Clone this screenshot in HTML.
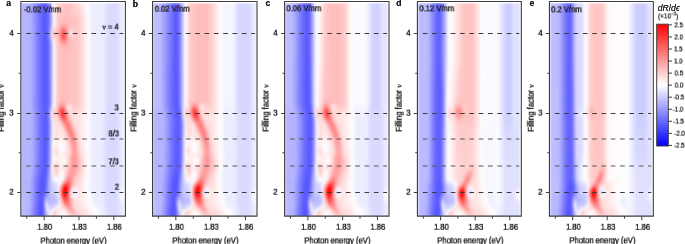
<!DOCTYPE html><html><head><meta charset="utf-8"><style>*{margin:0;padding:0;box-sizing:border-box}html,body{width:685px;height:244px;background:#fff;overflow:hidden;font-family:"Liberation Sans", sans-serif;color:#231f20}.hm{position:absolute;overflow:hidden}.hm>div{position:absolute;left:0;top:0;width:100%;height:100%;filter:blur(1.0px)}.hm i{position:absolute;left:0;width:100%;height:2.6px;display:block}.t{position:absolute;left:0;top:0;white-space:nowrap;line-height:1;font-size:8.5px;transform-origin:0 0;will-change:transform;text-shadow:0 0 0.35px #231f20;-webkit-text-stroke:0.17px #231f20}.b{font-weight:bold;font-size:8.6px;-webkit-text-stroke:0;text-shadow:0 0 0.25px #231f20}.s{font-family:"Liberation Serif",serif}.t sup{font-size:5.5px;vertical-align:3px;line-height:0}.cbt{font-size:8.6px;-webkit-text-stroke:0;text-shadow:0 0 0.3px #231f20}.cbl{font-size:6.9px;-webkit-text-stroke:0.05px #231f20}.cbu{font-size:7.1px;-webkit-text-stroke:0;text-shadow:0 0 0.3px #231f20}.cbu sup{font-size:4.8px;vertical-align:2.6px}</style></head><body><div class="hm" style="left:21.35px;top:2.5px;width:103.05px;height:213.1px"><div><i style="top:0px;background:linear-gradient(90deg,#b5b5ff 0%,#b5b5ff 7.8%,#9f9fff 11.6%,#7272ff 17.5%,#5757ff 23.3%,#6060ff 25.2%,#9393ff 28.1%,#aaf 29.1%,#fffefe 31.1%,#fffbfb 32%,#ffd6d6 34%,#ffc2c2 45.6%,#ffcece 52.4%,#fffdfd 64%,#ededff 67.9%,#ececff 80.5%,#dadaff 84.4%,#dadaff 93.2%,#e9e9ff 96.1%,#e9e9ff 100%)"></i><i style="top:2px;background:linear-gradient(90deg,#b5b5ff 0%,#b5b5ff 7.8%,#9f9fff 11.6%,#7878ff 16.5%,#6161ff 20.4%,#5757ff 23.3%,#6060ff 25.2%,#9292ff 28.1%,#a8a8ff 29.1%,#fff 31.1%,#fffbfb 32%,#ffd6d6 34%,#ffc1c1 45.6%,#ffd7d7 55.3%,#fffdfd 64%,#ededff 67.9%,#ececff 80.5%,#dadaff 84.4%,#dadaff 93.2%,#e9e9ff 96.1%,#e9e9ff 100%)"></i><i style="top:4px;background:linear-gradient(90deg,#b5b5ff 0%,#b5b5ff 7.8%,#99f 12.6%,#6767ff 19.4%,#5757ff 23.3%,#6060ff 25.2%,#6c6cff 26.2%,#a5a5ff 29.1%,#fff 31.1%,#fffbfb 32%,#ffd5d5 34%,#ffc1c1 45.6%,#ffcaca 51.4%,#ffdcdc 57.3%,#fdfdff 65%,#ededff 67.9%,#ececff 80.5%,#dadaff 84.4%,#dadaff 93.2%,#e9e9ff 96.1%,#e9e9ff 100%)"></i><i style="top:6px;background:linear-gradient(90deg,#b5b5ff 0%,#b2b2ff 8.7%,#7979ff 16.5%,#5757ff 23.3%,#6060ff 25.2%,#6b6bff 26.2%,#a1a1ff 29.1%,#fff 31.1%,#fffbfb 32%,#ffd5d5 34%,#ffc9c9 37.8%,#ffc0c0 44.6%,#ffd6d6 56.3%,#fefeff 65%,#ececff 68.9%,#ececff 80.5%,#dadaff 84.4%,#dadaff 93.2%,#e9e9ff 96.1%,#e9e9ff 100%)"></i><i style="top:8px;background:linear-gradient(90deg,#b5b5ff 0%,#b2b2ff 8.7%,#9a9aff 12.6%,#7979ff 16.5%,#5656ff 23.3%,#6969ff 26.2%,#9f9fff 29.1%,#fbfbff 31.1%,#fffbfb 32%,#ffd6d6 34%,#ffd1d1 34.9%,#ffc6c6 38.8%,#ffc0c0 44.6%,#ffd1d1 55.3%,#fff 65%,#ececff 68.9%,#ececff 80.5%,#dadaff 84.4%,#dadaff 93.2%,#e9e9ff 96.1%,#e9e9ff 100%)"></i><i style="top:10px;background:linear-gradient(90deg,#b5b5ff 0%,#b2b2ff 8.7%,#7a7aff 16.5%,#5656ff 23.3%,#6868ff 26.2%,#9d9dff 29.1%,#f8f8ff 31.1%,#fffcfc 32%,#ffd7d7 34%,#ffd0d0 34.9%,#ffc6c6 37.8%,#ffbfbf 43.7%,#ffd1d1 56.3%,#fffefe 65%,#ececff 68.9%,#ececff 80.5%,#dadaff 84.4%,#dadaff 93.2%,#e9e9ff 96.1%,#e9e9ff 100%)"></i><i style="top:12px;background:linear-gradient(90deg,#b5b5ff 0%,#b3b3ff 8.7%,#9b9bff 12.6%,#7a7aff 16.5%,#5656ff 23.3%,#6767ff 26.2%,#9b9bff 29.1%,#f4f4ff 31.1%,#fffcfc 32%,#ffefef 33%,#ffd8d8 34%,#ffcfcf 34.9%,#ffc4c4 37.8%,#ffbebe 43.7%,#ffcece 56.3%,#fffdfd 65%,#ececff 68.9%,#ececff 80.5%,#dadaff 84.4%,#dadaff 93.2%,#e9e9ff 96.1%,#e9e9ff 100%)"></i><i style="top:14px;background:linear-gradient(90deg,#b5b5ff 0%,#b3b3ff 8.7%,#7b7bff 16.5%,#5656ff 23.3%,#66f 26.2%,#9a9aff 29.1%,#c1c1ff 30.1%,#f1f1ff 31.1%,#fffcfc 32%,#fff0f0 33%,#ffd8d8 34%,#ffcfcf 34.9%,#ffc3c3 37.8%,#ffbdbd 43.7%,#ffc9c9 55.3%,#fdfdff 66%,#ececff 68.9%,#ececff 80.5%,#dadaff 84.4%,#dadaff 93.2%,#e9e9ff 96.1%,#e9e9ff 100%)"></i><i style="top:16px;background:linear-gradient(90deg,#b5b5ff 0%,#b4b4ff 8.7%,#9c9cff 12.6%,#7b7bff 16.5%,#5656ff 23.3%,#6565ff 26.2%,#99f 29.1%,#bfbfff 30.1%,#efefff 31.1%,#fffcfc 32%,#fff1f1 33%,#ffd9d9 34%,#ffcece 34.9%,#ffc1c1 37.8%,#fbb 42.7%,#ffc8c8 55.3%,#fdfdff 66%,#ececff 68.9%,#ececff 80.5%,#dadaff 84.4%,#dadaff 93.2%,#e9e9ff 96.1%,#e9e9ff 100%)"></i><i style="top:18px;background:linear-gradient(90deg,#b5b5ff 0%,#b4b4ff 8.7%,#9c9cff 12.6%,#7b7bff 16.5%,#5656ff 23.3%,#6565ff 26.2%,#99f 29.1%,#bfbfff 30.1%,#efefff 31.1%,#fffcfc 32%,#fff1f1 33%,#ffd9d9 34%,#ffcece 34.9%,#ffbfbf 37.8%,#ffb6b6 41.7%,#ffc7c7 55.3%,#fefeff 66%,#ececff 68.9%,#ececff 80.5%,#dadaff 84.4%,#dadaff 93.2%,#e9e9ff 96.1%,#e9e9ff 100%)"></i><i style="top:20px;background:linear-gradient(90deg,#b5b5ff 0%,#b4b4ff 8.7%,#9c9cff 12.6%,#7b7bff 16.5%,#5656ff 23.3%,#6565ff 26.2%,#9a9aff 29.1%,#c1c1ff 30.1%,#f2f2ff 31.1%,#fff9f9 32%,#ffefef 33%,#ffd8d8 34%,#ffcdcd 34.9%,#ffb2b2 39.8%,#ffadad 41.7%,#ffbfbf 47.5%,#ffcaca 56.3%,#fefeff 66%,#ececff 68.9%,#ececff 80.5%,#dadaff 84.4%,#dadaff 93.2%,#e9e9ff 96.1%,#e9e9ff 100%)"></i><i style="top:22px;background:linear-gradient(90deg,#b5b5ff 0%,#b4b4ff 8.7%,#9c9cff 12.6%,#7b7bff 16.5%,#5656ff 23.3%,#6565ff 26.2%,#77f 27.2%,#9f9fff 29.1%,#fafaff 31.1%,#fff2f2 32%,#ffebeb 33%,#ffd7d7 34%,#fcc 34.9%,#ff9f9f 40.8%,#ff9d9d 41.7%,#ffbdbd 46.6%,#ffcaca 56.3%,#fefeff 66%,#ececff 68.9%,#ececff 80.5%,#dadaff 84.4%,#dadaff 93.2%,#e9e9ff 96.1%,#e9e9ff 100%)"></i><i style="top:24px;background:linear-gradient(90deg,#b5b5ff 0%,#b4b4ff 8.7%,#9c9cff 12.6%,#7b7bff 16.5%,#5656ff 23.3%,#6565ff 26.2%,#7979ff 27.2%,#aaf 29.1%,#d8d8ff 30.1%,#fff2f2 31.1%,#ffe4e4 32%,#ffe3e3 33%,#ffd3d3 34%,#ffbcbc 36.9%,#ff8a8a 40.8%,#ff8787 41.7%,#ff8e8e 42.7%,#ffb6b6 45.6%,#ffc4c4 47.5%,#ffcaca 56.3%,#fefeff 66%,#ececff 68.9%,#ececff 80.5%,#dadaff 84.4%,#dadaff 93.2%,#e9e9ff 96.1%,#e9e9ff 100%)"></i><i style="top:26px;background:linear-gradient(90deg,#b5b5ff 0%,#b4b4ff 8.7%,#9c9cff 12.6%,#7b7bff 16.5%,#5656ff 23.3%,#66f 26.2%,#7b7bff 27.2%,#b9b9ff 29.1%,#efefff 30.1%,#ffd8d8 31.1%,#ffcfcf 32%,#ffd6d6 33%,#ffc3c3 35.9%,#ffa6a6 37.8%,#ff7e7e 39.8%,#ff7070 40.8%,#ff6d6d 41.7%,#ff7878 42.7%,#ffb7b7 45.6%,#ffd0d0 47.5%,#ffd2d2 48.5%,#ffc6c6 51.4%,#ffc7c7 55.3%,#fefeff 66%,#ececff 68.9%,#ececff 80.5%,#dadaff 84.4%,#dadaff 93.2%,#e9e9ff 96.1%,#e9e9ff 100%)"></i><i style="top:28px;background:linear-gradient(90deg,#b5b5ff 0%,#b4b4ff 8.7%,#9c9cff 12.6%,#7b7bff 16.5%,#5656ff 23.3%,#6767ff 26.2%,#7e7eff 27.2%,#9e9eff 28.1%,#c8c8ff 29.1%,#fff8f8 30.1%,#ffbfbf 31.1%,#ffbaba 32%,#ffcaca 33%,#ffc0c0 35.9%,#ffb3b3 36.9%,#ff5858 40.8%,#f55 41.7%,#ff6363 42.7%,#ffd1d1 46.6%,#ffdede 47.5%,#ffe0e0 48.5%,#ffc9c9 51.4%,#ffc5c5 53.4%,#ffcaca 56.3%,#fefeff 66%,#ececff 68.9%,#ececff 80.5%,#dadaff 84.4%,#dadaff 93.2%,#e9e9ff 96.1%,#e9e9ff 100%)"></i><i style="top:30px;background:linear-gradient(90deg,#b5b5ff 0%,#b4b4ff 8.7%,#9c9cff 12.6%,#7b7bff 16.5%,#5656ff 23.3%,#6767ff 26.2%,#7f7fff 27.2%,#a1a1ff 28.1%,#ceceff 29.1%,#fee 30.1%,#ffb4b4 31.1%,#ffb2b2 32%,#ffc4c4 33%,#ffbfbf 35.9%,#ffb0b0 36.9%,#ff5f5f 39.8%,#ff4a4a 40.8%,#ff4646 41.7%,#ff5656 42.7%,#ffb8b8 45.6%,#ffd3d3 46.6%,#ffe2e2 47.5%,#ffe4e4 48.5%,#ffcaca 51.4%,#ffc5c5 53.4%,#ffcaca 56.3%,#fefeff 66%,#ececff 68.9%,#ececff 80.5%,#dadaff 84.4%,#dadaff 93.2%,#e9e9ff 96.1%,#e9e9ff 100%)"></i><i style="top:32px;background:linear-gradient(90deg,#b5b5ff 0%,#b4b4ff 8.7%,#9c9cff 12.6%,#7b7bff 16.5%,#5656ff 23.3%,#6767ff 26.2%,#7e7eff 27.2%,#9e9eff 28.1%,#c8c8ff 29.1%,#fff8f8 30.1%,#ffbfbf 31.1%,#ffbaba 32%,#ffcaca 33%,#ffbfbf 35.9%,#ffb0b0 36.9%,#ff5f5f 39.8%,#ff4a4a 40.8%,#ff4646 41.7%,#ff5656 42.7%,#ffb2b2 45.6%,#ffc9c9 46.6%,#ffd7d7 47.5%,#ffd9d9 48.5%,#ffc5c5 52.4%,#ffc7c7 55.3%,#fefeff 66%,#ececff 68.9%,#ececff 80.5%,#dadaff 84.4%,#dadaff 93.2%,#e9e9ff 96.1%,#e9e9ff 100%)"></i><i style="top:34px;background:linear-gradient(90deg,#b5b5ff 0%,#b4b4ff 8.7%,#9c9cff 12.6%,#7b7bff 16.5%,#5656ff 23.3%,#66f 26.2%,#7b7bff 27.2%,#b9b9ff 29.1%,#efefff 30.1%,#ffd8d8 31.1%,#ffcfcf 32%,#ffd6d6 33%,#ffc1c1 35.9%,#ffb3b3 36.9%,#ff5858 40.8%,#f55 41.7%,#ff6262 42.7%,#ffaeae 45.6%,#ffc8c8 47.5%,#ffc7c7 55.3%,#fefeff 66%,#ececff 68.9%,#ececff 80.5%,#dadaff 84.4%,#dadaff 93.2%,#e9e9ff 96.1%,#e9e9ff 100%)"></i><i style="top:36px;background:linear-gradient(90deg,#b5b5ff 0%,#b4b4ff 8.7%,#9c9cff 12.6%,#7b7bff 16.5%,#5656ff 23.3%,#6565ff 26.2%,#7979ff 27.2%,#aaf 29.1%,#d8d8ff 30.1%,#fff2f2 31.1%,#ffe4e4 32%,#ffe3e3 33%,#ffd2d2 34%,#ffb7b7 36.9%,#ff7e7e 39.8%,#ff7070 40.8%,#ff6d6d 41.7%,#f77 42.7%,#ffaeae 45.6%,#ffc0c0 47.5%,#ffcaca 56.3%,#fefeff 66%,#ececff 68.9%,#ececff 80.5%,#dadaff 84.4%,#dadaff 93.2%,#e9e9ff 96.1%,#e9e9ff 100%)"></i><i style="top:38px;background:linear-gradient(90deg,#b5b5ff 0%,#b4b4ff 8.7%,#9c9cff 12.6%,#7b7bff 16.5%,#5656ff 23.3%,#6565ff 26.2%,#8a8aff 28.1%,#9f9fff 29.1%,#fafaff 31.1%,#ffebeb 33%,#ffd6d6 34%,#ffbcbc 36.9%,#ff9494 39.8%,#ff8787 41.7%,#ffbaba 46.6%,#ffcaca 56.3%,#fefeff 66%,#ececff 68.9%,#ececff 80.5%,#dadaff 84.4%,#dadaff 93.2%,#e9e9ff 96.1%,#e9e9ff 100%)"></i><i style="top:40px;background:linear-gradient(90deg,#b5b5ff 0%,#b4b4ff 8.7%,#9c9cff 12.6%,#7b7bff 16.5%,#5656ff 23.3%,#6565ff 26.2%,#9a9aff 29.1%,#c1c1ff 30.1%,#f2f2ff 31.1%,#fff9f9 32%,#ffefef 33%,#ffd8d8 34%,#ffcdcd 34.9%,#ff9f9f 40.8%,#ff9d9d 41.7%,#ffbcbc 46.6%,#ffcaca 56.3%,#fefeff 66%,#ececff 68.9%,#ececff 80.5%,#dadaff 84.4%,#dadaff 93.2%,#e9e9ff 96.1%,#e9e9ff 100%)"></i><i style="top:42px;background:linear-gradient(90deg,#b5b5ff 0%,#b4b4ff 8.7%,#9c9cff 12.6%,#7b7bff 16.5%,#5656ff 23.3%,#6464ff 26.2%,#99f 29.1%,#bfbfff 30.1%,#efefff 31.1%,#fffcfc 32%,#fff1f1 33%,#ffd9d9 34%,#ffcece 34.9%,#ffb2b2 39.8%,#ffadad 41.7%,#ffbfbf 47.5%,#ffcaca 56.3%,#fefeff 66%,#ececff 68.9%,#ececff 80.5%,#dadaff 84.4%,#dadaff 93.2%,#e9e9ff 96.1%,#e9e9ff 100%)"></i><i style="top:44px;background:linear-gradient(90deg,#b5b5ff 0%,#b4b4ff 8.7%,#9c9cff 12.6%,#7b7bff 16.5%,#5656ff 23.3%,#6464ff 26.2%,#9898ff 29.1%,#bebeff 30.1%,#eef 31.1%,#fffcfc 32%,#fff1f1 33%,#ffd9d9 34%,#ffcece 34.9%,#ffbfbf 37.8%,#ffb6b6 41.7%,#ffc7c7 55.3%,#fefeff 66%,#ececff 68.9%,#ececff 80.5%,#dadaff 84.4%,#dadaff 93.2%,#e9e9ff 96.1%,#e9e9ff 100%)"></i><i style="top:46px;background:linear-gradient(90deg,#b5b5ff 0%,#b4b4ff 8.7%,#9c9cff 12.6%,#7b7bff 16.5%,#5656ff 23.3%,#6464ff 26.2%,#9898ff 29.1%,#bebeff 30.1%,#eef 31.1%,#fffcfc 32%,#fff1f1 33%,#ffd9d9 34%,#ffcece 34.9%,#ffc1c1 37.8%,#ffbaba 42.7%,#ffc7c7 55.3%,#fefeff 66%,#ececff 68.9%,#ececff 80.5%,#dadaff 84.4%,#dadaff 93.2%,#e9e9ff 96.1%,#e9e9ff 100%)"></i><i style="top:48px;background:linear-gradient(90deg,#b5b5ff 0%,#b4b4ff 8.7%,#9c9cff 12.6%,#7b7bff 16.5%,#5656ff 23.3%,#6464ff 26.2%,#9898ff 29.1%,#bebeff 30.1%,#eef 31.1%,#fffcfc 32%,#fff1f1 33%,#ffd9d9 34%,#ffcece 34.9%,#ffc1c1 37.8%,#ffbcbc 42.7%,#ffc7c7 55.3%,#fefeff 66%,#ececff 68.9%,#ececff 80.5%,#dadaff 84.4%,#dadaff 93.2%,#e9e9ff 96.1%,#e9e9ff 100%)"></i><i style="top:50px;background:linear-gradient(90deg,#b5b5ff 0%,#b4b4ff 8.7%,#9c9cff 12.6%,#7b7bff 16.5%,#5656ff 23.3%,#6464ff 26.2%,#9898ff 29.1%,#bebeff 30.1%,#eef 31.1%,#fffcfc 32%,#fff1f1 33%,#ffd9d9 34%,#ffcece 34.9%,#ffc0c0 38.8%,#ffbdbd 43.7%,#ffc7c7 55.3%,#fefeff 66%,#ececff 68.9%,#ececff 80.5%,#dadaff 84.4%,#dadaff 93.2%,#e9e9ff 96.1%,#e9e9ff 100%)"></i><i style="top:52px;background:linear-gradient(90deg,#b5b5ff 0%,#b4b4ff 8.7%,#9c9cff 12.6%,#7b7bff 16.5%,#5656ff 23.3%,#6464ff 26.2%,#9898ff 29.1%,#bebeff 30.1%,#eef 31.1%,#fffcfc 32%,#fff1f1 33%,#ffd9d9 34%,#ffcece 34.9%,#ffc0c0 38.8%,#ffbdbd 43.7%,#ffc7c7 55.3%,#fefeff 66%,#ececff 68.9%,#ececff 80.5%,#dadaff 84.4%,#dadaff 93.2%,#e9e9ff 96.1%,#e9e9ff 100%)"></i><i style="top:54px;background:linear-gradient(90deg,#b5b5ff 0%,#b4b4ff 8.7%,#9c9cff 12.6%,#7b7bff 16.5%,#5656ff 23.3%,#6464ff 26.2%,#9898ff 29.1%,#bebeff 30.1%,#eef 31.1%,#fffcfc 32%,#fff1f1 33%,#ffd9d9 34%,#ffcece 34.9%,#ffc0c0 38.8%,#ffbdbd 43.7%,#ffc7c7 55.3%,#fefeff 66%,#ececff 68.9%,#ececff 80.5%,#dadaff 84.4%,#dadaff 93.2%,#e9e9ff 96.1%,#e9e9ff 100%)"></i><i style="top:56px;background:linear-gradient(90deg,#b5b5ff 0%,#b4b4ff 8.7%,#9c9cff 12.6%,#7b7bff 16.5%,#5656ff 23.3%,#6464ff 26.2%,#9898ff 29.1%,#bebeff 30.1%,#eef 31.1%,#fffcfc 32%,#fff1f1 33%,#ffd9d9 34%,#ffcece 34.9%,#ffc0c0 38.8%,#ffbdbd 43.7%,#ffc7c7 55.3%,#fefeff 66%,#ececff 68.9%,#ececff 80.5%,#dadaff 84.4%,#dadaff 93.2%,#e9e9ff 96.1%,#e9e9ff 100%)"></i><i style="top:58px;background:linear-gradient(90deg,#b5b5ff 0%,#b4b4ff 8.7%,#9c9cff 12.6%,#7b7bff 16.5%,#5656ff 23.3%,#6464ff 26.2%,#9898ff 29.1%,#bebeff 30.1%,#eef 31.1%,#fffcfc 32%,#fff1f1 33%,#ffd9d9 34%,#ffcece 34.9%,#ffc0c0 38.8%,#ffbdbd 43.7%,#ffc7c7 55.3%,#fefeff 66%,#ececff 68.9%,#ececff 80.5%,#dadaff 84.4%,#dadaff 93.2%,#e9e9ff 96.1%,#e9e9ff 100%)"></i><i style="top:60px;background:linear-gradient(90deg,#b5b5ff 0%,#b4b4ff 8.7%,#9c9cff 12.6%,#7b7bff 16.5%,#5656ff 23.3%,#6363ff 26.2%,#9898ff 29.1%,#bebeff 30.1%,#eef 31.1%,#fffcfc 32%,#fff1f1 33%,#ffd9d9 34%,#ffcece 34.9%,#ffc0c0 38.8%,#ffbdbd 43.7%,#ffc7c7 55.3%,#fefeff 66%,#ececff 68.9%,#ececff 80.5%,#dadaff 84.4%,#dadaff 93.2%,#e9e9ff 96.1%,#e9e9ff 100%)"></i><i style="top:62px;background:linear-gradient(90deg,#b5b5ff 0%,#b4b4ff 8.7%,#9c9cff 12.6%,#7b7bff 16.5%,#5656ff 23.3%,#6363ff 26.2%,#9898ff 29.1%,#bebeff 30.1%,#eef 31.1%,#fffcfc 32%,#fff1f1 33%,#ffd9d9 34%,#ffcece 34.9%,#ffc0c0 38.8%,#ffbdbd 43.7%,#ffc7c7 55.3%,#fefeff 66%,#ececff 68.9%,#ececff 80.5%,#dadaff 84.4%,#dadaff 93.2%,#e9e9ff 96.1%,#e9e9ff 100%)"></i><i style="top:64px;background:linear-gradient(90deg,#b5b5ff 0%,#b4b4ff 8.7%,#9c9cff 12.6%,#7b7bff 16.5%,#5656ff 23.3%,#6262ff 26.2%,#9898ff 29.1%,#bebeff 30.1%,#eef 31.1%,#fffcfc 32%,#fff1f1 33%,#ffd9d9 34%,#ffcece 34.9%,#ffc0c0 38.8%,#ffbdbd 43.7%,#ffc7c7 55.3%,#fefeff 66%,#ececff 68.9%,#ececff 80.5%,#dadaff 84.4%,#dadaff 93.2%,#e9e9ff 96.1%,#e9e9ff 100%)"></i><i style="top:66px;background:linear-gradient(90deg,#b5b5ff 0%,#b4b4ff 8.7%,#9c9cff 12.6%,#7b7bff 16.5%,#5656ff 23.3%,#6262ff 26.2%,#9898ff 29.1%,#bebeff 30.1%,#eef 31.1%,#fffcfc 32%,#fff1f1 33%,#ffd9d9 34%,#ffcece 34.9%,#ffc0c0 38.8%,#ffbdbd 43.7%,#ffc7c7 55.3%,#fefeff 66%,#ececff 68.9%,#ececff 80.5%,#dadaff 84.4%,#dadaff 93.2%,#e9e9ff 96.1%,#e9e9ff 100%)"></i><i style="top:68px;background:linear-gradient(90deg,#b5b5ff 0%,#b4b4ff 8.7%,#9c9cff 12.6%,#7b7bff 16.5%,#5656ff 23.3%,#6262ff 26.2%,#9898ff 29.1%,#bebeff 30.1%,#eef 31.1%,#fffcfc 32%,#fff1f1 33%,#ffd9d9 34%,#ffcece 34.9%,#ffc0c0 38.8%,#ffbdbd 43.7%,#ffc7c7 55.3%,#fefeff 66%,#ececff 68.9%,#ececff 80.5%,#dadaff 84.4%,#dadaff 93.2%,#e9e9ff 96.1%,#e9e9ff 100%)"></i><i style="top:70px;background:linear-gradient(90deg,#b5b5ff 0%,#b4b4ff 8.7%,#9c9cff 12.6%,#7b7bff 16.5%,#5757ff 23.3%,#6262ff 26.2%,#8585ff 28.1%,#9898ff 29.1%,#bebeff 30.1%,#eef 31.1%,#fffcfc 32%,#fff1f1 33%,#ffd9d9 34%,#ffcece 34.9%,#ffc0c0 38.8%,#ffbdbd 43.7%,#ffc7c7 55.3%,#fefeff 66%,#ececff 68.9%,#ececff 80.5%,#dadaff 84.4%,#dadaff 93.2%,#e9e9ff 96.1%,#e9e9ff 100%)"></i><i style="top:72px;background:linear-gradient(90deg,#b5b5ff 0%,#b4b4ff 8.7%,#9c9cff 12.6%,#7b7bff 16.5%,#5757ff 23.3%,#6262ff 26.2%,#8585ff 28.1%,#9898ff 29.1%,#bebeff 30.1%,#eef 31.1%,#fffcfc 32%,#fff1f1 33%,#ffd9d9 34%,#ffcece 34.9%,#ffc0c0 38.8%,#ffbdbd 43.7%,#ffc7c7 55.3%,#fefeff 66%,#ececff 68.9%,#ececff 80.5%,#dadaff 84.4%,#dadaff 93.2%,#e9e9ff 96.1%,#e9e9ff 100%)"></i><i style="top:74px;background:linear-gradient(90deg,#b5b5ff 0%,#b4b4ff 8.7%,#9c9cff 12.6%,#7b7bff 16.5%,#5757ff 23.3%,#6161ff 26.2%,#7272ff 27.2%,#9898ff 29.1%,#bebeff 30.1%,#eef 31.1%,#fffcfc 32%,#fff1f1 33%,#ffd9d9 34%,#ffcece 34.9%,#ffc0c0 38.8%,#ffbdbd 43.7%,#ffc7c7 55.3%,#fefeff 66%,#ececff 68.9%,#ececff 80.5%,#dadaff 84.4%,#dadaff 93.2%,#e9e9ff 96.1%,#e9e9ff 100%)"></i><i style="top:76px;background:linear-gradient(90deg,#b5b5ff 0%,#b4b4ff 8.7%,#9c9cff 12.6%,#7b7bff 16.5%,#5757ff 23.3%,#6161ff 26.2%,#7272ff 27.2%,#9898ff 29.1%,#bebeff 30.1%,#eef 31.1%,#fffcfc 32%,#fff1f1 33%,#ffd9d9 34%,#ffcece 34.9%,#ffc0c0 38.8%,#ffbdbd 43.7%,#ffc7c7 55.3%,#fefeff 66%,#ececff 68.9%,#ececff 80.5%,#dadaff 84.4%,#dadaff 93.2%,#e9e9ff 96.1%,#e9e9ff 100%)"></i><i style="top:78px;background:linear-gradient(90deg,#b5b5ff 0%,#b4b4ff 8.7%,#9c9cff 12.6%,#7b7bff 16.5%,#5757ff 23.3%,#6161ff 26.2%,#7171ff 27.2%,#9797ff 29.1%,#bebeff 30.1%,#eef 31.1%,#fffcfc 32%,#fff1f1 33%,#ffd9d9 34%,#ffcece 34.9%,#ffc0c0 38.8%,#ffbdbd 43.7%,#ffc7c7 55.3%,#fefeff 66%,#ececff 68.9%,#ececff 80.5%,#dadaff 84.4%,#dadaff 93.2%,#e9e9ff 96.1%,#e9e9ff 100%)"></i><i style="top:80px;background:linear-gradient(90deg,#b5b5ff 0%,#b4b4ff 8.7%,#9c9cff 12.6%,#7b7bff 16.5%,#5757ff 23.3%,#6161ff 26.2%,#7171ff 27.2%,#9797ff 29.1%,#bebeff 30.1%,#eef 31.1%,#fffcfc 32%,#fff1f1 33%,#ffd9d9 34%,#ffcece 34.9%,#ffc0c0 38.8%,#ffbdbd 43.7%,#ffc7c7 55.3%,#fefeff 66%,#ececff 68.9%,#ececff 80.5%,#dadaff 84.4%,#dadaff 93.2%,#e9e9ff 96.1%,#e9e9ff 100%)"></i><i style="top:82px;background:linear-gradient(90deg,#b5b5ff 0%,#b4b4ff 8.7%,#9c9cff 12.6%,#7b7bff 16.5%,#5757ff 23.3%,#6161ff 26.2%,#7171ff 27.2%,#9797ff 29.1%,#bebeff 30.1%,#eef 31.1%,#fffcfc 32%,#fff1f1 33%,#ffd9d9 34%,#ffcece 34.9%,#ffc0c0 38.8%,#ffbdbd 43.7%,#ffc7c7 55.3%,#fefeff 66%,#ececff 68.9%,#ececff 80.5%,#dadaff 84.4%,#dadaff 93.2%,#e9e9ff 96.1%,#e9e9ff 100%)"></i><i style="top:84px;background:linear-gradient(90deg,#b5b5ff 0%,#b4b4ff 8.7%,#9c9cff 12.6%,#7b7bff 16.5%,#5757ff 23.3%,#6161ff 26.2%,#7070ff 27.2%,#9797ff 29.1%,#bebeff 30.1%,#eef 31.1%,#fffcfc 32%,#fff1f1 33%,#ffd9d9 34%,#ffcece 34.9%,#ffc0c0 38.8%,#ffbdbd 43.7%,#ffc7c7 55.3%,#fefeff 66%,#ececff 68.9%,#ececff 80.5%,#dadaff 84.4%,#dadaff 93.2%,#e9e9ff 96.1%,#e9e9ff 100%)"></i><i style="top:86px;background:linear-gradient(90deg,#b5b5ff 0%,#b4b4ff 8.7%,#9c9cff 12.6%,#7b7bff 16.5%,#5757ff 23.3%,#6161ff 26.2%,#7070ff 27.2%,#9797ff 29.1%,#bebeff 30.1%,#eef 31.1%,#fffcfc 32%,#fff1f1 33%,#ffd9d9 34%,#ffcece 34.9%,#ffc0c0 38.8%,#ffbdbd 43.7%,#ffc7c7 55.3%,#fefeff 66%,#ececff 68.9%,#ececff 80.5%,#dadaff 84.4%,#dadaff 93.2%,#e9e9ff 96.1%,#e9e9ff 100%)"></i><i style="top:88px;background:linear-gradient(90deg,#b5b5ff 0%,#b4b4ff 8.7%,#9c9cff 12.6%,#7b7bff 16.5%,#5757ff 23.3%,#6161ff 26.2%,#7070ff 27.2%,#9797ff 29.1%,#bebeff 30.1%,#eef 31.1%,#fffcfc 32%,#fff1f1 33%,#ffd9d9 34%,#ffcece 34.9%,#ffc0c0 38.8%,#ffbdbd 43.7%,#ffc7c7 55.3%,#fefeff 66%,#ececff 68.9%,#ececff 80.5%,#dadaff 84.4%,#dadaff 93.2%,#e9e9ff 96.1%,#e9e9ff 100%)"></i><i style="top:90px;background:linear-gradient(90deg,#b5b5ff 0%,#b4b4ff 8.7%,#9c9cff 12.6%,#7b7bff 16.5%,#5757ff 23.3%,#6161ff 26.2%,#6f6fff 27.2%,#9797ff 29.1%,#bebeff 30.1%,#eef 31.1%,#fffcfc 32%,#fff1f1 33%,#ffd9d9 34%,#ffcece 34.9%,#ffc0c0 38.8%,#ffbdbd 43.7%,#ffc7c7 55.3%,#fefeff 66%,#ececff 68.9%,#ececff 80.5%,#dadaff 84.4%,#dadaff 93.2%,#e9e9ff 96.1%,#e9e9ff 100%)"></i><i style="top:92px;background:linear-gradient(90deg,#b5b5ff 0%,#b4b4ff 8.7%,#9c9cff 12.6%,#7b7bff 16.5%,#5757ff 23.3%,#6161ff 26.2%,#6f6fff 27.2%,#9797ff 29.1%,#bebeff 30.1%,#eef 31.1%,#fffcfc 32%,#fff1f1 33%,#ffd9d9 34%,#ffcece 34.9%,#ffc1c1 37.8%,#ffbdbd 43.7%,#ffc7c7 55.3%,#fefeff 66%,#ececff 68.9%,#ececff 80.5%,#dadaff 84.4%,#dadaff 93.2%,#e9e9ff 96.1%,#e9e9ff 100%)"></i><i style="top:94px;background:linear-gradient(90deg,#b5b5ff 0%,#b4b4ff 8.7%,#9c9cff 12.6%,#7b7bff 16.5%,#5757ff 23.3%,#6161ff 26.2%,#6f6fff 27.2%,#9797ff 29.1%,#bebeff 30.1%,#eef 31.1%,#fffcfc 32%,#fff1f1 33%,#ffd9d9 34%,#ffcece 34.9%,#ffc1c1 37.8%,#ffbcbc 42.7%,#ffc7c7 55.3%,#fefeff 66%,#ececff 68.9%,#ececff 80.5%,#dadaff 84.4%,#dadaff 93.2%,#e9e9ff 96.1%,#e9e9ff 100%)"></i><i style="top:96px;background:linear-gradient(90deg,#b5b5ff 0%,#b4b4ff 8.7%,#9c9cff 12.6%,#7b7bff 16.5%,#5757ff 23.3%,#6060ff 26.2%,#6f6fff 27.2%,#9797ff 29.1%,#bebeff 30.1%,#eef 31.1%,#fffcfc 32%,#fff1f1 33%,#ffd9d9 34%,#ffcdcd 34.9%,#ffbebe 37.8%,#ffbaba 41.7%,#ffc7c7 55.3%,#fefeff 66%,#ececff 68.9%,#ececff 80.5%,#dadaff 84.4%,#dadaff 93.2%,#e9e9ff 96.1%,#e9e9ff 100%)"></i><i style="top:98px;background:linear-gradient(90deg,#b5b5ff 0%,#b4b4ff 8.7%,#7575ff 17.5%,#5757ff 23.3%,#6161ff 26.2%,#6f6fff 27.2%,#9898ff 29.1%,#bfbfff 30.1%,#efefff 31.1%,#fffbfb 32%,#fff1f1 33%,#ffd9d9 34%,#fcc 34.9%,#ffb8b8 37.8%,#ffb3b3 40.8%,#ffc1c1 45.6%,#ffc7c7 55.3%,#fefeff 66%,#ececff 68.9%,#ececff 80.5%,#dadaff 84.4%,#dadaff 93.2%,#e9e9ff 96.1%,#e9e9ff 100%)"></i><i style="top:100px;background:linear-gradient(90deg,#b5b5ff 0%,#b4b4ff 8.7%,#7c7cff 16.5%,#5757ff 23.3%,#6161ff 26.2%,#7070ff 27.2%,#9c9cff 29.1%,#f3f3ff 31.1%,#fff9f9 32%,#fff2f2 33%,#ffcbcb 34.9%,#ffadad 37.8%,#ffa3a3 39.8%,#faa 41.7%,#ffc5c5 44.6%,#ffd0d0 46.6%,#ffc5c5 51.4%,#ffc9c9 55.3%,#fefeff 66%,#ececff 68.9%,#ececff 80.5%,#dadaff 84.4%,#dadaff 93.2%,#e9e9ff 96.1%,#e9e9ff 100%)"></i><i style="top:102px;background:linear-gradient(90deg,#b5b5ff 0%,#b5b5ff 8.7%,#9d9dff 12.6%,#7c7cff 16.5%,#5757ff 23.3%,#6262ff 26.2%,#7373ff 27.2%,#a5a5ff 29.1%,#fcfcff 31.1%,#fff2f2 32%,#fff0f0 33%,#ffc9c9 34.9%,#ff9a9a 37.8%,#f88 39.8%,#ff9797 41.7%,#ffdfdf 45.6%,#ffe5e5 46.6%,#ffcbcb 50.5%,#ffc9c9 52.4%,#ffcdcd 56.3%,#fdfdff 66%,#ececff 68.9%,#ececff 80.5%,#dadaff 83.5%,#dadaff 93.2%,#e9e9ff 96.1%,#e9e9ff 100%)"></i><i style="top:104px;background:linear-gradient(90deg,#b5b5ff 0%,#b5b5ff 8.7%,#9e9eff 12.6%,#7676ff 17.5%,#6060ff 21.3%,#5959ff 24.3%,#6363ff 26.2%,#7676ff 27.2%,#b4b4ff 29.1%,#e1e1ff 30.1%,#fff1f1 31.1%,#ffe4e4 32%,#ffe7e7 33%,#ffdbdb 34%,#ffb3b3 35.9%,#ff6c6c 38.8%,#ff6363 39.8%,#ff6a6a 40.8%,#ff7d7d 41.7%,#ffd0d0 44.6%,#ffe5e5 45.6%,#fee 46.6%,#ffcfcf 50.5%,#ffcdcd 52.4%,#ffd4d4 57.3%,#fdfdff 66%,#ececff 68.9%,#ececff 80.5%,#dadaff 83.5%,#dadaff 93.2%,#e9e9ff 96.1%,#e9e9ff 100%)"></i><i style="top:106px;background:linear-gradient(90deg,#b5b5ff 0%,#b2b2ff 9.7%,#6565ff 20.4%,#5959ff 24.3%,#6464ff 26.2%,#7b7bff 27.2%,#c7c7ff 29.1%,#f8f8ff 30.1%,#ffdbdb 31.1%,#ffd2d2 32%,#ffdbdb 33%,#ffd7d7 34%,#ffabab 35.9%,#ff4e4e 38.8%,#ff4141 39.8%,#ff4848 40.8%,#ff6060 41.7%,#ffc1c1 44.6%,#ffd7d7 45.6%,#ffe1e1 46.6%,#ffe2e2 47.5%,#ffd0d0 51.4%,#ffd7d7 57.3%,#fdfdff 66%,#ececff 68.9%,#ebebff 80.5%,#dadaff 83.5%,#dadaff 93.2%,#e9e9ff 96.1%,#e9e9ff 100%)"></i><i style="top:108px;background:linear-gradient(90deg,#b5b5ff 0%,#b3b3ff 9.7%,#6565ff 20.4%,#5858ff 23.3%,#5a5aff 24.3%,#6565ff 26.2%,#8080ff 27.2%,#d8d8ff 29.1%,#fff2f2 30.1%,#ffc8c8 31.1%,#ffc3c3 32%,#ffd5d5 34%,#ffc6c6 34.9%,#faa 35.9%,#ff4040 38.8%,#ff2e2e 39.8%,#ff3232 40.8%,#ff4a4a 41.7%,#ff9191 43.7%,#ffb0b0 44.6%,#ffc6c6 45.6%,#ffd3d3 46.6%,#ffd7d7 47.5%,#ffd4d4 51.4%,#ffdede 58.2%,#fffdfd 65%,#ececff 68.9%,#ececff 79.6%,#dadaff 83.5%,#dadaff 93.2%,#e9e9ff 96.1%,#e9e9ff 100%)"></i><i style="top:110px;background:linear-gradient(90deg,#b5b5ff 0%,#b4b4ff 9.7%,#7878ff 17.5%,#6161ff 21.3%,#5a5aff 24.3%,#66f 26.2%,#8282ff 27.2%,#e0e0ff 29.1%,#ffeaea 30.1%,#ffc3c3 31.1%,#ffbfbf 32%,#ffd7d7 34%,#fcc 34.9%,#ff9292 36.9%,#ff4747 38.8%,#ff3131 39.8%,#ff2d2d 40.8%,#ff3e3e 41.7%,#ffa3a3 44.6%,#ffbcbc 45.6%,#fcc 46.6%,#ffd8d8 48.5%,#ffe1e1 58.2%,#fffdfd 65%,#ececff 68.9%,#ececff 79.6%,#dadaff 82.5%,#dadaff 93.2%,#e9e9ff 96.1%,#e9e9ff 100%)"></i><i style="top:112px;background:linear-gradient(90deg,#b5b5ff 0%,#b5b5ff 9.7%,#7272ff 18.4%,#6161ff 21.3%,#5a5aff 24.3%,#6565ff 26.2%,#8181ff 27.2%,#ddf 29.1%,#fff2f2 30.1%,#ffcdcd 31.1%,#ffc7c7 32%,#ffdbdb 34%,#ffd5d5 34.9%,#ffa6a6 36.9%,#ff6161 38.8%,#ff4545 39.8%,#ff3838 40.8%,#ff3f3f 41.7%,#ff5656 42.7%,#ff9797 44.6%,#ffc7c7 46.6%,#ffd3d3 47.5%,#ffdcdc 49.5%,#ffe7e7 59.2%,#fffdfd 65%,#ededff 68.9%,#ececff 79.6%,#dadaff 82.5%,#dadaff 93.2%,#e9e9ff 96.1%,#e9e9ff 100%)"></i><i style="top:114px;background:linear-gradient(90deg,#b5b5ff 0%,#b5b5ff 9.7%,#9c9cff 13.6%,#6c6cff 19.4%,#5959ff 23.3%,#5a5aff 24.3%,#6464ff 26.2%,#7f7fff 27.2%,#fcfcff 30.1%,#ffdfdf 31.1%,#ffd3d3 32%,#fdd 34%,#ffdcdc 34.9%,#ffd0d0 35.9%,#ffbdbd 36.9%,#ff6464 39.8%,#ff5050 40.8%,#ff4b4b 41.7%,#ff5757 42.7%,#ffbebe 46.6%,#ffd7d7 48.5%,#ffdfdf 50.5%,#ffe9e9 59.2%,#fffefe 65%,#ededff 68.9%,#ececff 79.6%,#dadaff 82.5%,#dadaff 94.1%,#e9e9ff 96.1%,#e9e9ff 100%)"></i><i style="top:116px;background:linear-gradient(90deg,#b5b5ff 0%,#b5b5ff 9.7%,#66f 20.4%,#5a5aff 24.3%,#6464ff 26.2%,#7d7dff 27.2%,#ececff 30.1%,#fee 31.1%,#ffdcdc 32%,#ffdede 34.9%,#ffd0d0 36.9%,#ff7171 40.8%,#ff6464 41.7%,#ff6464 42.7%,#ff7070 43.7%,#ffafaf 46.6%,#ffcece 48.5%,#ffe0e0 51.4%,#ffeaea 59.2%,#fffefe 65%,#ededff 68.9%,#ececff 79.6%,#dadaff 82.5%,#dadaff 94.1%,#e9e9ff 96.1%,#e9e9ff 100%)"></i><i style="top:118px;background:linear-gradient(90deg,#b5b5ff 0%,#b5b5ff 9.7%,#66f 20.4%,#5a5aff 24.3%,#6363ff 26.2%,#7b7bff 27.2%,#e3e3ff 30.1%,#fff7f7 31.1%,#ffe1e1 32%,#ffd8d8 33%,#ffe0e0 35.9%,#ffdcdc 36.9%,#ffbfbf 38.8%,#ff8181 41.7%,#ff7575 43.7%,#ff8787 45.6%,#ffc0c0 48.5%,#ffd8d8 50.5%,#ffeaea 59.2%,#fffefe 65%,#ededff 68.9%,#ececff 79.6%,#dadaff 82.5%,#dadaff 94.1%,#e9e9ff 96.1%,#e9e9ff 100%)"></i><i style="top:120px;background:linear-gradient(90deg,#b5b5ff 0%,#b5b5ff 9.7%,#9c9cff 13.6%,#6c6cff 19.4%,#5959ff 23.3%,#5a5aff 24.3%,#6363ff 26.2%,#7a7aff 27.2%,#fffcfc 31.1%,#ffe5e5 32%,#ffd9d9 33%,#ffd7d7 34%,#ffe3e3 36.9%,#ffdede 37.8%,#ffc4c4 39.8%,#ff8b8b 42.7%,#ff7575 44.6%,#f77 45.6%,#ff8484 46.6%,#ffc2c2 49.5%,#ffd8d8 51.4%,#fffefe 65%,#ededff 68.9%,#ececff 79.6%,#dadaff 82.5%,#dadaff 94.1%,#e9e9ff 96.1%,#e9e9ff 100%)"></i><i style="top:122px;background:linear-gradient(90deg,#b5b5ff 0%,#b5b5ff 9.7%,#9c9cff 13.6%,#6c6cff 19.4%,#5959ff 23.3%,#5a5aff 24.3%,#6363ff 26.2%,#7a7aff 27.2%,#fff 31.1%,#ffdcdc 33%,#ffd7d7 34%,#ffe5e5 36.9%,#ffdfdf 38.8%,#ffc6c6 40.8%,#ff7878 44.6%,#ff7272 45.6%,#ff7979 46.6%,#ff8989 47.5%,#ffc5c5 50.5%,#ffd9d9 52.4%,#fffefe 65%,#ededff 68.9%,#ececff 79.6%,#dadaff 82.5%,#dadaff 94.1%,#e9e9ff 96.1%,#e9e9ff 100%)"></i><i style="top:124px;background:linear-gradient(90deg,#b5b5ff 0%,#b5b5ff 9.7%,#9c9cff 13.6%,#7979ff 17.5%,#5959ff 23.3%,#6363ff 26.2%,#7b7bff 27.2%,#fefeff 31.1%,#ffd5d5 34%,#ffe8e8 37.8%,#ffdede 39.8%,#ffc4c4 41.7%,#ff8787 44.6%,#ff7a7a 45.6%,#ff7878 46.6%,#ff8080 47.5%,#ffb6b6 50.5%,#ffd2d2 52.4%,#ffe2e2 55.3%,#fffefe 65%,#ededff 68.9%,#ececff 79.6%,#dadaff 82.5%,#dadaff 94.1%,#e9e9ff 96.1%,#e9e9ff 100%)"></i><i style="top:126px;background:linear-gradient(90deg,#b5b5ff 0%,#b5b5ff 9.7%,#9c9cff 13.6%,#7979ff 17.5%,#5959ff 23.3%,#6363ff 26.2%,#7b7bff 27.2%,#fefeff 31.1%,#ffd5d5 34%,#ffd5d5 34.9%,#ffe9e9 37.8%,#ffe4e4 39.8%,#ffd1d1 41.7%,#ff8a8a 45.6%,#ff7e7e 46.6%,#ff7b7b 47.5%,#ff9191 49.5%,#ffc9c9 52.4%,#ffdcdc 54.3%,#fffefe 65%,#ededff 68.9%,#ececff 79.6%,#dadaff 82.5%,#dadaff 94.1%,#e9e9ff 96.1%,#e9e9ff 100%)"></i><i style="top:128px;background:linear-gradient(90deg,#b5b5ff 0%,#b5b5ff 9.7%,#9c9cff 13.6%,#7272ff 18.4%,#5959ff 23.3%,#6363ff 26.2%,#7c7cff 27.2%,#fffefe 31.1%,#ffd7d7 34%,#ffd7d7 34.9%,#ffeaea 37.8%,#ffe2e2 40.8%,#ffc2c2 43.7%,#ff8787 46.6%,#ff7b7b 47.5%,#ff7979 48.5%,#ff8383 49.5%,#ffc0c0 52.4%,#ffd9d9 54.3%,#ffe4e4 56.3%,#fffefe 65%,#ededff 68.9%,#ececff 79.6%,#dadaff 82.5%,#dadaff 94.1%,#e9e9ff 96.1%,#e9e9ff 100%)"></i><i style="top:130px;background:linear-gradient(90deg,#b5b5ff 0%,#b5b5ff 9.7%,#9c9cff 13.6%,#7272ff 18.4%,#5959ff 23.3%,#6363ff 26.2%,#7d7dff 27.2%,#fffcfc 31.1%,#ffd9d9 34%,#ffebeb 37.8%,#ffe5e5 40.8%,#ffd9d9 42.7%,#ffbfbf 44.6%,#ff8282 47.5%,#ff7a7a 48.5%,#ff7d7d 49.5%,#ffc8c8 53.4%,#fdd 55.3%,#fffefe 65%,#ededff 68.9%,#ececff 79.6%,#dadaff 82.5%,#dadaff 94.1%,#e9e9ff 96.1%,#e9e9ff 100%)"></i><i style="top:132px;background:linear-gradient(90deg,#b5b5ff 0%,#b5b5ff 9.7%,#9c9cff 13.6%,#7272ff 18.4%,#5858ff 23.3%,#6363ff 26.2%,#9d9dff 28.1%,#fffafa 31.1%,#ffdbdb 34%,#ffecec 37.8%,#ffdfdf 42.7%,#ffcbcb 44.6%,#ff9090 47.5%,#ff8282 48.5%,#ff7e7e 49.5%,#ff8787 50.5%,#ffc0c0 53.4%,#ffdada 55.3%,#fffefe 65%,#ededff 68.9%,#ececff 79.6%,#dadaff 82.5%,#dadaff 94.1%,#e9e9ff 96.1%,#e9e9ff 100%)"></i><i style="top:134px;background:linear-gradient(90deg,#b5b5ff 0%,#b5b5ff 9.7%,#9c9cff 13.6%,#7878ff 17.5%,#5858ff 23.3%,#6363ff 26.2%,#9d9dff 28.1%,#e0e0ff 30.1%,#fffafa 31.1%,#ffe1e1 34%,#ffeded 37.8%,#fdd 43.7%,#ffc6c6 45.6%,#ff8d8d 48.5%,#ff8282 49.5%,#ff8484 50.5%,#ff9090 51.4%,#ffc9c9 54.3%,#ffdfdf 56.3%,#fffefe 65%,#ededff 68.9%,#ececff 79.6%,#dadaff 82.5%,#dadaff 94.1%,#e9e9ff 96.1%,#e9e9ff 100%)"></i><i style="top:136px;background:linear-gradient(90deg,#b5b5ff 0%,#b5b5ff 9.7%,#9c9cff 13.6%,#7878ff 17.5%,#5858ff 23.3%,#6464ff 26.2%,#bdbdff 29.1%,#e1e1ff 30.1%,#fffbfb 31.1%,#ffe9e9 34%,#fff1f1 37.8%,#ffe2e2 43.7%,#ffd0d0 45.6%,#ff8989 49.5%,#ff8585 50.5%,#ff8c8c 51.4%,#ffc4c4 54.3%,#fdd 56.3%,#fffefe 65%,#ededff 68.9%,#ececff 79.6%,#dadaff 82.5%,#dadaff 94.1%,#e9e9ff 96.1%,#e9e9ff 100%)"></i><i style="top:138px;background:linear-gradient(90deg,#b5b5ff 0%,#b5b5ff 9.7%,#9c9cff 13.6%,#6464ff 20.4%,#5858ff 23.3%,#6464ff 26.2%,#bdbdff 29.1%,#e3e3ff 30.1%,#fffcfc 31.1%,#fee 34.9%,#fff8f8 38.8%,#ffe0e0 44.6%,#ffcaca 46.6%,#ff9393 49.5%,#ff8a8a 50.5%,#ff8c8c 51.4%,#ff9898 52.4%,#ffcfcf 55.3%,#ffdbdb 56.3%,#fffefe 65%,#ededff 68.9%,#ececff 79.6%,#dadaff 82.5%,#dadaff 94.1%,#e9e9ff 96.1%,#e9e9ff 100%)"></i><i style="top:140px;background:linear-gradient(90deg,#b5b5ff 0%,#b5b5ff 9.7%,#9b9bff 13.6%,#7171ff 18.4%,#5858ff 23.3%,#6464ff 26.2%,#bebeff 29.1%,#e5e5ff 30.1%,#fffbfb 31.1%,#ffefef 34%,#fefeff 37.8%,#fffafa 40.8%,#ffdcdc 45.6%,#ffc3c3 47.5%,#ff9e9e 49.5%,#ff9191 50.5%,#ff8e8e 51.4%,#ff9696 52.4%,#ffd8d8 56.3%,#ffe6e6 58.2%,#fffefe 65%,#ededff 68.9%,#ececff 79.6%,#dadaff 82.5%,#dadaff 94.1%,#e9e9ff 96.1%,#e9e9ff 100%)"></i><i style="top:142px;background:linear-gradient(90deg,#b5b5ff 0%,#b5b5ff 9.7%,#9b9bff 13.6%,#7171ff 18.4%,#5858ff 23.3%,#6464ff 26.2%,#bebeff 29.1%,#e7e7ff 30.1%,#fff9f9 31.1%,#ffe8e8 34%,#ffeaea 34.9%,#fff 36.9%,#f3f3ff 38.8%,#fdfdff 40.8%,#ffd7d7 46.6%,#ff9898 50.5%,#ff9191 51.4%,#ff9595 52.4%,#ffc7c7 55.3%,#ffdfdf 57.3%,#fffefe 65%,#ededff 68.9%,#ececff 79.6%,#dadaff 82.5%,#dadaff 94.1%,#e9e9ff 96.1%,#e9e9ff 100%)"></i><i style="top:144px;background:linear-gradient(90deg,#b5b5ff 0%,#b5b5ff 9.7%,#6a6aff 19.4%,#5858ff 23.3%,#6565ff 26.2%,#bfbfff 29.1%,#eaeaff 30.1%,#fff6f6 31.1%,#ffdede 34%,#ffe2e2 34.9%,#fffefe 36.9%,#f2f2ff 38.8%,#fbfbff 40.8%,#fffafa 41.7%,#ffdbdb 46.6%,#ffd0d0 47.5%,#ff9d9d 50.5%,#ff9494 51.4%,#ff9696 52.4%,#ffa1a1 53.4%,#ffc5c5 55.3%,#fdd 57.3%,#fffefe 65%,#ededff 68.9%,#ececff 79.6%,#dadaff 82.5%,#dadaff 94.1%,#e9e9ff 96.1%,#e9e9ff 100%)"></i><i style="top:146px;background:linear-gradient(90deg,#b5b5ff 0%,#b5b5ff 9.7%,#9b9bff 13.6%,#77f 17.5%,#5858ff 23.3%,#66f 26.2%,#bfbfff 29.1%,#ececff 30.1%,#fff4f4 31.1%,#ffdcdc 33%,#ffd7d7 34%,#ffdcdc 34.9%,#fff8f8 36.9%,#fcfcff 37.8%,#f8f8ff 38.8%,#fffefe 40.8%,#ffdcdc 46.6%,#ffd2d2 47.5%,#ffa1a1 50.5%,#ff9898 51.4%,#ff9898 52.4%,#ffdcdc 57.3%,#fffefe 65%,#ededff 68.9%,#ececff 79.6%,#dadaff 82.5%,#dadaff 94.1%,#e9e9ff 96.1%,#e9e9ff 100%)"></i><i style="top:148px;background:linear-gradient(90deg,#b5b5ff 0%,#b5b5ff 9.7%,#9b9bff 13.6%,#77f 17.5%,#5858ff 23.3%,#6767ff 26.2%,#bfbfff 29.1%,#eef 30.1%,#fff5f5 31.1%,#ffd8d8 34%,#ffdbdb 34.9%,#fffafa 37.8%,#fffbfb 39.8%,#ffdbdb 46.6%,#ffd2d2 47.5%,#ffa3a3 50.5%,#f99 51.4%,#f99 52.4%,#ffd9d9 57.3%,#fffdfd 65%,#ededff 68.9%,#ececff 79.6%,#dadaff 82.5%,#dadaff 94.1%,#e9e9ff 96.1%,#e9e9ff 100%)"></i><i style="top:150px;background:linear-gradient(90deg,#b5b5ff 0%,#b5b5ff 9.7%,#9b9bff 13.6%,#7070ff 18.4%,#5858ff 23.3%,#6767ff 26.2%,#bfbfff 29.1%,#eef 30.1%,#fff7f7 31.1%,#ffe0e0 34%,#fff4f4 38.8%,#ffe0e0 45.6%,#ffcfcf 47.5%,#ffa1a1 50.5%,#ff9898 51.4%,#ff9898 52.4%,#ffa0a0 53.4%,#fcc 56.3%,#ffd5d5 57.3%,#fffdfd 65%,#ededff 68.9%,#ececff 79.6%,#dadaff 82.5%,#dadaff 94.1%,#e9e9ff 96.1%,#e9e9ff 100%)"></i><i style="top:152px;background:linear-gradient(90deg,#b5b5ff 0%,#b5b5ff 9.7%,#9b9bff 13.6%,#7070ff 18.4%,#5858ff 23.3%,#6868ff 26.2%,#bfbfff 29.1%,#efefff 30.1%,#fffafa 31.1%,#ffe7e7 34.9%,#fff1f1 39.8%,#ffeaea 43.7%,#ffd4d4 46.6%,#ff9d9d 50.5%,#ff9595 51.4%,#ff9e9e 53.4%,#ffd1d1 57.3%,#fffdfd 65%,#ededff 68.9%,#ececff 79.6%,#dadaff 82.5%,#dadaff 94.1%,#e9e9ff 96.1%,#e9e9ff 100%)"></i><i style="top:154px;background:linear-gradient(90deg,#b5b5ff 0%,#b5b5ff 9.7%,#9b9bff 13.6%,#7070ff 18.4%,#5858ff 23.3%,#6868ff 26.2%,#bfbfff 29.1%,#efefff 30.1%,#fffbfb 31.1%,#ffecec 34.9%,#fff5f5 42.7%,#ffe7e7 44.6%,#ffa5a5 49.5%,#ff9393 51.4%,#ff9b9b 53.4%,#ffd4d4 58.2%,#fffdfd 65%,#ededff 68.9%,#ececff 79.6%,#dadaff 82.5%,#dadaff 94.1%,#e9e9ff 96.1%,#e9e9ff 100%)"></i><i style="top:156px;background:linear-gradient(90deg,#b5b5ff 0%,#b5b5ff 9.7%,#9b9bff 13.6%,#7070ff 18.4%,#5858ff 23.3%,#6868ff 26.2%,#c0c0ff 29.1%,#f1f1ff 30.1%,#fff8f8 31.1%,#ffecec 34.9%,#fffbfb 42.7%,#ffe9e9 44.6%,#ffa2a2 49.5%,#ff9494 51.4%,#ff9c9c 53.4%,#ffc8c8 57.3%,#ffe0e0 60.2%,#fffcfc 65%,#fdfdff 66%,#ededff 68.9%,#ececff 79.6%,#dadaff 82.5%,#dadaff 94.1%,#e9e9ff 96.1%,#e9e9ff 100%)"></i><i style="top:158px;background:linear-gradient(90deg,#b5b5ff 0%,#b5b5ff 9.7%,#9b9bff 13.6%,#6969ff 19.4%,#5858ff 23.3%,#6969ff 26.2%,#c2c2ff 29.1%,#f4f4ff 30.1%,#fff2f2 31.1%,#ffe6e6 34%,#fff9f9 40.8%,#fff7f7 42.7%,#ffe5e5 44.6%,#ffa2a2 49.5%,#ff9797 51.4%,#ff9e9e 53.4%,#ffe6e6 61.1%,#fffcfc 65%,#fdfdff 66%,#ededff 68.9%,#ececff 79.6%,#dadaff 82.5%,#dadaff 94.1%,#e9e9ff 96.1%,#e9e9ff 100%)"></i><i style="top:160px;background:linear-gradient(90deg,#b5b5ff 0%,#b5b5ff 9.7%,#9a9aff 13.6%,#6f6fff 18.4%,#5858ff 23.3%,#6b6bff 26.2%,#a3a3ff 28.1%,#c6c6ff 29.1%,#f9f9ff 30.1%,#ffebeb 31.1%,#ffd7d7 33%,#ffecec 36.9%,#fff1f1 41.7%,#fdd 44.6%,#ff9f9f 49.5%,#ff9898 51.4%,#ffa0a0 53.4%,#ffe5e5 61.1%,#fffcfc 65%,#ededff 68.9%,#ececff 79.6%,#dadaff 82.5%,#dadaff 94.1%,#e9e9ff 96.1%,#e9e9ff 100%)"></i><i style="top:162px;background:linear-gradient(90deg,#b5b5ff 0%,#b5b5ff 9.7%,#6e6eff 18.4%,#5959ff 23.3%,#6161ff 25.2%,#6e6eff 26.2%,#a6a6ff 28.1%,#cbcbff 29.1%,#fdfdff 30.1%,#ffe6e6 31.1%,#ffcbcb 33%,#ffcece 34%,#ffeaea 36.9%,#fee 38.8%,#ffe9e9 41.7%,#ffd6d6 44.6%,#ff9b9b 49.5%,#ff9797 51.4%,#ffa1a1 53.4%,#ffe5e5 61.1%,#fffdfd 65%,#ededff 68.9%,#ececff 79.6%,#dadaff 82.5%,#dadaff 94.1%,#e9e9ff 96.1%,#e9e9ff 100%)"></i><i style="top:164px;background:linear-gradient(90deg,#b5b5ff 0%,#b5b5ff 9.7%,#7a7aff 16.5%,#5858ff 22.3%,#6161ff 25.2%,#7373ff 26.2%,#aaf 28.1%,#cfcfff 29.1%,#fdfdff 30.1%,#ffeaea 31.1%,#ffc8c8 33%,#ffcfcf 34.9%,#ffe8e8 36.9%,#fee 37.8%,#ffe7e7 41.7%,#ffdbdb 43.7%,#ffa1a1 48.5%,#ff9797 50.5%,#ff9e9e 52.4%,#ffeded 62.1%,#fffdfd 65%,#ededff 68.9%,#ececff 79.6%,#dadaff 82.5%,#dadaff 94.1%,#e9e9ff 96.1%,#e9e9ff 100%)"></i><i style="top:166px;background:linear-gradient(90deg,#b5b5ff 0%,#b3b3ff 9.7%,#7979ff 16.5%,#5757ff 22.3%,#6161ff 25.2%,#aeaeff 28.1%,#f9f9ff 30.1%,#fff3f3 31.1%,#ffcdcd 33%,#ffc6c6 34%,#ffcaca 34.9%,#fff0f0 37.8%,#ffefef 40.8%,#ffd9d9 43.7%,#ff9f9f 48.5%,#f99 50.5%,#faa 53.4%,#fee 62.1%,#fffefe 65%,#ededff 68.9%,#ececff 79.6%,#dadaff 82.5%,#dadaff 94.1%,#e9e9ff 96.1%,#e9e9ff 100%)"></i><i style="top:168px;background:linear-gradient(90deg,#b5b5ff 0%,#b2b2ff 9.7%,#77f 16.5%,#55f 22.3%,#6363ff 25.2%,#b3b3ff 28.1%,#f3f3ff 30.1%,#fffdfd 31.1%,#ffd4d4 33%,#ffc9c9 34%,#ffc9c9 34.9%,#fff5f5 37.8%,#fffbfb 38.8%,#fff5f5 40.8%,#ffe3e3 42.7%,#ffa2a2 47.5%,#ff9797 49.5%,#ff9f9f 51.4%,#ffc7c7 56.3%,#fff 65%,#ededff 68.9%,#ececff 79.6%,#dadaff 82.5%,#dadaff 94.1%,#e9e9ff 96.1%,#e9e9ff 100%)"></i><i style="top:170px;background:linear-gradient(90deg,#b5b5ff 0%,#b5b5ff 8.7%,#a2a2ff 11.6%,#6060ff 19.4%,#55f 22.3%,#5e5eff 24.3%,#6969ff 25.2%,#ececff 30.1%,#f8f8ff 31.1%,#fff3f3 32%,#fdd 33%,#ffd1d1 34%,#ffd1d1 34.9%,#fffdfd 37.8%,#fffbfb 40.8%,#ffa6a6 46.6%,#ff9c9c 47.5%,#ff9797 49.5%,#ffc6c6 55.3%,#fefeff 65%,#ededff 68.9%,#ececff 79.6%,#dadaff 82.5%,#dadaff 94.1%,#e9e9ff 96.1%,#e9e9ff 100%)"></i><i style="top:172px;background:linear-gradient(90deg,#b5b5ff 0%,#b5b5ff 8.7%,#5e5eff 19.4%,#5656ff 22.3%,#5e5eff 24.3%,#6f6fff 25.2%,#e7e7ff 30.1%,#fffafa 32%,#ffe7e7 33%,#fdd 34%,#ffdfdf 34.9%,#fff7f7 36.9%,#f9f9ff 37.8%,#f3f3ff 38.8%,#fffefe 40.8%,#ffa8a8 45.6%,#ff9c9c 46.6%,#ff9696 48.5%,#ffc6c6 54.3%,#fffdfd 64%,#ededff 68.9%,#ececff 79.6%,#dadaff 82.5%,#dadaff 94.1%,#e9e9ff 96.1%,#e9e9ff 100%)"></i><i style="top:174px;background:linear-gradient(90deg,#b5b5ff 0%,#b4b4ff 8.7%,#9696ff 12.6%,#7878ff 15.5%,#5454ff 21.3%,#5e5eff 24.3%,#d0d0ff 29.1%,#fbfbff 32%,#ffebeb 34%,#fff 36.9%,#f1f1ff 38.8%,#fffafa 40.8%,#ffa4a4 44.6%,#ff9595 45.6%,#ff8d8d 47.5%,#ffcdcd 54.3%,#ffdcdc 58.2%,#fffefe 64%,#ededff 68.9%,#ececff 79.6%,#dadaff 82.5%,#dadaff 94.1%,#e9e9ff 96.1%,#e9e9ff 100%)"></i><i style="top:176px;background:linear-gradient(90deg,#b5b5ff 0%,#b3b3ff 8.7%,#9d9dff 11.6%,#7676ff 15.5%,#6060ff 18.4%,#5353ff 21.3%,#6161ff 24.3%,#a9a9ff 27.2%,#ceceff 29.1%,#fdfdff 33%,#f6f6ff 37.8%,#fffcfc 39.8%,#ffeaea 40.8%,#ff9e9e 43.7%,#ff8b8b 44.6%,#ff7f7f 45.6%,#ff7d7d 46.6%,#ff8e8e 48.5%,#ffb9b9 51.4%,#fcc 53.4%,#ffdfdf 58.2%,#fff 64%,#ededff 68.9%,#ececff 79.6%,#dadaff 82.5%,#dadaff 94.1%,#e9e9ff 96.1%,#e9e9ff 100%)"></i><i style="top:178px;background:linear-gradient(90deg,#b5b5ff 0%,#b2b2ff 8.7%,#6d6dff 16.5%,#5252ff 21.3%,#6565ff 24.3%,#ababff 27.2%,#ccf 29.1%,#ededff 33%,#ededff 34.9%,#fffefe 37.8%,#fff5f5 38.8%,#ffe3e3 39.8%,#ff7c7c 43.7%,#ff6d6d 44.6%,#ff6969 45.6%,#ff7d7d 47.5%,#ffbfbf 51.4%,#ffd1d1 53.4%,#ffe1e1 58.2%,#fefeff 64%,#ededff 68.9%,#ececff 79.6%,#dadaff 82.5%,#dadaff 94.1%,#e9e9ff 96.1%,#e9e9ff 100%)"></i><i style="top:180px;background:linear-gradient(90deg,#b5b5ff 0%,#b1b1ff 8.7%,#5d5dff 18.4%,#5252ff 21.3%,#5b5bff 23.3%,#6969ff 24.3%,#acacff 27.2%,#cacaff 29.1%,#dfdfff 33%,#e2e2ff 34.9%,#fdfdff 36.9%,#ffdada 38.8%,#ff6161 42.7%,#ff5050 43.7%,#ff4b4b 44.6%,#ff5353 45.6%,#ffa9a9 49.5%,#ffc7c7 51.4%,#ffd5d5 53.4%,#ffdede 57.3%,#fffcfc 63.1%,#fefeff 64%,#ededff 68.9%,#ececff 79.6%,#dadaff 82.5%,#dadaff 94.1%,#e9e9ff 96.1%,#e9e9ff 100%)"></i><i style="top:182px;background:linear-gradient(90deg,#b5b5ff 0%,#b5b5ff 7.8%,#99f 11.6%,#7272ff 15.5%,#5d5dff 18.4%,#5252ff 21.3%,#5b5bff 23.3%,#6b6bff 24.3%,#9a9aff 26.2%,#c8c8ff 29.1%,#ddf 34.9%,#fff9f9 36.9%,#ffbcbc 38.8%,#ff4646 41.7%,#ff2b2b 42.7%,#ff2121 43.7%,#ff2828 44.6%,#ff3e3e 45.6%,#ff9e9e 48.5%,#ffb7b7 49.5%,#ffc9c9 50.5%,#ffd9d9 52.4%,#ffdfdf 57.3%,#fffdfd 63.1%,#ededff 68.9%,#ececff 79.6%,#dadaff 82.5%,#dadaff 94.1%,#e9e9ff 96.1%,#eaeaff 100%)"></i><i style="top:184px;background:linear-gradient(90deg,#b5b5ff 0%,#b5b5ff 7.8%,#99f 11.6%,#6a6aff 16.5%,#5c5cff 18.4%,#5252ff 21.3%,#5b5bff 23.3%,#6c6cff 24.3%,#9b9bff 26.2%,#c7c7ff 29.1%,#ddf 34.9%,#efefff 35.9%,#fff1f1 36.9%,#ffa2a2 38.8%,#ff4242 40.8%,#ff1919 41.7%,#f00 42.7%,#f00 43.7%,#f11 44.6%,#ff3434 45.6%,#ffb2b2 48.5%,#ffd1d1 49.5%,#ffe4e4 50.5%,#ffeded 51.4%,#ffe0e0 57.3%,#fffdfd 63.1%,#fdfdff 64%,#ededff 68.9%,#ececff 79.6%,#dadaff 82.5%,#dadaff 93.2%,#dbdbff 94.1%,#ebebff 96.1%,#ececff 100%)"></i><i style="top:186px;background:linear-gradient(90deg,#b6b6ff 0%,#b5b5ff 7.8%,#99f 11.6%,#6a6aff 16.5%,#5c5cff 18.4%,#5353ff 21.3%,#5c5cff 23.3%,#9d9dff 26.2%,#c7c7ff 29.1%,#d7d7ff 34%,#ddf 34.9%,#f1f1ff 35.9%,#ffebeb 36.9%,#ff9191 38.8%,#ff2828 40.8%,#f00 41.7%,#f00 43.7%,#ff0c0c 44.6%,#ffd0d0 48.5%,#fff6f6 49.5%,#f1f1ff 50.5%,#ececff 51.4%,#fffbfb 53.4%,#ffe5e5 55.3%,#ffe1e1 57.3%,#fdfdff 64%,#ededff 68.9%,#ececff 79.6%,#dadaff 82.5%,#dbdbff 94.1%,#efefff 96.1%,#f4f4ff 98%,#f1f1ff 100%)"></i><i style="top:188px;background:linear-gradient(90deg,#b7b7ff 0%,#b5b5ff 7.8%,#99f 11.6%,#7171ff 15.5%,#5353ff 20.4%,#5f5fff 23.3%,#a2a2ff 26.2%,#c7c7ff 29.1%,#d4d4ff 34%,#dadaff 34.9%,#eef 35.9%,#ffebeb 36.9%,#ff8b8b 38.8%,#ff2121 40.8%,#f00 41.7%,#f00 43.7%,#ff1616 44.6%,#ff4646 45.6%,#ffe8e8 48.5%,#ebebff 49.5%,#d2d2ff 50.5%,#d0d0ff 51.4%,#f6f6ff 53.4%,#fff5f5 54.3%,#ffe9e9 55.3%,#ffe3e3 57.3%,#fffefe 64%,#ebebff 69.9%,#ececff 79.6%,#dadaff 82.5%,#dcdcff 94.1%,#f9f9ff 97%,#fdfdff 98%,#f7f7ff 100%)"></i><i style="top:190px;background:linear-gradient(90deg,#b8b8ff 0%,#b6b6ff 7.8%,#a1a1ff 10.7%,#6161ff 17.5%,#5252ff 20.4%,#6b6bff 23.3%,#a7a7ff 26.2%,#bcbcff 28.1%,#c4c4ff 29.1%,#c8c8ff 32%,#d5d5ff 34.9%,#e5e5ff 35.9%,#fff1f1 36.9%,#ff2b2b 40.8%,#ff0a0a 41.7%,#f00 42.7%,#ff0808 43.7%,#ff2828 44.6%,#ffe8e8 48.5%,#f0f0ff 49.5%,#d9d9ff 50.5%,#d7d7ff 51.4%,#f9f9ff 53.4%,#ffeaea 55.3%,#ffe4e4 57.3%,#fff 65%,#ececff 69.9%,#ececff 79.6%,#dadaff 82.5%,#dadaff 92.2%,#ddf 94.1%,#fff 97%,#fff9f9 98%,#fcfcff 100%)"></i><i style="top:192px;background:linear-gradient(90deg,#babaff 0%,#b7b7ff 7.8%,#a1a1ff 10.7%,#6060ff 17.5%,#5454ff 20.4%,#66f 22.3%,#a1a1ff 25.2%,#bbf 28.1%,#c5c5ff 33%,#d9d9ff 35.9%,#fffdfd 36.9%,#f44 40.8%,#ff2525 41.7%,#ff1919 42.7%,#f22 43.7%,#ff3c3c 44.6%,#ffd3d3 48.5%,#fff0f0 49.5%,#fcfcff 50.5%,#f8f8ff 51.4%,#fff 52.4%,#ffecec 54.3%,#ffe5e5 56.3%,#ffe8e8 59.2%,#fff 66%,#ebebff 70.8%,#ececff 79.6%,#dadaff 82.5%,#dadaff 92.2%,#ddf 94.1%,#f8f8ff 96.1%,#fffdfd 97%,#fff8f8 98%,#fefeff 100%)"></i><i style="top:194px;background:linear-gradient(90deg,#bbf 0%,#b7b7ff 7.8%,#a2a2ff 10.7%,#77f 14.6%,#5f5fff 17.5%,#5656ff 20.4%,#6d6dff 22.3%,#9191ff 23.3%,#a7a7ff 24.3%,#b0b0ff 25.2%,#aeaeff 26.2%,#babaff 28.1%,#c8c8ff 34.9%,#d0d0ff 35.9%,#f3f3ff 36.9%,#ffdbdb 37.8%,#ff6363 40.8%,#ff4343 41.7%,#ff3636 42.7%,#ff3939 43.7%,#ff4a4a 44.6%,#ffbebe 48.5%,#ffe2e2 50.5%,#ffe8e8 51.4%,#ffe6e6 57.3%,#fff 67%,#ebebff 70.8%,#ececff 79.6%,#dadaff 82.5%,#dbdbff 93.2%,#ddf 94.1%,#fdfdff 97%,#fafaff 100%)"></i><i style="top:196px;background:linear-gradient(90deg,#bbf 0%,#b8b8ff 7.8%,#a2a2ff 10.7%,#77f 14.6%,#55f 19.4%,#6060ff 21.3%,#7575ff 22.3%,#a3a3ff 23.3%,#c0c0ff 24.3%,#c0c0ff 25.2%,#b3b3ff 26.2%,#c0c0ff 34%,#c9c9ff 35.9%,#e6e6ff 36.9%,#ffebeb 37.8%,#ff6060 41.7%,#ff4e4e 42.7%,#ff4a4a 43.7%,#ff5454 44.6%,#ff6868 45.6%,#ff9b9b 47.5%,#ffc5c5 49.5%,#ffd2d2 50.5%,#ffdede 52.4%,#fffefe 67%,#ececff 70.8%,#ececff 79.6%,#dadaff 82.5%,#dcdcff 94.1%,#f6f6ff 97%,#f4f4ff 100%)"></i><i style="top:198px;background:linear-gradient(90deg,#bbf 0%,#b8b8ff 7.8%,#9898ff 11.6%,#77f 14.6%,#55f 19.4%,#5f5fff 21.3%,#77f 22.3%,#afafff 23.3%,#d8d8ff 24.3%,#d5d5ff 25.2%,#bcbcff 26.2%,#b6b6ff 27.2%,#c8c8ff 35.9%,#e6e6ff 36.9%,#fff1f1 37.8%,#ffbcbc 39.8%,#ff7d7d 41.7%,#ff6868 42.7%,#ff5e5e 43.7%,#ff5f5f 44.6%,#ff6c6c 45.6%,#ffafaf 48.5%,#ffcfcf 50.5%,#ffdfdf 53.4%,#fffefe 67%,#ebebff 71.8%,#ececff 79.6%,#dadaff 82.5%,#dbdbff 94.1%,#ededff 96.1%,#eef 100%)"></i><i style="top:200px;background:linear-gradient(90deg,#bbf 0%,#b8b8ff 7.8%,#a1a1ff 10.7%,#6565ff 16.5%,#55f 19.4%,#5e5eff 21.3%,#7676ff 22.3%,#e9e9ff 24.3%,#ebebff 25.2%,#cacaff 26.2%,#bcbcff 27.2%,#cbcbff 34.9%,#dbdbff 35.9%,#fafaff 36.9%,#ffe0e0 38.8%,#ff8a8a 42.7%,#ff7272 44.6%,#ff7676 45.6%,#ff8484 46.6%,#ffaeae 48.5%,#ffcece 50.5%,#ffe0e0 53.4%,#ffecec 61.1%,#fff 67.9%,#ededff 71.8%,#ececff 79.6%,#dadaff 82.5%,#dadaff 93.2%,#dbdbff 94.1%,#eaeaff 96.1%,#ebebff 100%)"></i><i style="top:202px;background:linear-gradient(90deg,#bbf 0%,#b8b8ff 7.8%,#9f9fff 10.7%,#7474ff 14.6%,#5353ff 19.4%,#5d5dff 21.3%,#7272ff 22.3%,#ececff 24.3%,#f9f9ff 25.2%,#d9d9ff 26.2%,#c6c6ff 27.2%,#c5c5ff 28.1%,#d5d5ff 34%,#e5e5ff 34.9%,#fefeff 35.9%,#fff1f1 36.9%,#ffdada 39.8%,#ff8f8f 44.6%,#f88 45.6%,#ff9696 47.5%,#ffc9c9 50.5%,#ffdcdc 52.4%,#ffe9e9 61.1%,#fefeff 68.9%,#f1f1ff 71.8%,#ebebff 80.5%,#dadaff 83.5%,#dadaff 93.2%,#e9e9ff 96.1%,#e9e9ff 100%)"></i><i style="top:204px;background:linear-gradient(90deg,#bbf 0%,#b7b7ff 7.8%,#7272ff 14.6%,#5252ff 19.4%,#5c5cff 21.3%,#6f6fff 22.3%,#a1a1ff 23.3%,#e0e0ff 24.3%,#f8f8ff 25.2%,#d1d1ff 27.2%,#cfcfff 28.1%,#e7e7ff 33%,#f9f9ff 34%,#fff0f0 34.9%,#ffe5e5 39.8%,#ffcece 42.7%,#ffa2a2 45.6%,#ff9898 47.5%,#ff9f9f 48.5%,#ffcaca 51.4%,#ffdcdc 53.4%,#ffe3e3 60.2%,#fff 69.9%,#f4f4ff 72.8%,#ebebff 80.5%,#dadaff 84.4%,#dadaff 93.2%,#e9e9ff 96.1%,#e9e9ff 100%)"></i><i style="top:206px;background:linear-gradient(90deg,#bbf 0%,#b5b5ff 7.8%,#7070ff 14.6%,#5252ff 19.4%,#5c5cff 21.3%,#6e6eff 22.3%,#9696ff 23.3%,#ccf 24.3%,#ececff 25.2%,#dadaff 28.1%,#fffdfd 32%,#fdd 34%,#ffeded 37.8%,#ffeded 40.8%,#ffe6e6 42.7%,#ffb1b1 46.6%,#ffa3a3 48.5%,#ffa7a7 49.5%,#ffdbdb 54.3%,#ffdfdf 60.2%,#fffefe 70.8%,#ececff 80.5%,#dadaff 84.4%,#dadaff 93.2%,#e9e9ff 96.1%,#e9e9ff 100%)"></i><i style="top:208px;background:linear-gradient(90deg,#bbf 0%,#b4b4ff 7.8%,#66f 15.5%,#5252ff 19.4%,#5c5cff 21.3%,#6e6eff 22.3%,#9090ff 23.3%,#bcbcff 24.3%,#dbdbff 25.2%,#e4e4ff 26.2%,#e6e6ff 28.1%,#fffcfc 30.1%,#ffd3d3 32%,#ffcaca 33%,#ffefef 36.9%,#fff6f6 41.7%,#ffecec 43.7%,#ffb3b3 48.5%,#ffafaf 49.5%,#ffb1b1 50.5%,#ffd9d9 55.3%,#ffdede 61.1%,#fffdfd 71.8%,#ebebff 81.5%,#dadaff 85.4%,#dadaff 93.2%,#e9e9ff 96.1%,#e9e9ff 100%)"></i><i style="top:210px;background:linear-gradient(90deg,#bbf 0%,#b3b3ff 7.8%,#6d6dff 14.6%,#5d5dff 16.5%,#5252ff 19.4%,#5b5bff 21.3%,#6f6fff 22.3%,#cdcdff 25.2%,#dedeff 26.2%,#fffdfd 29.1%,#ffc1c1 32%,#ffc8c8 33%,#fee 35.9%,#fffcfc 40.8%,#fee 44.6%,#ffc1c1 49.5%,#ffbdbd 51.4%,#ffd7d7 56.3%,#ffd9d9 60.2%,#fefeff 73.8%,#dadaff 86.4%,#dadaff 93.2%,#e9e9ff 96.1%,#e9e9ff 100%)"></i><i style="top:212px;background:linear-gradient(90deg,#bbf 0%,#b8b8ff 6.8%,#a1a1ff 9.7%,#7575ff 13.6%,#5c5cff 16.5%,#5252ff 19.4%,#5b5bff 21.3%,#6f6fff 22.3%,#aaf 24.3%,#d8d8ff 26.2%,#f6f6ff 28.1%,#fff5f5 29.1%,#ffcfcf 31.1%,#ffcaca 32%,#fff2f2 35.9%,#fffefe 39.8%,#fee 45.6%,#ffcece 50.5%,#ffc9c9 52.4%,#ffdada 61.1%,#fffefe 73.8%,#dadaff 86.4%,#dadaff 93.2%,#e9e9ff 96.1%,#e9e9ff 100%)"></i></div></div><div class="hm" style="left:153.05px;top:2.5px;width:102.95px;height:213.1px"><div><i style="top:0px;background:linear-gradient(90deg,#c0c0ff 0%,#bdbdff 6.8%,#5757ff 22.3%,#6161ff 24.3%,#7373ff 25.3%,#afafff 28.2%,#fff 31.1%,#fff3f3 33%,#fcc 35%,#ffbdbd 43.7%,#ffbdbd 51.5%,#ffd0d0 57.3%,#fff 66.1%,#f5f5ff 68%,#f5f5ff 78.7%,#d6d6ff 82.6%,#d6d6ff 94.2%,#e9e9ff 96.2%,#e9e9ff 100%)"></i><i style="top:2px;background:linear-gradient(90deg,#c0c0ff 0%,#bdbdff 6.8%,#5757ff 22.3%,#6161ff 24.3%,#7373ff 25.3%,#afafff 28.2%,#fff 31.1%,#fff3f3 33%,#fcc 35%,#ffbdbd 43.7%,#ffbdbd 51.5%,#ffd0d0 57.3%,#fff 66.1%,#f5f5ff 68%,#f5f5ff 78.7%,#d6d6ff 82.6%,#d6d6ff 94.2%,#e9e9ff 96.2%,#e9e9ff 100%)"></i><i style="top:4px;background:linear-gradient(90deg,#c0c0ff 0%,#bdbdff 6.8%,#5757ff 22.3%,#6161ff 24.3%,#7373ff 25.3%,#afafff 28.2%,#fff 31.1%,#fff3f3 33%,#fcc 35%,#ffbdbd 43.7%,#ffbdbd 51.5%,#ffd0d0 57.3%,#fff 66.1%,#f5f5ff 68%,#f5f5ff 78.7%,#d6d6ff 82.6%,#d6d6ff 94.2%,#e9e9ff 96.2%,#e9e9ff 100%)"></i><i style="top:6px;background:linear-gradient(90deg,#c0c0ff 0%,#bdbdff 6.8%,#5757ff 22.3%,#6161ff 24.3%,#7373ff 25.3%,#afafff 28.2%,#fff 31.1%,#fff3f3 33%,#fcc 35%,#ffbdbd 43.7%,#ffbdbd 51.5%,#ffd0d0 57.3%,#fff 66.1%,#f5f5ff 68%,#f5f5ff 78.7%,#d6d6ff 82.6%,#d6d6ff 94.2%,#e9e9ff 96.2%,#e9e9ff 100%)"></i><i style="top:8px;background:linear-gradient(90deg,#c0c0ff 0%,#bdbdff 6.8%,#5757ff 22.3%,#6161ff 24.3%,#7373ff 25.3%,#afafff 28.2%,#fff 31.1%,#fff3f3 33%,#fcc 35%,#ffbdbd 43.7%,#ffbdbd 51.5%,#ffd0d0 57.3%,#fff 66.1%,#f5f5ff 68%,#f5f5ff 78.7%,#d6d6ff 82.6%,#d6d6ff 94.2%,#e9e9ff 96.2%,#e9e9ff 100%)"></i><i style="top:10px;background:linear-gradient(90deg,#c0c0ff 0%,#bdbdff 6.8%,#5757ff 22.3%,#6161ff 24.3%,#7373ff 25.3%,#afafff 28.2%,#fff 31.1%,#fff3f3 33%,#fcc 35%,#ffbdbd 43.7%,#ffbdbd 51.5%,#ffd0d0 57.3%,#fff 66.1%,#f5f5ff 68%,#f5f5ff 78.7%,#d6d6ff 82.6%,#d6d6ff 94.2%,#e9e9ff 96.2%,#e9e9ff 100%)"></i><i style="top:12px;background:linear-gradient(90deg,#c0c0ff 0%,#bdbdff 6.8%,#5757ff 22.3%,#6161ff 24.3%,#7373ff 25.3%,#afafff 28.2%,#fff 31.1%,#fff3f3 33%,#fcc 35%,#ffbdbd 43.7%,#ffbdbd 51.5%,#ffd0d0 57.3%,#fff 66.1%,#f5f5ff 68%,#f5f5ff 78.7%,#d6d6ff 82.6%,#d6d6ff 94.2%,#e9e9ff 96.2%,#e9e9ff 100%)"></i><i style="top:14px;background:linear-gradient(90deg,#c0c0ff 0%,#bdbdff 6.8%,#5757ff 22.3%,#6161ff 24.3%,#7373ff 25.3%,#afafff 28.2%,#fff 31.1%,#fff3f3 33%,#fcc 35%,#ffbdbd 43.7%,#ffbdbd 51.5%,#ffd0d0 57.3%,#fff 66.1%,#f5f5ff 68%,#f5f5ff 78.7%,#d6d6ff 82.6%,#d6d6ff 94.2%,#e9e9ff 96.2%,#e9e9ff 100%)"></i><i style="top:16px;background:linear-gradient(90deg,#c0c0ff 0%,#bdbdff 6.8%,#5757ff 22.3%,#6161ff 24.3%,#7373ff 25.3%,#afafff 28.2%,#fff 31.1%,#fff3f3 33%,#fcc 35%,#ffbdbd 43.7%,#ffbdbd 51.5%,#ffd0d0 57.3%,#fff 66.1%,#f5f5ff 68%,#f5f5ff 78.7%,#d6d6ff 82.6%,#d6d6ff 94.2%,#e9e9ff 96.2%,#e9e9ff 100%)"></i><i style="top:18px;background:linear-gradient(90deg,#c0c0ff 0%,#bdbdff 6.8%,#5757ff 22.3%,#6161ff 24.3%,#7373ff 25.3%,#afafff 28.2%,#fff 31.1%,#fff3f3 33%,#fcc 35%,#ffbdbd 43.7%,#ffbdbd 51.5%,#ffd0d0 57.3%,#fff 66.1%,#f5f5ff 68%,#f5f5ff 78.7%,#d6d6ff 82.6%,#d6d6ff 94.2%,#e9e9ff 96.2%,#e9e9ff 100%)"></i><i style="top:20px;background:linear-gradient(90deg,#c0c0ff 0%,#bdbdff 6.8%,#5757ff 22.3%,#6161ff 24.3%,#7373ff 25.3%,#afafff 28.2%,#fff 31.1%,#fff3f3 33%,#fcc 35%,#ffbdbd 43.7%,#ffbdbd 51.5%,#ffd0d0 57.3%,#fff 66.1%,#f5f5ff 68%,#f5f5ff 78.7%,#d6d6ff 82.6%,#d6d6ff 94.2%,#e9e9ff 96.2%,#e9e9ff 100%)"></i><i style="top:22px;background:linear-gradient(90deg,#c0c0ff 0%,#bdbdff 6.8%,#5757ff 22.3%,#6161ff 24.3%,#7373ff 25.3%,#afafff 28.2%,#fff 31.1%,#fff3f3 33%,#fcc 35%,#ffbdbd 43.7%,#ffbdbd 51.5%,#ffd0d0 57.3%,#fff 66.1%,#f5f5ff 68%,#f5f5ff 78.7%,#d6d6ff 82.6%,#d6d6ff 94.2%,#e9e9ff 96.2%,#e9e9ff 100%)"></i><i style="top:24px;background:linear-gradient(90deg,#c0c0ff 0%,#bdbdff 6.8%,#5757ff 22.3%,#6161ff 24.3%,#7373ff 25.3%,#afafff 28.2%,#fff 31.1%,#fff3f3 33%,#fcc 35%,#ffbdbd 43.7%,#ffbdbd 51.5%,#ffd0d0 57.3%,#fff 66.1%,#f5f5ff 68%,#f5f5ff 78.7%,#d6d6ff 82.6%,#d6d6ff 94.2%,#e9e9ff 96.2%,#e9e9ff 100%)"></i><i style="top:26px;background:linear-gradient(90deg,#c0c0ff 0%,#bdbdff 6.8%,#5757ff 22.3%,#6161ff 24.3%,#7373ff 25.3%,#afafff 28.2%,#fff 31.1%,#fff3f3 33%,#fcc 35%,#ffbdbd 43.7%,#ffbdbd 51.5%,#ffd0d0 57.3%,#fff 66.1%,#f5f5ff 68%,#f5f5ff 78.7%,#d6d6ff 82.6%,#d6d6ff 94.2%,#e9e9ff 96.2%,#e9e9ff 100%)"></i><i style="top:28px;background:linear-gradient(90deg,#c0c0ff 0%,#bdbdff 6.8%,#5757ff 22.3%,#6161ff 24.3%,#7373ff 25.3%,#afafff 28.2%,#fff 31.1%,#fff3f3 33%,#fcc 35%,#ffbdbd 43.7%,#ffbdbd 51.5%,#ffd0d0 57.3%,#fff 66.1%,#f5f5ff 68%,#f5f5ff 78.7%,#d6d6ff 82.6%,#d6d6ff 94.2%,#e9e9ff 96.2%,#e9e9ff 100%)"></i><i style="top:30px;background:linear-gradient(90deg,#c0c0ff 0%,#bdbdff 6.8%,#5757ff 22.3%,#6161ff 24.3%,#7373ff 25.3%,#afafff 28.2%,#fff 31.1%,#fff3f3 33%,#fcc 35%,#ffbdbd 43.7%,#ffbdbd 51.5%,#ffd0d0 57.3%,#fff 66.1%,#f5f5ff 68%,#f5f5ff 78.7%,#d6d6ff 82.6%,#d6d6ff 94.2%,#e9e9ff 96.2%,#e9e9ff 100%)"></i><i style="top:32px;background:linear-gradient(90deg,#c0c0ff 0%,#bdbdff 6.8%,#5757ff 22.3%,#6161ff 24.3%,#7373ff 25.3%,#afafff 28.2%,#fff 31.1%,#fff3f3 33%,#fcc 35%,#ffbdbd 43.7%,#ffbdbd 51.5%,#ffd0d0 57.3%,#fff 66.1%,#f5f5ff 68%,#f5f5ff 78.7%,#d6d6ff 82.6%,#d6d6ff 94.2%,#e9e9ff 96.2%,#e9e9ff 100%)"></i><i style="top:34px;background:linear-gradient(90deg,#c0c0ff 0%,#bdbdff 6.8%,#5757ff 22.3%,#6161ff 24.3%,#7373ff 25.3%,#afafff 28.2%,#fff 31.1%,#fff3f3 33%,#fcc 35%,#ffbdbd 43.7%,#ffbdbd 51.5%,#ffd0d0 57.3%,#fff 66.1%,#f5f5ff 68%,#f5f5ff 78.7%,#d6d6ff 82.6%,#d6d6ff 94.2%,#e9e9ff 96.2%,#e9e9ff 100%)"></i><i style="top:36px;background:linear-gradient(90deg,#c0c0ff 0%,#bdbdff 6.8%,#5757ff 22.3%,#6161ff 24.3%,#7373ff 25.3%,#afafff 28.2%,#fff 31.1%,#fff3f3 33%,#fcc 35%,#ffbdbd 43.7%,#ffbdbd 51.5%,#ffd0d0 57.3%,#fff 66.1%,#f5f5ff 68%,#f5f5ff 78.7%,#d6d6ff 82.6%,#d6d6ff 94.2%,#e9e9ff 96.2%,#e9e9ff 100%)"></i><i style="top:38px;background:linear-gradient(90deg,#c0c0ff 0%,#bdbdff 6.8%,#5757ff 22.3%,#6161ff 24.3%,#7373ff 25.3%,#afafff 28.2%,#fff 31.1%,#fff3f3 33%,#fcc 35%,#ffbdbd 43.7%,#ffbdbd 51.5%,#ffd0d0 57.3%,#fff 66.1%,#f5f5ff 68%,#f5f5ff 78.7%,#d6d6ff 82.6%,#d6d6ff 94.2%,#e9e9ff 96.2%,#e9e9ff 100%)"></i><i style="top:40px;background:linear-gradient(90deg,#c0c0ff 0%,#bdbdff 6.8%,#5757ff 22.3%,#6161ff 24.3%,#7373ff 25.3%,#afafff 28.2%,#fff 31.1%,#fff3f3 33%,#fcc 35%,#ffbdbd 43.7%,#ffbdbd 51.5%,#ffd0d0 57.3%,#fff 66.1%,#f5f5ff 68%,#f5f5ff 78.7%,#d6d6ff 82.6%,#d6d6ff 94.2%,#e9e9ff 96.2%,#e9e9ff 100%)"></i><i style="top:42px;background:linear-gradient(90deg,#c0c0ff 0%,#bdbdff 6.8%,#5757ff 22.3%,#6161ff 24.3%,#7373ff 25.3%,#afafff 28.2%,#fff 31.1%,#fff3f3 33%,#fcc 35%,#ffbdbd 43.7%,#ffbdbd 51.5%,#ffd0d0 57.3%,#fff 66.1%,#f5f5ff 68%,#f5f5ff 78.7%,#d6d6ff 82.6%,#d6d6ff 94.2%,#e9e9ff 96.2%,#e9e9ff 100%)"></i><i style="top:44px;background:linear-gradient(90deg,#c0c0ff 0%,#bdbdff 6.8%,#5757ff 22.3%,#6161ff 24.3%,#7373ff 25.3%,#afafff 28.2%,#fff 31.1%,#fff3f3 33%,#fcc 35%,#ffbdbd 43.7%,#ffbdbd 51.5%,#ffd0d0 57.3%,#fff 66.1%,#f5f5ff 68%,#f5f5ff 78.7%,#d6d6ff 82.6%,#d6d6ff 94.2%,#e9e9ff 96.2%,#e9e9ff 100%)"></i><i style="top:46px;background:linear-gradient(90deg,#c0c0ff 0%,#bdbdff 6.8%,#5757ff 22.3%,#6161ff 24.3%,#7373ff 25.3%,#afafff 28.2%,#fff 31.1%,#fff3f3 33%,#fcc 35%,#ffbdbd 43.7%,#ffbdbd 51.5%,#ffd0d0 57.3%,#fff 66.1%,#f5f5ff 68%,#f5f5ff 78.7%,#d6d6ff 82.6%,#d6d6ff 94.2%,#e9e9ff 96.2%,#e9e9ff 100%)"></i><i style="top:48px;background:linear-gradient(90deg,#c0c0ff 0%,#bdbdff 6.8%,#5757ff 22.3%,#6161ff 24.3%,#7373ff 25.3%,#afafff 28.2%,#fff 31.1%,#fff3f3 33%,#fcc 35%,#ffbdbd 43.7%,#ffbdbd 51.5%,#ffd0d0 57.3%,#fff 66.1%,#f5f5ff 68%,#f5f5ff 78.7%,#d6d6ff 82.6%,#d6d6ff 94.2%,#e9e9ff 96.2%,#e9e9ff 100%)"></i><i style="top:50px;background:linear-gradient(90deg,#c0c0ff 0%,#bdbdff 6.8%,#5757ff 22.3%,#6161ff 24.3%,#7373ff 25.3%,#afafff 28.2%,#fff 31.1%,#fff3f3 33%,#fcc 35%,#ffbdbd 43.7%,#ffbdbd 51.5%,#ffd0d0 57.3%,#fff 66.1%,#f5f5ff 68%,#f5f5ff 78.7%,#d6d6ff 82.6%,#d6d6ff 94.2%,#e9e9ff 96.2%,#e9e9ff 100%)"></i><i style="top:52px;background:linear-gradient(90deg,#c0c0ff 0%,#bdbdff 6.8%,#5757ff 22.3%,#6161ff 24.3%,#7272ff 25.3%,#afafff 28.2%,#fff 31.1%,#fff3f3 33%,#fcc 35%,#ffbdbd 43.7%,#ffbdbd 51.5%,#ffd0d0 57.3%,#fff 66.1%,#f5f5ff 68%,#f5f5ff 78.7%,#d6d6ff 82.6%,#d6d6ff 94.2%,#e9e9ff 96.2%,#e9e9ff 100%)"></i><i style="top:54px;background:linear-gradient(90deg,#c0c0ff 0%,#bdbdff 6.8%,#a6a6ff 10.7%,#7979ff 16.5%,#5757ff 22.3%,#6161ff 24.3%,#7272ff 25.3%,#afafff 28.2%,#fff 31.1%,#fff3f3 33%,#fcc 35%,#ffbdbd 43.7%,#ffbdbd 51.5%,#ffd0d0 57.3%,#fff 66.1%,#f5f5ff 68%,#f5f5ff 78.7%,#d6d6ff 82.6%,#d6d6ff 94.2%,#e9e9ff 96.2%,#e9e9ff 100%)"></i><i style="top:56px;background:linear-gradient(90deg,#c0c0ff 0%,#bdbdff 6.8%,#5656ff 22.3%,#6161ff 24.3%,#7272ff 25.3%,#afafff 28.2%,#fff 31.1%,#fff3f3 33%,#fcc 35%,#ffbdbd 43.7%,#ffbdbd 51.5%,#ffd0d0 57.3%,#fff 66.1%,#f5f5ff 68%,#f5f5ff 78.7%,#d6d6ff 82.6%,#d6d6ff 94.2%,#e9e9ff 96.2%,#e9e9ff 100%)"></i><i style="top:58px;background:linear-gradient(90deg,#c0c0ff 0%,#bdbdff 6.8%,#5656ff 22.3%,#6161ff 24.3%,#7272ff 25.3%,#afafff 28.2%,#fff 31.1%,#fff3f3 33%,#fcc 35%,#ffbdbd 43.7%,#ffbdbd 51.5%,#ffd0d0 57.3%,#fff 66.1%,#f5f5ff 68%,#f5f5ff 78.7%,#d6d6ff 82.6%,#d6d6ff 94.2%,#e9e9ff 96.2%,#e9e9ff 100%)"></i><i style="top:60px;background:linear-gradient(90deg,#c0c0ff 0%,#bdbdff 6.8%,#5656ff 22.3%,#6161ff 24.3%,#7272ff 25.3%,#afafff 28.2%,#fff 31.1%,#fff3f3 33%,#fcc 35%,#ffbdbd 43.7%,#ffbdbd 51.5%,#ffd0d0 57.3%,#fff 66.1%,#f5f5ff 68%,#f5f5ff 78.7%,#d6d6ff 82.6%,#d6d6ff 94.2%,#e9e9ff 96.2%,#e9e9ff 100%)"></i><i style="top:62px;background:linear-gradient(90deg,#c0c0ff 0%,#bdbdff 6.8%,#a6a6ff 10.7%,#7f7fff 15.5%,#5656ff 22.3%,#6161ff 24.3%,#7272ff 25.3%,#afafff 28.2%,#fff 31.1%,#fff3f3 33%,#fcc 35%,#ffbdbd 43.7%,#ffbdbd 51.5%,#ffd0d0 57.3%,#fff 66.1%,#f5f5ff 68%,#f5f5ff 78.7%,#d6d6ff 82.6%,#d6d6ff 94.2%,#e9e9ff 96.2%,#e9e9ff 100%)"></i><i style="top:64px;background:linear-gradient(90deg,#c0c0ff 0%,#bdbdff 6.8%,#a6a6ff 10.7%,#7f7fff 15.5%,#5656ff 22.3%,#6161ff 24.3%,#7272ff 25.3%,#afafff 28.2%,#fff 31.1%,#fff3f3 33%,#fcc 35%,#ffbdbd 43.7%,#ffbdbd 51.5%,#ffd0d0 57.3%,#fff 66.1%,#f5f5ff 68%,#f5f5ff 78.7%,#d6d6ff 82.6%,#d6d6ff 94.2%,#e9e9ff 96.2%,#e9e9ff 100%)"></i><i style="top:66px;background:linear-gradient(90deg,#c0c0ff 0%,#bdbdff 6.8%,#9f9fff 11.7%,#7f7fff 15.5%,#5656ff 22.3%,#6161ff 24.3%,#7272ff 25.3%,#afafff 28.2%,#fff 31.1%,#fff3f3 33%,#fcc 35%,#ffbdbd 43.7%,#ffbdbd 51.5%,#ffd0d0 57.3%,#fff 66.1%,#f5f5ff 68%,#f5f5ff 78.7%,#d6d6ff 82.6%,#d6d6ff 94.2%,#e9e9ff 96.2%,#e9e9ff 100%)"></i><i style="top:68px;background:linear-gradient(90deg,#c0c0ff 0%,#bdbdff 6.8%,#7878ff 16.5%,#5656ff 22.3%,#6161ff 24.3%,#7171ff 25.3%,#afafff 28.2%,#fff 31.1%,#fff3f3 33%,#fcc 35%,#ffbdbd 43.7%,#ffbdbd 51.5%,#ffd0d0 57.3%,#fff 66.1%,#f5f5ff 68%,#f5f5ff 78.7%,#d6d6ff 82.6%,#d6d6ff 94.2%,#e9e9ff 96.2%,#e9e9ff 100%)"></i><i style="top:70px;background:linear-gradient(90deg,#c0c0ff 0%,#bdbdff 6.8%,#7e7eff 15.5%,#5656ff 22.3%,#6161ff 24.3%,#7171ff 25.3%,#afafff 28.2%,#fff 31.1%,#fff3f3 33%,#fcc 35%,#ffbdbd 43.7%,#ffbdbd 51.5%,#ffd0d0 57.3%,#fff 66.1%,#f5f5ff 68%,#f5f5ff 78.7%,#d6d6ff 82.6%,#d6d6ff 94.2%,#e9e9ff 96.2%,#e9e9ff 100%)"></i><i style="top:72px;background:linear-gradient(90deg,#c0c0ff 0%,#bdbdff 6.8%,#7e7eff 15.5%,#5656ff 22.3%,#6161ff 24.3%,#7171ff 25.3%,#afafff 28.2%,#fff 31.1%,#fff3f3 33%,#fcc 35%,#ffbdbd 43.7%,#ffbdbd 51.5%,#ffd0d0 57.3%,#fff 66.1%,#f5f5ff 68%,#f5f5ff 78.7%,#d6d6ff 82.6%,#d6d6ff 94.2%,#e9e9ff 96.2%,#e9e9ff 100%)"></i><i style="top:74px;background:linear-gradient(90deg,#c0c0ff 0%,#bdbdff 6.8%,#7e7eff 15.5%,#5656ff 22.3%,#6161ff 24.3%,#7171ff 25.3%,#afafff 28.2%,#fff 31.1%,#fff3f3 33%,#fcc 35%,#ffbdbd 43.7%,#ffbdbd 51.5%,#ffd0d0 57.3%,#fff 66.1%,#f5f5ff 68%,#f5f5ff 78.7%,#d6d6ff 82.6%,#d6d6ff 94.2%,#e9e9ff 96.2%,#e9e9ff 100%)"></i><i style="top:76px;background:linear-gradient(90deg,#c0c0ff 0%,#bdbdff 6.8%,#7e7eff 15.5%,#5656ff 22.3%,#6060ff 24.3%,#7171ff 25.3%,#afafff 28.2%,#fff 31.1%,#fff3f3 33%,#fcc 35%,#ffbdbd 43.7%,#ffbdbd 51.5%,#ffd0d0 57.3%,#fff 66.1%,#f5f5ff 68%,#f5f5ff 78.7%,#d6d6ff 82.6%,#d6d6ff 94.2%,#e9e9ff 96.2%,#e9e9ff 100%)"></i><i style="top:78px;background:linear-gradient(90deg,#c0c0ff 0%,#bdbdff 6.8%,#9e9eff 11.7%,#7d7dff 15.5%,#5656ff 22.3%,#6060ff 24.3%,#7070ff 25.3%,#afafff 28.2%,#fff 31.1%,#fff3f3 33%,#fcc 35%,#ffbdbd 43.7%,#ffbdbd 51.5%,#ffd0d0 57.3%,#fff 66.1%,#f5f5ff 68%,#f5f5ff 78.7%,#d6d6ff 82.6%,#d6d6ff 94.2%,#e9e9ff 96.2%,#e9e9ff 100%)"></i><i style="top:80px;background:linear-gradient(90deg,#c0c0ff 0%,#bdbdff 6.8%,#9e9eff 11.7%,#7d7dff 15.5%,#5656ff 22.3%,#6060ff 24.3%,#7070ff 25.3%,#afafff 28.2%,#fff 31.1%,#fff3f3 33%,#fcc 35%,#ffbdbd 43.7%,#ffbdbd 51.5%,#ffd0d0 57.3%,#fff 66.1%,#f5f5ff 68%,#f5f5ff 78.7%,#d6d6ff 82.6%,#d6d6ff 94.2%,#e9e9ff 96.2%,#e9e9ff 100%)"></i><i style="top:82px;background:linear-gradient(90deg,#c0c0ff 0%,#bdbdff 6.8%,#a5a5ff 10.7%,#7d7dff 15.5%,#5656ff 22.3%,#6060ff 24.3%,#7070ff 25.3%,#afafff 28.2%,#fff 31.1%,#fff3f3 33%,#fcc 35%,#ffbdbd 43.7%,#ffbdbd 51.5%,#ffd0d0 57.3%,#fff 66.1%,#f5f5ff 68%,#f5f5ff 78.7%,#d6d6ff 82.6%,#d6d6ff 94.2%,#e9e9ff 96.2%,#e9e9ff 100%)"></i><i style="top:84px;background:linear-gradient(90deg,#c0c0ff 0%,#bdbdff 6.8%,#a5a5ff 10.7%,#7d7dff 15.5%,#5656ff 22.3%,#6060ff 24.3%,#7070ff 25.3%,#afafff 28.2%,#fff 31.1%,#fff3f3 33%,#fcc 35%,#ffbdbd 43.7%,#ffbdbd 51.5%,#ffd0d0 57.3%,#fff 66.1%,#f5f5ff 68%,#f5f5ff 78.7%,#d6d6ff 82.6%,#d6d6ff 94.2%,#e9e9ff 96.2%,#e9e9ff 100%)"></i><i style="top:86px;background:linear-gradient(90deg,#c0c0ff 0%,#bdbdff 6.8%,#a5a5ff 10.7%,#7d7dff 15.5%,#5656ff 22.3%,#6060ff 24.3%,#7070ff 25.3%,#afafff 28.2%,#fff 31.1%,#fff3f3 33%,#fcc 35%,#ffbdbd 43.7%,#ffbdbd 51.5%,#ffd0d0 57.3%,#fff 66.1%,#f5f5ff 68%,#f5f5ff 78.7%,#d6d6ff 82.6%,#d6d6ff 94.2%,#e9e9ff 96.2%,#e9e9ff 100%)"></i><i style="top:88px;background:linear-gradient(90deg,#c0c0ff 0%,#bdbdff 6.8%,#a5a5ff 10.7%,#7c7cff 15.5%,#5656ff 22.3%,#6060ff 24.3%,#7070ff 25.3%,#afafff 28.2%,#fff 31.1%,#fff3f3 33%,#fcc 35%,#ffbdbd 43.7%,#ffbdbd 51.5%,#ffd0d0 57.3%,#fff 66.1%,#f5f5ff 68%,#f5f5ff 78.7%,#d6d6ff 82.6%,#d6d6ff 94.2%,#e9e9ff 96.2%,#e9e9ff 100%)"></i><i style="top:90px;background:linear-gradient(90deg,#c0c0ff 0%,#bdbdff 6.8%,#a5a5ff 10.7%,#7c7cff 15.5%,#5656ff 22.3%,#6060ff 24.3%,#7070ff 25.3%,#afafff 28.2%,#fff 31.1%,#fff3f3 33%,#fcc 35%,#ffbdbd 43.7%,#ffbdbd 51.5%,#ffd0d0 57.3%,#fff 66.1%,#f5f5ff 68%,#f5f5ff 78.7%,#d6d6ff 82.6%,#d6d6ff 94.2%,#e9e9ff 96.2%,#e9e9ff 100%)"></i><i style="top:92px;background:linear-gradient(90deg,#c0c0ff 0%,#bdbdff 6.8%,#9d9dff 11.7%,#7c7cff 15.5%,#5656ff 22.3%,#6060ff 24.3%,#6f6fff 25.3%,#afafff 28.2%,#fff 31.1%,#fff3f3 33%,#fcc 35%,#ffbdbd 43.7%,#ffbdbd 51.5%,#ffd0d0 57.3%,#fff 66.1%,#f5f5ff 68%,#f5f5ff 78.7%,#d6d6ff 82.6%,#d6d6ff 94.2%,#e9e9ff 96.2%,#e9e9ff 100%)"></i><i style="top:94px;background:linear-gradient(90deg,#c0c0ff 0%,#bdbdff 6.8%,#9d9dff 11.7%,#7c7cff 15.5%,#5656ff 22.3%,#6060ff 24.3%,#6f6fff 25.3%,#afafff 28.2%,#fff 31.1%,#fff3f3 33%,#fcc 35%,#ffbcbc 43.7%,#ffbdbd 51.5%,#ffd0d0 57.3%,#fff 66.1%,#f5f5ff 68%,#f5f5ff 78.7%,#d6d6ff 82.6%,#d6d6ff 94.2%,#e9e9ff 96.2%,#e9e9ff 100%)"></i><i style="top:96px;background:linear-gradient(90deg,#c0c0ff 0%,#bdbdff 6.8%,#9d9dff 11.7%,#7c7cff 15.5%,#5656ff 22.3%,#6060ff 24.3%,#6f6fff 25.3%,#afafff 28.2%,#fffefe 31.1%,#fff2f2 33%,#ffcbcb 35%,#fbb 43.7%,#ffbdbd 51.5%,#ffd0d0 57.3%,#fff 66.1%,#f5f5ff 68%,#f5f5ff 78.7%,#d6d6ff 82.6%,#d6d6ff 94.2%,#e9e9ff 96.2%,#e9e9ff 100%)"></i><i style="top:98px;background:linear-gradient(90deg,#bfbfff 0%,#bdbdff 6.8%,#a5a5ff 10.7%,#7c7cff 15.5%,#5656ff 22.3%,#6060ff 24.3%,#6f6fff 25.3%,#afafff 28.2%,#e8e8ff 30.1%,#fffdfd 31.1%,#fff2f2 33%,#ffcaca 35%,#ffb5b5 41.8%,#ffbfbf 45.7%,#ffc0c0 52.5%,#ffd5d5 58.3%,#fff 66.1%,#f5f5ff 68%,#f5f5ff 78.7%,#d6d6ff 82.6%,#d6d6ff 94.2%,#e9e9ff 96.2%,#e9e9ff 100%)"></i><i style="top:100px;background:linear-gradient(90deg,#bfbfff 0%,#bdbdff 6.8%,#9e9eff 11.7%,#7d7dff 15.5%,#5656ff 22.3%,#5f5fff 24.3%,#6c6cff 25.3%,#aeaeff 28.2%,#e8e8ff 30.1%,#fffbfb 31.1%,#fff3f3 33%,#ffcaca 35%,#ffadad 38.9%,#ffa6a6 40.8%,#ffaeae 42.7%,#ffcdcd 46.6%,#ffc1c1 51.5%,#ffd6d6 58.3%,#fff 66.1%,#f4f4ff 68%,#f4f4ff 78.7%,#f0f0ff 79.7%,#dadaff 81.6%,#d7d7ff 82.6%,#d7d7ff 94.2%,#e9e9ff 96.2%,#e9e9ff 100%)"></i><i style="top:102px;background:linear-gradient(90deg,#bebeff 0%,#b9b9ff 7.8%,#7878ff 16.5%,#5757ff 22.3%,#6767ff 25.3%,#adadff 28.2%,#ececff 30.1%,#fff4f4 31.1%,#fff0f0 33%,#fcc 35%,#ff9595 38.9%,#ff8b8b 40.8%,#ff9f9f 42.7%,#ffd7d7 45.7%,#ffe2e2 46.6%,#ffe3e3 47.6%,#ffc7c7 51.5%,#ffd7d7 58.3%,#fff 66.1%,#f3f3ff 68%,#f3f3ff 78.7%,#d7d7ff 82.6%,#d7d7ff 94.2%,#e9e9ff 96.2%,#e9e9ff 100%)"></i><i style="top:104px;background:linear-gradient(90deg,#bcbcff 0%,#bbf 7.8%,#7a7aff 16.5%,#5d5dff 21.4%,#5959ff 23.3%,#6262ff 25.3%,#7878ff 26.2%,#aeaeff 28.2%,#f4f4ff 30.1%,#ffe8e8 31.1%,#ffdede 34%,#ffa6a6 36.9%,#f77 38.9%,#ff6868 39.8%,#ff6767 40.8%,#ff7373 41.8%,#ffdbdb 45.7%,#ffebeb 46.6%,#ffeded 47.6%,#ffd1d1 50.5%,#ffcece 52.5%,#ffd9d9 58.3%,#fefeff 66.1%,#f2f2ff 68%,#f0f0ff 79.7%,#dbdbff 81.6%,#d7d7ff 82.6%,#d7d7ff 94.2%,#e9e9ff 96.2%,#e9e9ff 100%)"></i><i style="top:106px;background:linear-gradient(90deg,#bbf 0%,#b6b6ff 8.7%,#9d9dff 12.6%,#7b7bff 16.5%,#5858ff 23.3%,#6161ff 25.3%,#7171ff 26.2%,#afafff 28.2%,#fffdfd 30.1%,#ffd8d8 31.1%,#ffcece 32.1%,#ffd9d9 34%,#fcc 35%,#ff9b9b 36.9%,#ff5b5b 38.9%,#ff4747 39.8%,#f44 40.8%,#ff5353 41.8%,#ffb3b3 44.7%,#ffcdcd 45.7%,#ffdede 46.6%,#ffe3e3 47.6%,#ffd4d4 50.5%,#ffd5d5 54.4%,#ffdfdf 59.3%,#fefeff 66.1%,#f2f2ff 68%,#f0f0ff 79.7%,#d8d8ff 82.6%,#d8d8ff 94.2%,#e9e9ff 96.2%,#e9e9ff 100%)"></i><i style="top:108px;background:linear-gradient(90deg,#b9b9ff 0%,#b8b8ff 8.7%,#9f9fff 12.6%,#7d7dff 16.5%,#5757ff 23.3%,#6868ff 26.2%,#aeaeff 28.2%,#dbdbff 29.1%,#fff3f3 30.1%,#ffcaca 31.1%,#ffbdbd 32.1%,#ffd5d5 34%,#ffcdcd 35%,#f99 36.9%,#ff4f4f 38.9%,#ff3535 39.8%,#ff2e2e 40.8%,#ff3c3c 41.8%,#ff5959 42.7%,#ffa1a1 44.7%,#ffbcbc 45.7%,#ffcece 46.6%,#ffd6d6 47.6%,#ffd8d8 54.4%,#ffe1e1 59.3%,#fefeff 66.1%,#efefff 69%,#efefff 79.7%,#dcdcff 81.6%,#d9d9ff 82.6%,#d9d9ff 94.2%,#e9e9ff 96.2%,#e9e9ff 100%)"></i><i style="top:110px;background:linear-gradient(90deg,#b8b8ff 0%,#b4b4ff 9.7%,#6c6cff 19.4%,#5959ff 23.3%,#5a5aff 24.3%,#6464ff 26.2%,#8181ff 27.2%,#d9d9ff 29.1%,#fff4f4 30.1%,#ffcaca 31.1%,#ffb9b9 32.1%,#ffd3d3 34%,#ffd2d2 35%,#ffbfbf 35.9%,#ffa3a3 36.9%,#ff5858 38.9%,#ff3a3a 39.8%,#ff2d2d 40.8%,#ff3434 41.8%,#ff4c4c 42.7%,#ff9393 44.7%,#ffb0b0 45.7%,#ffc5c5 46.6%,#ffd7d7 48.6%,#ffe4e4 59.3%,#fefeff 66.1%,#eef 69%,#eef 79.7%,#d9d9ff 82.6%,#d9d9ff 94.2%,#e9e9ff 96.2%,#e9e9ff 100%)"></i><i style="top:112px;background:linear-gradient(90deg,#b7b7ff 0%,#b5b5ff 9.7%,#7a7aff 17.5%,#6262ff 21.4%,#5959ff 24.3%,#6363ff 26.2%,#7878ff 27.2%,#a0a0ff 28.2%,#fdfdff 30.1%,#ffd8d8 31.1%,#ffc3c3 32.1%,#ffd7d7 34%,#ffd9d9 35%,#fcc 35.9%,#ffb4b4 36.9%,#ff5151 39.8%,#ff3d3d 40.8%,#ff3939 41.8%,#ff4848 42.7%,#ffa6a6 45.7%,#ffbebe 46.6%,#ffcece 47.6%,#ffdcdc 49.5%,#ffe6e6 59.3%,#fefeff 66.1%,#ededff 69%,#ededff 79.7%,#dadaff 82.6%,#dadaff 94.2%,#e9e9ff 96.2%,#e9e9ff 100%)"></i><i style="top:114px;background:linear-gradient(90deg,#b6b6ff 0%,#b5b5ff 9.7%,#9d9dff 13.6%,#7b7bff 17.5%,#6363ff 21.4%,#5959ff 24.3%,#6262ff 26.2%,#7070ff 27.2%,#eaeaff 30.1%,#fee 31.1%,#ffd3d3 32.1%,#ffdede 35%,#ffd7d7 35.9%,#ffb0b0 37.9%,#ff5959 40.8%,#ff4c4c 41.8%,#ff4f4f 42.7%,#ff6262 43.7%,#ff9b9b 45.7%,#ffc6c6 47.6%,#ffd3d3 48.6%,#ffdede 50.5%,#ffeaea 60.2%,#fefeff 66.1%,#ededff 69%,#ececff 79.7%,#dadaff 82.6%,#dadaff 94.2%,#e9e9ff 96.2%,#e9e9ff 100%)"></i><i style="top:116px;background:linear-gradient(90deg,#b6b6ff 0%,#b5b5ff 9.7%,#9d9dff 13.6%,#7b7bff 17.5%,#5858ff 24.3%,#6b6bff 27.2%,#fff 31.1%,#ffe0e0 32.1%,#ffd9d9 34%,#fdd 35.9%,#ffd6d6 36.9%,#ffc7c7 37.9%,#ff7b7b 40.8%,#ff6969 41.8%,#ff6262 42.7%,#ff6969 43.7%,#ff7979 44.7%,#ffc8c8 48.6%,#ffd4d4 49.5%,#ffdfdf 51.5%,#ffebeb 60.2%,#fefeff 66.1%,#ececff 69.9%,#ececff 79.7%,#dadaff 82.6%,#dadaff 94.2%,#e9e9ff 96.2%,#e9e9ff 100%)"></i><i style="top:118px;background:linear-gradient(90deg,#b5b5ff 0%,#b5b5ff 9.7%,#9d9dff 13.6%,#7b7bff 17.5%,#5858ff 24.3%,#6a6aff 27.2%,#f5f5ff 31.1%,#ffe7e7 32.1%,#ffd6d6 34%,#ffdfdf 35.9%,#ffd7d7 37.9%,#ffc8c8 38.9%,#ff8a8a 41.8%,#ff7b7b 42.7%,#ff7575 43.7%,#ff8080 45.7%,#ffc8c8 49.5%,#ffdbdb 51.5%,#ffebeb 60.2%,#fffcfc 65.1%,#fefeff 66.1%,#ececff 69.9%,#ececff 79.7%,#dadaff 82.6%,#dadaff 94.2%,#e9e9ff 96.2%,#e9e9ff 100%)"></i><i style="top:120px;background:linear-gradient(90deg,#b5b5ff 0%,#b5b5ff 9.7%,#9d9dff 13.6%,#7b7bff 17.5%,#5858ff 24.3%,#6a6aff 27.2%,#f0f0ff 31.1%,#ffecec 32.1%,#ffd6d6 34%,#ffe3e3 36.9%,#ffd9d9 38.9%,#fbb 40.8%,#ff8383 43.7%,#f77 44.7%,#ff7474 45.7%,#ff7d7d 46.6%,#ffb9b9 49.5%,#ffd5d5 51.5%,#fffcfc 65.1%,#fefeff 66.1%,#ececff 69.9%,#ececff 79.7%,#dadaff 82.6%,#dadaff 94.2%,#e9e9ff 96.2%,#e9e9ff 100%)"></i><i style="top:122px;background:linear-gradient(90deg,#b5b5ff 0%,#b5b5ff 9.7%,#9d9dff 13.6%,#7b7bff 17.5%,#5858ff 24.3%,#6a6aff 27.2%,#ededff 31.1%,#fff1f1 32.1%,#ffd8d8 34%,#ffd7d7 35%,#ffe6e6 37.9%,#ffe3e3 38.9%,#ffcece 40.8%,#ff7f7f 44.7%,#ff7474 45.7%,#ff7474 46.6%,#ff8080 47.6%,#ffbdbd 50.5%,#ffd5d5 52.5%,#fffcfc 65.1%,#fefeff 66.1%,#ececff 69.9%,#ececff 79.7%,#dadaff 82.6%,#dadaff 94.2%,#e9e9ff 96.2%,#e9e9ff 100%)"></i><i style="top:124px;background:linear-gradient(90deg,#b5b5ff 0%,#b5b5ff 9.7%,#9d9dff 13.6%,#7b7bff 17.5%,#6363ff 21.4%,#5959ff 24.3%,#6a6aff 27.2%,#ececff 31.1%,#fff4f4 32.1%,#ffd9d9 34%,#ffd5d5 35%,#ffe7e7 37.9%,#ffe7e7 38.9%,#ffdada 40.8%,#ffbaba 42.7%,#ff7f7f 45.7%,#ff7878 46.6%,#ff7b7b 47.6%,#ff8787 48.6%,#ffbfbf 51.5%,#ffd6d6 53.4%,#fffcfc 65.1%,#fefeff 66.1%,#ececff 69.9%,#ececff 79.7%,#dadaff 82.6%,#dadaff 94.2%,#e9e9ff 96.2%,#e9e9ff 100%)"></i><i style="top:126px;background:linear-gradient(90deg,#b5b5ff 0%,#b5b5ff 9.7%,#9d9dff 13.6%,#7b7bff 17.5%,#6363ff 21.4%,#5959ff 24.3%,#6b6bff 27.2%,#ececff 31.1%,#fff5f5 32.1%,#ffd9d9 34%,#ffd4d4 35%,#ffe8e8 37.9%,#ffe1e1 40.8%,#ffcaca 42.7%,#ff8383 46.6%,#ff7b7b 47.6%,#ff7d7d 48.6%,#f88 49.5%,#ffc2c2 52.5%,#ffd8d8 54.4%,#ffe3e3 56.3%,#fffcfc 65.1%,#fefeff 66.1%,#ececff 69.9%,#ececff 79.7%,#dadaff 82.6%,#dadaff 94.2%,#e9e9ff 96.2%,#e9e9ff 100%)"></i><i style="top:128px;background:linear-gradient(90deg,#b5b5ff 0%,#b5b5ff 9.7%,#9d9dff 13.6%,#7b7bff 17.5%,#6363ff 21.4%,#5959ff 24.3%,#6161ff 26.2%,#6c6cff 27.2%,#eef 31.1%,#fff5f5 32.1%,#ffdbdb 34%,#ffd6d6 35%,#ffe9e9 37.9%,#ffe8e8 39.8%,#ffdede 41.8%,#ffc9c9 43.7%,#ff9090 46.6%,#ff8080 47.6%,#ff7979 48.6%,#ff7d7d 49.5%,#ffc8c8 53.4%,#fdd 55.4%,#fffcfc 65.1%,#fefeff 66.1%,#ececff 69.9%,#ececff 79.7%,#dadaff 82.6%,#dadaff 94.2%,#e9e9ff 96.2%,#e9e9ff 100%)"></i><i style="top:130px;background:linear-gradient(90deg,#b5b5ff 0%,#b5b5ff 9.7%,#6868ff 20.4%,#5959ff 24.3%,#6161ff 26.2%,#6d6dff 27.2%,#efefff 31.1%,#fff5f5 32.1%,#ffdcdc 34%,#ffd8d8 35%,#ffebeb 38.9%,#fdd 42.7%,#ffc7c7 44.7%,#ff8a8a 47.6%,#ff7d7d 48.6%,#ff7a7a 49.5%,#ff8484 50.5%,#ffc0c0 53.4%,#ffd9d9 55.4%,#fffcfc 65.1%,#fefeff 66.1%,#ececff 69.9%,#ececff 79.7%,#dadaff 82.6%,#dadaff 94.2%,#e9e9ff 96.2%,#e9e9ff 100%)"></i><i style="top:132px;background:linear-gradient(90deg,#b5b5ff 0%,#b5b5ff 9.7%,#9d9dff 13.6%,#6e6eff 19.4%,#5959ff 24.3%,#6161ff 26.2%,#6e6eff 27.2%,#f1f1ff 31.1%,#fff4f4 32.1%,#fdd 34%,#ffdbdb 35%,#ffebeb 38.9%,#ffdcdc 43.7%,#ffc3c3 45.7%,#f88 48.6%,#ff7f7f 49.5%,#ff8181 50.5%,#ff8e8e 51.5%,#ffc8c8 54.4%,#ffdede 56.3%,#fffcfc 65.1%,#fefeff 66.1%,#ececff 69.9%,#ececff 79.7%,#dadaff 82.6%,#dadaff 94.2%,#e9e9ff 96.2%,#e9e9ff 100%)"></i><i style="top:134px;background:linear-gradient(90deg,#b5b5ff 0%,#b5b5ff 9.7%,#9d9dff 13.6%,#7474ff 18.5%,#5959ff 24.3%,#6161ff 26.2%,#6f6fff 27.2%,#f3f3ff 31.1%,#fff6f6 32.1%,#ffe2e2 34%,#ffe0e0 35%,#ffeded 37.9%,#ffe0e0 43.7%,#ffcece 45.7%,#ff9595 48.6%,#ff8686 49.5%,#ff8181 50.5%,#ff8989 51.5%,#ffd1d1 55.4%,#ffdcdc 56.3%,#fffcfc 65.1%,#fefeff 66.1%,#ececff 69.9%,#ececff 79.7%,#dadaff 82.6%,#dadaff 94.2%,#e9e9ff 96.2%,#e9e9ff 100%)"></i><i style="top:136px;background:linear-gradient(90deg,#b5b5ff 0%,#b5b5ff 9.7%,#9d9dff 13.6%,#7a7aff 17.5%,#6262ff 21.4%,#5959ff 24.3%,#6161ff 26.2%,#7070ff 27.2%,#adadff 29.1%,#f4f4ff 31.1%,#fff8f8 32.1%,#ffe8e8 35%,#fff1f1 38.9%,#ffdfdf 44.7%,#ffc9c9 46.6%,#ff9090 49.5%,#ff8585 50.5%,#ff8787 51.5%,#ff9393 52.5%,#fcc 55.4%,#ffe1e1 57.3%,#fefeff 66.1%,#ececff 69.9%,#ececff 79.7%,#dadaff 82.6%,#dadaff 94.2%,#e9e9ff 96.2%,#e9e9ff 100%)"></i><i style="top:138px;background:linear-gradient(90deg,#b5b5ff 0%,#b5b5ff 9.7%,#9d9dff 13.6%,#7a7aff 17.5%,#6262ff 21.4%,#5959ff 24.3%,#6262ff 26.2%,#7171ff 27.2%,#adadff 29.1%,#f6f6ff 31.1%,#fffafa 32.1%,#fee 35%,#fff7f7 39.8%,#ffe3e3 44.7%,#ffd1d1 46.6%,#ff8d8d 50.5%,#ff8a8a 51.5%,#ff9191 52.5%,#ffc7c7 55.4%,#ffdfdf 57.3%,#fefeff 66.1%,#ececff 69.9%,#ececff 79.7%,#dadaff 82.6%,#dadaff 94.2%,#e9e9ff 96.2%,#e9e9ff 100%)"></i><i style="top:140px;background:linear-gradient(90deg,#b5b5ff 0%,#b5b5ff 9.7%,#9d9dff 13.6%,#7a7aff 17.5%,#6767ff 20.4%,#5a5aff 24.3%,#6262ff 26.2%,#7272ff 27.2%,#adadff 29.1%,#f9f9ff 31.1%,#fff9f9 32.1%,#fee 35%,#fffefe 37.9%,#fffdfd 40.8%,#ffd8d8 46.6%,#ff9797 50.5%,#ff8f8f 51.5%,#ff9191 52.5%,#ff9d9d 53.4%,#ffc2c2 55.4%,#fdd 57.3%,#fefeff 66.1%,#ececff 69.9%,#ececff 79.7%,#dadaff 82.6%,#dadaff 94.2%,#e9e9ff 96.2%,#e9e9ff 100%)"></i><i style="top:142px;background:linear-gradient(90deg,#b5b5ff 0%,#b5b5ff 9.7%,#9d9dff 13.6%,#6d6dff 19.4%,#5a5aff 24.3%,#6262ff 26.2%,#7373ff 27.2%,#aeaeff 29.1%,#fcfcff 31.1%,#fee 33%,#ffe8e8 35%,#fff9f9 36.9%,#fbfbff 37.9%,#f4f4ff 39.8%,#fffdfd 41.8%,#ffdcdc 46.6%,#ffc3c3 48.6%,#ff9f9f 50.5%,#ff9393 51.5%,#ff9292 52.5%,#ff9b9b 53.4%,#ffdbdb 57.3%,#fefeff 66.1%,#ececff 69.9%,#ececff 79.7%,#dadaff 82.6%,#dadaff 94.2%,#e9e9ff 96.2%,#e9e9ff 100%)"></i><i style="top:144px;background:linear-gradient(90deg,#b5b5ff 0%,#b5b5ff 9.7%,#9d9dff 13.6%,#6d6dff 19.4%,#5a5aff 24.3%,#6262ff 26.2%,#7373ff 27.2%,#aeaeff 29.1%,#fffdfd 31.1%,#ffe6e6 33%,#ffdfdf 35%,#fff7f7 36.9%,#fafaff 37.9%,#f2f2ff 39.8%,#fffefe 41.8%,#ffd6d6 47.6%,#ffa5a5 50.5%,#ff9898 51.5%,#ff9494 52.5%,#ff9b9b 53.4%,#ffcdcd 56.3%,#ffe1e1 58.3%,#fefeff 66.1%,#ececff 69.9%,#ececff 79.7%,#dadaff 82.6%,#dadaff 94.2%,#e9e9ff 96.2%,#e9e9ff 100%)"></i><i style="top:146px;background:linear-gradient(90deg,#b5b5ff 0%,#b5b5ff 9.7%,#9d9dff 13.6%,#7373ff 18.5%,#5959ff 23.3%,#6262ff 26.2%,#7474ff 27.2%,#aeaeff 29.1%,#fffafa 31.1%,#ffd9d9 34%,#ffd8d8 35%,#fffefe 37.9%,#f9f9ff 38.9%,#fcfcff 40.8%,#ffd7d7 47.6%,#ff9b9b 51.5%,#ff9797 52.5%,#ff9c9c 53.4%,#ffcbcb 56.3%,#ffdfdf 58.3%,#fefeff 66.1%,#ececff 69.9%,#ececff 79.7%,#dadaff 82.6%,#dadaff 94.2%,#e9e9ff 96.2%,#e9e9ff 100%)"></i><i style="top:148px;background:linear-gradient(90deg,#b5b5ff 0%,#b5b5ff 9.7%,#9d9dff 13.6%,#7373ff 18.5%,#5959ff 23.3%,#6262ff 26.2%,#7575ff 27.2%,#aeaeff 29.1%,#fff9f9 31.1%,#ffdada 34%,#ffd8d8 35%,#fff6f6 37.9%,#fffcfc 39.8%,#ffdfdf 46.6%,#ffcbcb 48.6%,#ff9d9d 51.5%,#ff9898 52.5%,#ff9d9d 53.4%,#ffc9c9 56.3%,#fdd 58.3%,#fefeff 66.1%,#ececff 69.9%,#ececff 79.7%,#dadaff 82.6%,#dadaff 94.2%,#e9e9ff 96.2%,#e9e9ff 100%)"></i><i style="top:150px;background:linear-gradient(90deg,#b5b5ff 0%,#b5b5ff 9.7%,#9c9cff 13.6%,#7979ff 17.5%,#5959ff 23.3%,#6262ff 26.2%,#7575ff 27.2%,#aeaeff 29.1%,#fffbfb 31.1%,#ffdfdf 35%,#fff3f3 38.9%,#ffe2e2 45.7%,#ffd4d4 47.6%,#ffa8a8 50.5%,#ff9797 52.5%,#ff9c9c 53.4%,#ffc5c5 56.3%,#ffd9d9 58.3%,#fff 66.1%,#ececff 69.9%,#ececff 79.7%,#dadaff 82.6%,#dadaff 94.2%,#e9e9ff 96.2%,#e9e9ff 100%)"></i><i style="top:152px;background:linear-gradient(90deg,#b5b5ff 0%,#b5b5ff 9.7%,#66f 20.4%,#5a5aff 24.3%,#6262ff 26.2%,#7676ff 27.2%,#aeaeff 29.1%,#fffcfc 31.1%,#ffe8e8 35%,#fff1f1 39.8%,#ffecec 43.7%,#ffd9d9 46.6%,#ffa3a3 50.5%,#ff9595 52.5%,#ffa3a3 54.4%,#ffd5d5 58.3%,#fff 66.1%,#ececff 69.9%,#ececff 79.7%,#dadaff 82.6%,#dadaff 94.2%,#e9e9ff 96.2%,#e9e9ff 100%)"></i><i style="top:154px;background:linear-gradient(90deg,#b5b5ff 0%,#b5b5ff 9.7%,#66f 20.4%,#5a5aff 24.3%,#6363ff 26.2%,#7676ff 27.2%,#aeaeff 29.1%,#fffdfd 31.1%,#ffebeb 35.9%,#fff7f7 41.8%,#fff3f3 43.7%,#ffd7d7 46.6%,#ff9e9e 50.5%,#ff9393 52.5%,#ffa0a0 54.4%,#ffc7c7 57.3%,#ffd8d8 59.3%,#fff 66.1%,#ececff 69.9%,#ececff 79.7%,#dadaff 82.6%,#dadaff 94.2%,#e9e9ff 96.2%,#e9e9ff 100%)"></i><i style="top:156px;background:linear-gradient(90deg,#b5b5ff 0%,#b5b5ff 9.7%,#66f 20.4%,#5a5aff 24.3%,#6363ff 26.2%,#7676ff 27.2%,#aeaeff 29.1%,#fffbfb 31.1%,#ffecec 35.9%,#fffdfd 42.7%,#fee 44.7%,#ff9d9d 50.5%,#ff9494 52.5%,#ffa0a0 54.4%,#ffc3c3 57.3%,#ffdcdc 60.2%,#fff 66.1%,#ececff 69.9%,#ececff 79.7%,#dadaff 82.6%,#dadaff 94.2%,#e9e9ff 96.2%,#e9e9ff 100%)"></i><i style="top:158px;background:linear-gradient(90deg,#b5b5ff 0%,#b5b5ff 9.7%,#9c9cff 13.6%,#7979ff 17.5%,#5959ff 23.3%,#6363ff 26.2%,#77f 27.2%,#afafff 29.1%,#dbdbff 30.1%,#fff6f6 31.1%,#ffe7e7 33%,#ffe6e6 35%,#fff9f9 42.7%,#ffebeb 44.7%,#ff9d9d 50.5%,#ff9898 52.5%,#ffa2a2 54.4%,#ffe2e2 61.2%,#fff 66.1%,#ececff 69.9%,#ececff 79.7%,#dadaff 82.6%,#dadaff 94.2%,#e9e9ff 96.2%,#e9e9ff 100%)"></i><i style="top:160px;background:linear-gradient(90deg,#b5b5ff 0%,#b5b5ff 9.7%,#9c9cff 13.6%,#7272ff 18.5%,#5858ff 23.3%,#6363ff 26.2%,#7979ff 27.2%,#b2b2ff 29.1%,#dfdfff 30.1%,#fff1f1 31.1%,#ffd9d9 33%,#ffd8d8 34%,#ffeded 37.9%,#fff0f0 42.7%,#ffe2e2 44.7%,#ffa4a4 49.5%,#ff9898 51.5%,#ff9d9d 53.4%,#ffe9e9 62.2%,#fff 66.1%,#ececff 69.9%,#ececff 79.7%,#dadaff 82.6%,#dadaff 94.2%,#e9e9ff 96.2%,#e9e9ff 100%)"></i><i style="top:162px;background:linear-gradient(90deg,#b5b5ff 0%,#b5b5ff 9.7%,#7171ff 18.5%,#5858ff 23.3%,#6363ff 26.2%,#b5b5ff 29.1%,#e3e3ff 30.1%,#ffefef 31.1%,#ffcece 33%,#fcc 34%,#ffecec 37.9%,#ffe8e8 42.7%,#ffdbdb 44.7%,#ff9f9f 49.5%,#ff9797 51.5%,#ff9e9e 53.4%,#ffe1e1 61.2%,#fefeff 66.1%,#ececff 69.9%,#ececff 79.7%,#dadaff 82.6%,#dadaff 94.2%,#e9e9ff 96.2%,#e9e9ff 100%)"></i><i style="top:164px;background:linear-gradient(90deg,#b5b5ff 0%,#b5b5ff 9.7%,#7676ff 17.5%,#5757ff 23.3%,#6565ff 26.2%,#babaff 29.1%,#e5e5ff 30.1%,#fff3f3 31.1%,#ffcece 33%,#ffc7c7 34%,#ffcaca 35%,#ffe2e2 36.9%,#ffefef 38.9%,#ffe5e5 42.7%,#ffd7d7 44.7%,#ff9d9d 49.5%,#ff9898 51.5%,#ffa1a1 53.4%,#fff0f0 63.1%,#fefeff 66.1%,#ececff 69.9%,#ececff 79.7%,#dadaff 82.6%,#dadaff 94.2%,#e9e9ff 96.2%,#e9e9ff 100%)"></i><i style="top:166px;background:linear-gradient(90deg,#b5b5ff 0%,#b3b3ff 9.7%,#7474ff 17.5%,#6161ff 20.4%,#5757ff 23.3%,#5f5fff 25.3%,#6b6bff 26.2%,#a0a0ff 28.2%,#e4e4ff 30.1%,#fffcfc 31.1%,#ffd5d5 33%,#ffc8c8 34%,#ffc6c6 35%,#ffecec 37.9%,#fff2f2 38.9%,#fff1f1 40.8%,#ffdede 43.7%,#ffa3a3 48.6%,#f99 50.5%,#ff9f9f 52.5%,#fffcfc 65.1%,#fdfdff 66.1%,#ededff 69%,#ececff 79.7%,#dadaff 82.6%,#dadaff 94.2%,#e9e9ff 96.2%,#e9e9ff 100%)"></i><i style="top:168px;background:linear-gradient(90deg,#b5b5ff 0%,#b2b2ff 9.7%,#6565ff 19.4%,#5757ff 23.3%,#6060ff 25.3%,#7070ff 26.2%,#e2e2ff 30.1%,#f9f9ff 31.1%,#fff4f4 32.1%,#fcc 34%,#ffc7c7 35%,#ffcece 35.9%,#fff0f0 37.9%,#fff9f9 38.9%,#fff7f7 40.8%,#fdd 43.7%,#ff9d9d 48.6%,#ff9898 50.5%,#fffdfd 65.1%,#ededff 69%,#ececff 79.7%,#dadaff 82.6%,#dadaff 94.2%,#e9e9ff 96.2%,#e9e9ff 100%)"></i><i style="top:170px;background:linear-gradient(90deg,#b5b5ff 0%,#b5b5ff 8.7%,#9c9cff 12.6%,#77f 16.5%,#5656ff 22.3%,#6060ff 25.3%,#e0e0ff 30.1%,#fffdfd 32.1%,#ffd5d5 34%,#ffd0d0 35%,#ffd6d6 35.9%,#fff7f7 37.9%,#fdfdff 38.9%,#fff 40.8%,#ffe9e9 42.7%,#ffa0a0 47.6%,#ff9696 49.5%,#ff9f9f 51.5%,#ffc3c3 55.4%,#fffefe 65.1%,#ededff 69%,#ececff 79.7%,#dadaff 82.6%,#dadaff 94.2%,#e9e9ff 96.2%,#e9e9ff 100%)"></i><i style="top:172px;background:linear-gradient(90deg,#b5b5ff 0%,#b5b5ff 8.7%,#9a9aff 12.6%,#7575ff 16.5%,#5454ff 22.3%,#6262ff 25.3%,#dedeff 30.1%,#fafaff 32.1%,#fff0f0 33%,#ffe0e0 34%,#ffdede 35%,#ffe3e3 35.9%,#fff 37.9%,#f5f5ff 38.9%,#fafaff 40.8%,#fff7f7 41.8%,#ffa1a1 46.6%,#ff9696 48.6%,#ff9e9e 50.5%,#ffc9c9 55.4%,#fff 65.1%,#ededff 69%,#ececff 79.7%,#dadaff 82.6%,#dadaff 94.2%,#e9e9ff 96.2%,#e9e9ff 100%)"></i><i style="top:174px;background:linear-gradient(90deg,#b5b5ff 0%,#b4b4ff 8.7%,#9898ff 12.6%,#7373ff 16.5%,#5f5fff 19.4%,#5454ff 22.3%,#5c5cff 24.3%,#6868ff 25.3%,#dbdbff 30.1%,#fffafa 33%,#ffeded 34%,#ffeded 35%,#fffcfc 36.9%,#f2f2ff 38.9%,#f3f3ff 39.8%,#fdfdff 40.8%,#fff0f0 41.8%,#ff9c9c 45.7%,#ff8d8d 47.6%,#ff9797 49.5%,#ffcaca 54.4%,#fefeff 65.1%,#ededff 69%,#ececff 79.7%,#dadaff 82.6%,#dadaff 94.2%,#e9e9ff 96.2%,#e9e9ff 100%)"></i><i style="top:176px;background:linear-gradient(90deg,#b5b5ff 0%,#b3b3ff 8.7%,#5d5dff 19.4%,#5454ff 22.3%,#5d5dff 24.3%,#6d6dff 25.3%,#9e9eff 27.2%,#d8d8ff 30.1%,#fffdfd 34%,#f6f6ff 38.9%,#fcfcff 39.8%,#fff4f4 40.8%,#ff9393 44.7%,#ff7d7d 46.6%,#f88 48.6%,#ffb3b3 51.5%,#ffc8c8 53.4%,#fffdfd 64.1%,#ededff 69%,#ececff 79.7%,#dadaff 82.6%,#dadaff 94.2%,#e9e9ff 96.2%,#e9e9ff 100%)"></i><i style="top:178px;background:linear-gradient(90deg,#b5b5ff 0%,#b2b2ff 8.7%,#6262ff 18.5%,#5353ff 21.4%,#5454ff 22.3%,#5d5dff 24.3%,#a1a1ff 27.2%,#d4d4ff 30.1%,#f0f0ff 34%,#efefff 35.9%,#fefeff 37.9%,#fffbfb 38.9%,#ffeded 39.8%,#ffd8d8 40.8%,#ff8686 43.7%,#ff7373 44.7%,#ff6a6a 45.7%,#ff6b6b 46.6%,#ff7676 47.6%,#ffb8b8 51.5%,#ffcdcd 53.4%,#ffd8d8 55.4%,#ffdede 58.3%,#fffefe 64.1%,#ededff 69%,#ececff 79.7%,#dadaff 82.6%,#dadaff 94.2%,#e9e9ff 96.2%,#e9e9ff 100%)"></i><i style="top:180px;background:linear-gradient(90deg,#b5b5ff 0%,#b1b1ff 8.7%,#9c9cff 11.7%,#7676ff 15.5%,#5252ff 21.4%,#5d5dff 24.3%,#a4a4ff 27.2%,#d0d0ff 30.1%,#e6e6ff 35.9%,#f4f4ff 36.9%,#fff7f7 37.9%,#ffcdcd 39.8%,#ff6e6e 42.7%,#ff5757 43.7%,#ff4c4c 44.7%,#ff4d4d 45.7%,#ff5b5b 46.6%,#ffb2b2 50.5%,#ffcbcb 52.5%,#ffd7d7 54.4%,#ffdfdf 58.3%,#fff 64.1%,#ededff 69%,#ececff 79.7%,#dadaff 82.6%,#dadaff 94.2%,#e9e9ff 96.2%,#e9e9ff 100%)"></i><i style="top:182px;background:linear-gradient(90deg,#b5b5ff 0%,#b5b5ff 7.8%,#9b9bff 11.7%,#7575ff 15.5%,#5151ff 21.4%,#5f5fff 24.3%,#a5a5ff 27.2%,#ceceff 30.1%,#dcdcff 35%,#e2e2ff 35.9%,#f8f8ff 36.9%,#ffeaea 37.9%,#ffcdcd 38.9%,#ff5858 41.8%,#ff3737 42.7%,#ff2424 43.7%,#f22 44.7%,#ff3131 45.7%,#ff8f8f 48.6%,#ffc1c1 50.5%,#ffcfcf 51.5%,#ffdbdb 53.4%,#ffe0e0 58.3%,#fff 64.1%,#ededff 69%,#ececff 79.7%,#dadaff 82.6%,#dadaff 94.2%,#e9e9ff 96.2%,#eaeaff 100%)"></i><i style="top:184px;background:linear-gradient(90deg,#b5b5ff 0%,#b5b5ff 7.8%,#9a9aff 11.7%,#7474ff 15.5%,#5151ff 21.4%,#6060ff 24.3%,#a5a5ff 27.2%,#ccf 30.1%,#dadaff 35%,#e3e3ff 35.9%,#fdfdff 36.9%,#ffb7b7 38.9%,#ff2c2c 41.8%,#ff0a0a 42.7%,#f00 43.7%,#ff0505 44.7%,#ff2121 45.7%,#ff9f9f 48.6%,#ffc3c3 49.5%,#ffdcdc 50.5%,#ffeaea 51.5%,#ffeded 52.5%,#ffe2e2 55.4%,#ffe1e1 58.3%,#fff 64.1%,#ededff 69%,#ececff 79.7%,#dadaff 82.6%,#dbdbff 94.2%,#ebebff 96.2%,#ececff 100%)"></i><i style="top:186px;background:linear-gradient(90deg,#b6b6ff 0%,#b5b5ff 7.8%,#9a9aff 11.7%,#7474ff 15.5%,#5151ff 21.4%,#6262ff 24.3%,#a6a6ff 27.2%,#ccf 30.1%,#d9d9ff 35%,#e3e3ff 35.9%,#fffdfd 36.9%,#ffa9a9 38.9%,#ff1212 41.8%,#f00 42.7%,#f00 44.7%,#ff2121 45.7%,#ffb9b9 48.6%,#ffe5e5 49.5%,#fafaff 50.5%,#ececff 51.5%,#efefff 52.5%,#fcfcff 53.4%,#ffe9e9 55.4%,#ffe1e1 57.3%,#ffe1e1 58.3%,#fff 64.1%,#ededff 69%,#ececff 79.7%,#dadaff 82.6%,#dbdbff 94.2%,#efefff 96.2%,#f1f1ff 100%)"></i><i style="top:188px;background:linear-gradient(90deg,#b7b7ff 0%,#b5b5ff 7.8%,#a2a2ff 10.7%,#5e5eff 18.5%,#5252ff 21.4%,#5d5dff 23.3%,#6a6aff 24.3%,#a9a9ff 27.2%,#c1c1ff 29.1%,#c9c9ff 30.1%,#d6d6ff 35%,#dfdfff 35.9%,#fff 36.9%,#ffa4a4 38.9%,#ff3939 40.8%,#ff0b0b 41.8%,#f00 42.7%,#ff0303 44.7%,#ff2d2d 45.7%,#ffcfcf 48.6%,#fff 49.5%,#dcdcff 50.5%,#ceceff 51.5%,#d6d6ff 52.5%,#fffefe 54.4%,#ffe6e6 56.3%,#ffe3e3 58.3%,#fefeff 65.1%,#ebebff 69.9%,#ececff 79.7%,#dadaff 82.6%,#dcdcff 94.2%,#f9f9ff 97.1%,#fdfdff 98.1%,#f8f8ff 100%)"></i><i style="top:190px;background:linear-gradient(90deg,#b8b8ff 0%,#b6b6ff 7.8%,#5e5eff 18.5%,#55f 21.4%,#6363ff 23.3%,#9f9fff 26.2%,#c1c1ff 29.1%,#d1d1ff 35%,#dadaff 35.9%,#f8f8ff 36.9%,#ffdada 37.9%,#ff4242 40.8%,#ff1818 41.8%,#f00 42.7%,#f00 43.7%,#ff1616 44.7%,#ff3d3d 45.7%,#ffd1d1 48.6%,#fffcfc 49.5%,#e2e2ff 50.5%,#d6d6ff 51.5%,#dcdcff 52.5%,#fffcfc 54.4%,#ffe7e7 56.3%,#ffe4e4 58.3%,#fdfdff 66.1%,#ebebff 70.9%,#ececff 79.7%,#dadaff 82.6%,#dbdbff 93.2%,#ddf 94.2%,#fff 97.1%,#fff9f9 98.1%,#fdfdff 100%)"></i><i style="top:192px;background:linear-gradient(90deg,#babaff 0%,#b7b7ff 7.8%,#9a9aff 11.7%,#6b6bff 16.5%,#5454ff 20.4%,#6060ff 22.3%,#6f6fff 23.3%,#88f 24.3%,#a7a7ff 26.2%,#bebeff 29.1%,#cbcbff 35%,#d3d3ff 35.9%,#ebebff 36.9%,#ffe5e5 37.9%,#ff5a5a 40.8%,#ff3232 41.8%,#ff1d1d 42.7%,#ff1b1b 43.7%,#ff2d2d 44.7%,#ff4d4d 45.7%,#ffc2c2 48.6%,#ffe3e3 49.5%,#fffafa 50.5%,#f9f9ff 51.5%,#fffafa 53.4%,#ffe9e9 55.4%,#ffe5e5 57.3%,#fdfdff 67%,#ebebff 70.9%,#ececff 79.7%,#dadaff 82.6%,#dadaff 92.3%,#ddf 94.2%,#f8f8ff 96.2%,#fffdfd 97.1%,#fff8f8 98.1%,#fff 100%)"></i><i style="top:194px;background:linear-gradient(90deg,#bbf 0%,#b7b7ff 7.8%,#a3a3ff 10.7%,#7272ff 15.5%,#5353ff 20.4%,#6565ff 22.3%,#9e9eff 24.3%,#acacff 25.3%,#babaff 29.1%,#c2c2ff 34%,#ccf 35.9%,#ddf 36.9%,#fff4f4 37.9%,#ffc5c5 38.9%,#ff5151 41.8%,#ff3a3a 42.7%,#ff3535 43.7%,#ff4040 44.7%,#ff5757 45.7%,#ffcaca 49.5%,#ffe6e6 51.5%,#ffe8e8 59.3%,#fffefe 67%,#ebebff 71.9%,#ececff 79.7%,#dadaff 82.6%,#dbdbff 93.2%,#ddf 94.2%,#fdfdff 97.1%,#fbfbff 100%)"></i><i style="top:196px;background:linear-gradient(90deg,#bbf 0%,#b8b8ff 7.8%,#a3a3ff 10.7%,#6a6aff 16.5%,#5454ff 20.4%,#6868ff 22.3%,#b6b6ff 24.3%,#c3c3ff 25.3%,#b2b2ff 27.2%,#c6c6ff 35.9%,#d2d2ff 36.9%,#fcfcff 37.9%,#ffd6d6 38.9%,#ff7070 41.8%,#ff5454 42.7%,#ff4a4a 43.7%,#ff4e4e 44.7%,#ff5d5d 45.7%,#ffa7a7 48.6%,#fcc 50.5%,#ffd7d7 51.5%,#ffe0e0 53.4%,#fefeff 68%,#ebebff 71.9%,#ececff 79.7%,#dadaff 82.6%,#dcdcff 94.2%,#f6f6ff 97.1%,#f4f4ff 100%)"></i><i style="top:198px;background:linear-gradient(90deg,#bbf 0%,#b8b8ff 7.8%,#9a9aff 11.7%,#6262ff 17.5%,#5454ff 20.4%,#6868ff 22.3%,#9292ff 23.3%,#c8c8ff 24.3%,#dcdcff 25.3%,#b7b7ff 27.2%,#c2c2ff 35%,#c5c5ff 35.9%,#d4d4ff 36.9%,#f9f9ff 37.9%,#ffcaca 39.8%,#ff7171 42.7%,#ff6161 43.7%,#ff5d5d 44.7%,#ff6565 45.7%,#ff7676 46.6%,#ffb9b9 49.5%,#ffc9c9 50.5%,#ffdede 53.4%,#fff 68%,#ebebff 71.9%,#ececff 79.7%,#dadaff 82.6%,#dbdbff 94.2%,#ededff 96.2%,#eef 100%)"></i><i style="top:200px;background:linear-gradient(90deg,#bbf 0%,#b8b8ff 7.8%,#a2a2ff 10.7%,#6161ff 17.5%,#5454ff 20.4%,#66f 22.3%,#9292ff 23.3%,#d2d2ff 24.3%,#f3f3ff 25.3%,#c0c0ff 27.2%,#bdbdff 28.2%,#ccf 35.9%,#eaeaff 36.9%,#fff4f4 37.9%,#ffd7d7 39.8%,#ff8181 43.7%,#ff7575 44.7%,#ff7373 45.7%,#ff7c7c 46.6%,#ffc8c8 50.5%,#ffd4d4 51.5%,#ffdfdf 53.4%,#ffe8e8 60.2%,#fffdfd 68%,#eef 71.9%,#ececff 79.7%,#dadaff 82.6%,#dadaff 93.2%,#dbdbff 94.2%,#eaeaff 96.2%,#ebebff 100%)"></i><i style="top:202px;background:linear-gradient(90deg,#bbf 0%,#b8b8ff 7.8%,#6767ff 16.5%,#5454ff 20.4%,#6363ff 22.3%,#8c8cff 23.3%,#ceceff 24.3%,#fcfcff 25.3%,#eaeaff 26.2%,#ccf 27.2%,#c5c5ff 28.2%,#d8d8ff 35%,#f1f1ff 35.9%,#fff4f4 36.9%,#ffdfdf 39.8%,#ffc7c7 41.8%,#ff9595 44.7%,#ff8a8a 45.7%,#f88 46.6%,#ff8f8f 47.6%,#ffcfcf 51.5%,#ffdede 53.4%,#ffe5e5 60.2%,#fffefe 69%,#f0f0ff 72.9%,#ebebff 80.6%,#dadaff 83.5%,#dadaff 93.2%,#e9e9ff 96.2%,#e9e9ff 100%)"></i><i style="top:204px;background:linear-gradient(90deg,#bbf 0%,#b7b7ff 7.8%,#6d6dff 15.5%,#5959ff 18.5%,#55f 20.4%,#6161ff 22.3%,#8585ff 23.3%,#f5f5ff 25.3%,#f0f0ff 26.2%,#d7d7ff 27.2%,#d0d0ff 29.1%,#e5e5ff 33%,#fffbfb 35%,#ffeded 35.9%,#ffe3e3 40.8%,#ffd4d4 42.7%,#ffa9a9 45.7%,#ff9797 47.6%,#ffa6a6 49.5%,#ffd0d0 52.5%,#ffdede 54.4%,#ffe2e2 60.2%,#fffdfd 69.9%,#f3f3ff 73.8%,#ebebff 80.6%,#dadaff 84.5%,#dadaff 93.2%,#e9e9ff 96.2%,#e9e9ff 100%)"></i><i style="top:206px;background:linear-gradient(90deg,#bbf 0%,#b5b5ff 7.8%,#9d9dff 10.7%,#7373ff 14.6%,#5353ff 19.4%,#5f5fff 22.3%,#8080ff 23.3%,#e2e2ff 25.3%,#ededff 26.2%,#dadaff 28.2%,#ddf 29.1%,#fbfbff 32.1%,#fff3f3 33%,#ffe2e2 34%,#ffe0e0 35%,#ffecec 37.9%,#ffe9e9 42.7%,#ffd6d6 44.7%,#ffabab 47.6%,#ffa4a4 49.5%,#ffd0d0 53.4%,#fdd 55.4%,#ffdede 60.2%,#fefeff 71.9%,#ececff 80.6%,#dadaff 84.5%,#dadaff 93.2%,#e9e9ff 96.2%,#e9e9ff 100%)"></i><i style="top:208px;background:linear-gradient(90deg,#bbf 0%,#b4b4ff 7.8%,#7a7aff 13.6%,#5b5bff 17.5%,#5252ff 19.4%,#5f5fff 22.3%,#7d7dff 23.3%,#ceceff 25.3%,#e2e2ff 26.2%,#e4e4ff 28.2%,#fafaff 30.1%,#fff3f3 31.1%,#ffcaca 33%,#ffcece 34%,#ffeded 36.9%,#fff5f5 39.8%,#fff4f4 42.7%,#ffe8e8 44.7%,#ffb8b8 48.6%,#ffafaf 50.5%,#ffd0d0 54.4%,#ffdada 56.3%,#ffdada 60.2%,#fff 72.9%,#ebebff 81.6%,#dadaff 85.5%,#dadaff 93.2%,#e9e9ff 96.2%,#e9e9ff 100%)"></i><i style="top:210px;background:linear-gradient(90deg,#bbf 0%,#b3b3ff 7.8%,#7070ff 14.6%,#5151ff 19.4%,#6060ff 22.3%,#bfbfff 25.3%,#d7d7ff 26.2%,#f8f8ff 29.1%,#fff3f3 30.1%,#ffc6c6 32.1%,#ffc3c3 33%,#fff1f1 36.9%,#fffcfc 40.8%,#fff1f1 44.7%,#ffc5c5 49.5%,#ffbcbc 51.5%,#ffd8d8 57.3%,#ffdada 61.2%,#fffefe 73.8%,#dadaff 86.4%,#dadaff 93.2%,#e9e9ff 96.2%,#e9e9ff 100%)"></i><i style="top:212px;background:linear-gradient(90deg,#bbf 0%,#b8b8ff 6.8%,#a2a2ff 9.7%,#7878ff 13.6%,#6060ff 16.5%,#5151ff 19.4%,#6161ff 22.3%,#cfcfff 26.2%,#fff 29.1%,#ffc8c8 32.1%,#ffcdcd 33%,#ffefef 35.9%,#fff 40.8%,#fff0f0 45.7%,#ffc9c9 52.5%,#ffd6d6 60.2%,#fff 74.8%,#dadaff 86.4%,#dadaff 93.2%,#e9e9ff 96.2%,#e9e9ff 100%)"></i></div></div><div class="hm" style="left:285.1px;top:2.5px;width:102.9px;height:213.1px"><div><i style="top:0px;background:linear-gradient(90deg,#c0c0ff 0%,#bbf 6.8%,#a1a1ff 10.7%,#77f 15.5%,#5656ff 21.4%,#5f5fff 23.3%,#6c6cff 24.3%,#fdfdff 30.1%,#fffdfd 31.1%,#fff9f9 33%,#ffc6c6 39.8%,#ffbdbd 45.7%,#ffbdbd 51.5%,#ffc9c9 58.3%,#fff9f9 63.2%,#fdfdff 64.1%,#fafaff 78.7%,#d1d1ff 85.5%,#d1d1ff 91.4%,#d3d3ff 92.3%,#e4e4ff 93.3%,#e6e6ff 100%)"></i><i style="top:2px;background:linear-gradient(90deg,#c0c0ff 0%,#bbf 6.8%,#a1a1ff 10.7%,#77f 15.5%,#5656ff 21.4%,#5f5fff 23.3%,#6c6cff 24.3%,#fdfdff 30.1%,#fffdfd 31.1%,#fff9f9 33%,#ffc6c6 39.8%,#ffbdbd 45.7%,#ffbdbd 51.5%,#ffc9c9 58.3%,#fff9f9 63.2%,#fdfdff 64.1%,#fafaff 78.7%,#d1d1ff 85.5%,#d1d1ff 91.4%,#d3d3ff 92.3%,#e4e4ff 93.3%,#e6e6ff 100%)"></i><i style="top:4px;background:linear-gradient(90deg,#c0c0ff 0%,#bbf 6.8%,#a1a1ff 10.7%,#77f 15.5%,#5656ff 21.4%,#5f5fff 23.3%,#6c6cff 24.3%,#fdfdff 30.1%,#fffdfd 31.1%,#fff9f9 33%,#ffc6c6 39.8%,#ffbdbd 45.7%,#ffbdbd 51.5%,#ffc9c9 58.3%,#fff9f9 63.2%,#fdfdff 64.1%,#fafaff 78.7%,#d1d1ff 85.5%,#d1d1ff 91.4%,#d3d3ff 92.3%,#e4e4ff 93.3%,#e6e6ff 100%)"></i><i style="top:6px;background:linear-gradient(90deg,#c0c0ff 0%,#bbf 6.8%,#a1a1ff 10.7%,#77f 15.5%,#5656ff 21.4%,#5f5fff 23.3%,#6c6cff 24.3%,#fdfdff 30.1%,#fffdfd 31.1%,#fff9f9 33%,#ffc6c6 39.8%,#ffbdbd 45.7%,#ffbdbd 51.5%,#ffc9c9 58.3%,#fff9f9 63.2%,#fdfdff 64.1%,#fafaff 78.7%,#d1d1ff 85.5%,#d1d1ff 91.4%,#d3d3ff 92.3%,#e4e4ff 93.3%,#e6e6ff 100%)"></i><i style="top:8px;background:linear-gradient(90deg,#c0c0ff 0%,#bbf 6.8%,#a1a1ff 10.7%,#77f 15.5%,#5656ff 21.4%,#5f5fff 23.3%,#6c6cff 24.3%,#fdfdff 30.1%,#fffdfd 31.1%,#fff9f9 33%,#ffc6c6 39.8%,#ffbdbd 45.7%,#ffbdbd 51.5%,#ffc9c9 58.3%,#fff9f9 63.2%,#fdfdff 64.1%,#fafaff 78.7%,#d1d1ff 85.5%,#d1d1ff 91.4%,#d3d3ff 92.3%,#e4e4ff 93.3%,#e6e6ff 100%)"></i><i style="top:10px;background:linear-gradient(90deg,#c0c0ff 0%,#bbf 6.8%,#a1a1ff 10.7%,#77f 15.5%,#5656ff 21.4%,#5f5fff 23.3%,#6c6cff 24.3%,#fdfdff 30.1%,#fffdfd 31.1%,#fff9f9 33%,#ffc6c6 39.8%,#ffbdbd 45.7%,#ffbdbd 51.5%,#ffc9c9 58.3%,#fff9f9 63.2%,#fdfdff 64.1%,#fafaff 78.7%,#d1d1ff 85.5%,#d1d1ff 91.4%,#d3d3ff 92.3%,#e4e4ff 93.3%,#e6e6ff 100%)"></i><i style="top:12px;background:linear-gradient(90deg,#c0c0ff 0%,#bbf 6.8%,#a1a1ff 10.7%,#77f 15.5%,#5656ff 21.4%,#5f5fff 23.3%,#6c6cff 24.3%,#fdfdff 30.1%,#fffdfd 31.1%,#fff9f9 33%,#ffc6c6 39.8%,#ffbdbd 45.7%,#ffbdbd 51.5%,#ffc9c9 58.3%,#fff9f9 63.2%,#fdfdff 64.1%,#fafaff 78.7%,#d1d1ff 85.5%,#d1d1ff 91.4%,#d3d3ff 92.3%,#e4e4ff 93.3%,#e6e6ff 100%)"></i><i style="top:14px;background:linear-gradient(90deg,#c0c0ff 0%,#bbf 6.8%,#a1a1ff 10.7%,#77f 15.5%,#5656ff 21.4%,#5f5fff 23.3%,#6c6cff 24.3%,#fdfdff 30.1%,#fffdfd 31.1%,#fff9f9 33%,#ffc6c6 39.8%,#ffbdbd 45.7%,#ffbdbd 51.5%,#ffc9c9 58.3%,#fff9f9 63.2%,#fdfdff 64.1%,#fafaff 78.7%,#d1d1ff 85.5%,#d1d1ff 91.4%,#d3d3ff 92.3%,#e4e4ff 93.3%,#e6e6ff 100%)"></i><i style="top:16px;background:linear-gradient(90deg,#c0c0ff 0%,#bbf 6.8%,#a1a1ff 10.7%,#77f 15.5%,#5656ff 21.4%,#5f5fff 23.3%,#6c6cff 24.3%,#fdfdff 30.1%,#fffdfd 31.1%,#fff9f9 33%,#ffc6c6 39.8%,#ffbdbd 45.7%,#ffbdbd 51.5%,#ffc9c9 58.3%,#fff9f9 63.2%,#fdfdff 64.1%,#fafaff 78.7%,#d1d1ff 85.5%,#d1d1ff 91.4%,#d3d3ff 92.3%,#e4e4ff 93.3%,#e6e6ff 100%)"></i><i style="top:18px;background:linear-gradient(90deg,#c0c0ff 0%,#bbf 6.8%,#a1a1ff 10.7%,#77f 15.5%,#5656ff 21.4%,#5f5fff 23.3%,#6c6cff 24.3%,#fdfdff 30.1%,#fffdfd 31.1%,#fff9f9 33%,#ffc6c6 39.8%,#ffbdbd 45.7%,#ffbdbd 51.5%,#ffc9c9 58.3%,#fff9f9 63.2%,#fdfdff 64.1%,#fafaff 78.7%,#d1d1ff 85.5%,#d1d1ff 91.4%,#d3d3ff 92.3%,#e4e4ff 93.3%,#e6e6ff 100%)"></i><i style="top:20px;background:linear-gradient(90deg,#c0c0ff 0%,#bbf 6.8%,#a1a1ff 10.7%,#77f 15.5%,#5656ff 21.4%,#5f5fff 23.3%,#6c6cff 24.3%,#fdfdff 30.1%,#fffdfd 31.1%,#fff9f9 33%,#ffc6c6 39.8%,#ffbdbd 45.7%,#ffbdbd 51.5%,#ffc9c9 58.3%,#fff9f9 63.2%,#fdfdff 64.1%,#fafaff 78.7%,#d1d1ff 85.5%,#d1d1ff 91.4%,#d3d3ff 92.3%,#e4e4ff 93.3%,#e6e6ff 100%)"></i><i style="top:22px;background:linear-gradient(90deg,#c0c0ff 0%,#bbf 6.8%,#a1a1ff 10.7%,#77f 15.5%,#5656ff 21.4%,#5f5fff 23.3%,#6c6cff 24.3%,#fdfdff 30.1%,#fffdfd 31.1%,#fff9f9 33%,#ffc6c6 39.8%,#ffbdbd 45.7%,#ffbdbd 51.5%,#ffc9c9 58.3%,#fff9f9 63.2%,#fdfdff 64.1%,#fafaff 78.7%,#d1d1ff 85.5%,#d1d1ff 91.4%,#d3d3ff 92.3%,#e4e4ff 93.3%,#e6e6ff 100%)"></i><i style="top:24px;background:linear-gradient(90deg,#c0c0ff 0%,#bbf 6.8%,#a1a1ff 10.7%,#77f 15.5%,#5656ff 21.4%,#5f5fff 23.3%,#6c6cff 24.3%,#fdfdff 30.1%,#fffdfd 31.1%,#fff9f9 33%,#ffc6c6 39.8%,#ffbdbd 45.7%,#ffbdbd 51.5%,#ffc9c9 58.3%,#fff9f9 63.2%,#fdfdff 64.1%,#fafaff 78.7%,#d1d1ff 85.5%,#d1d1ff 91.4%,#d3d3ff 92.3%,#e4e4ff 93.3%,#e6e6ff 100%)"></i><i style="top:26px;background:linear-gradient(90deg,#c0c0ff 0%,#bbf 6.8%,#a1a1ff 10.7%,#77f 15.5%,#5656ff 21.4%,#5f5fff 23.3%,#6c6cff 24.3%,#fdfdff 30.1%,#fffdfd 31.1%,#fff9f9 33%,#ffc6c6 39.8%,#ffbdbd 45.7%,#ffbdbd 51.5%,#ffc9c9 58.3%,#fff9f9 63.2%,#fdfdff 64.1%,#fafaff 78.7%,#d1d1ff 85.5%,#d1d1ff 91.4%,#d3d3ff 92.3%,#e4e4ff 93.3%,#e6e6ff 100%)"></i><i style="top:28px;background:linear-gradient(90deg,#c0c0ff 0%,#bbf 6.8%,#a1a1ff 10.7%,#77f 15.5%,#5656ff 21.4%,#5f5fff 23.3%,#6c6cff 24.3%,#fdfdff 30.1%,#fffdfd 31.1%,#fff9f9 33%,#ffc6c6 39.8%,#ffbdbd 45.7%,#ffbdbd 51.5%,#ffc9c9 58.3%,#fff9f9 63.2%,#fdfdff 64.1%,#fafaff 78.7%,#d1d1ff 85.5%,#d1d1ff 91.4%,#d3d3ff 92.3%,#e4e4ff 93.3%,#e6e6ff 100%)"></i><i style="top:30px;background:linear-gradient(90deg,#c0c0ff 0%,#bbf 6.8%,#a1a1ff 10.7%,#77f 15.5%,#5656ff 21.4%,#5f5fff 23.3%,#6c6cff 24.3%,#fdfdff 30.1%,#fffdfd 31.1%,#fff9f9 33%,#ffc6c6 39.8%,#ffbdbd 45.7%,#ffbdbd 51.5%,#ffc9c9 58.3%,#fff9f9 63.2%,#fdfdff 64.1%,#fafaff 78.7%,#d1d1ff 85.5%,#d1d1ff 91.4%,#d3d3ff 92.3%,#e4e4ff 93.3%,#e6e6ff 100%)"></i><i style="top:32px;background:linear-gradient(90deg,#c0c0ff 0%,#bbf 6.8%,#a1a1ff 10.7%,#77f 15.5%,#5656ff 21.4%,#5f5fff 23.3%,#6c6cff 24.3%,#fdfdff 30.1%,#fffdfd 31.1%,#fff9f9 33%,#ffc6c6 39.8%,#ffbdbd 45.7%,#ffbdbd 51.5%,#ffc9c9 58.3%,#fff9f9 63.2%,#fdfdff 64.1%,#fafaff 78.7%,#d1d1ff 85.5%,#d1d1ff 91.4%,#d3d3ff 92.3%,#e4e4ff 93.3%,#e6e6ff 100%)"></i><i style="top:34px;background:linear-gradient(90deg,#c0c0ff 0%,#bbf 6.8%,#a1a1ff 10.7%,#77f 15.5%,#5656ff 21.4%,#5f5fff 23.3%,#6c6cff 24.3%,#fdfdff 30.1%,#fffdfd 31.1%,#fff9f9 33%,#ffc6c6 39.8%,#ffbdbd 45.7%,#ffbdbd 51.5%,#ffc9c9 58.3%,#fff9f9 63.2%,#fdfdff 64.1%,#fafaff 78.7%,#d1d1ff 85.5%,#d1d1ff 91.4%,#d3d3ff 92.3%,#e4e4ff 93.3%,#e6e6ff 100%)"></i><i style="top:36px;background:linear-gradient(90deg,#c0c0ff 0%,#bbf 6.8%,#a1a1ff 10.7%,#77f 15.5%,#5656ff 21.4%,#5f5fff 23.3%,#6c6cff 24.3%,#fdfdff 30.1%,#fffdfd 31.1%,#fff9f9 33%,#ffc6c6 39.8%,#ffbdbd 45.7%,#ffbdbd 51.5%,#ffc9c9 58.3%,#fff9f9 63.2%,#fdfdff 64.1%,#fafaff 78.7%,#d1d1ff 85.5%,#d1d1ff 91.4%,#d3d3ff 92.3%,#e4e4ff 93.3%,#e6e6ff 100%)"></i><i style="top:38px;background:linear-gradient(90deg,#c0c0ff 0%,#bbf 6.8%,#a1a1ff 10.7%,#77f 15.5%,#5656ff 21.4%,#5f5fff 23.3%,#6c6cff 24.3%,#fdfdff 30.1%,#fffdfd 31.1%,#fff9f9 33%,#ffc6c6 39.8%,#ffbdbd 45.7%,#ffbdbd 51.5%,#ffc9c9 58.3%,#fff9f9 63.2%,#fdfdff 64.1%,#fafaff 78.7%,#d1d1ff 85.5%,#d1d1ff 91.4%,#d3d3ff 92.3%,#e4e4ff 93.3%,#e6e6ff 100%)"></i><i style="top:40px;background:linear-gradient(90deg,#c0c0ff 0%,#bbf 6.8%,#a1a1ff 10.7%,#77f 15.5%,#5656ff 21.4%,#5f5fff 23.3%,#6c6cff 24.3%,#fdfdff 30.1%,#fffdfd 31.1%,#fff9f9 33%,#ffc6c6 39.8%,#ffbdbd 45.7%,#ffbdbd 51.5%,#ffc9c9 58.3%,#fff9f9 63.2%,#fdfdff 64.1%,#fafaff 78.7%,#d1d1ff 85.5%,#d1d1ff 91.4%,#d3d3ff 92.3%,#e4e4ff 93.3%,#e6e6ff 100%)"></i><i style="top:42px;background:linear-gradient(90deg,#c0c0ff 0%,#bbf 6.8%,#a1a1ff 10.7%,#77f 15.5%,#5656ff 21.4%,#5f5fff 23.3%,#6c6cff 24.3%,#fdfdff 30.1%,#fffdfd 31.1%,#fff9f9 33%,#ffc6c6 39.8%,#ffbdbd 45.7%,#ffbdbd 51.5%,#ffc9c9 58.3%,#fff9f9 63.2%,#fdfdff 64.1%,#fafaff 78.7%,#d1d1ff 85.5%,#d1d1ff 91.4%,#d3d3ff 92.3%,#e4e4ff 93.3%,#e6e6ff 100%)"></i><i style="top:44px;background:linear-gradient(90deg,#c0c0ff 0%,#bbf 6.8%,#a1a1ff 10.7%,#77f 15.5%,#5656ff 21.4%,#5f5fff 23.3%,#6c6cff 24.3%,#fdfdff 30.1%,#fffdfd 31.1%,#fff9f9 33%,#ffc6c6 39.8%,#ffbdbd 45.7%,#ffbdbd 51.5%,#ffc9c9 58.3%,#fff9f9 63.2%,#fdfdff 64.1%,#fafaff 78.7%,#d1d1ff 85.5%,#d1d1ff 91.4%,#d3d3ff 92.3%,#e4e4ff 93.3%,#e6e6ff 100%)"></i><i style="top:46px;background:linear-gradient(90deg,#c0c0ff 0%,#bbf 6.8%,#a1a1ff 10.7%,#77f 15.5%,#5656ff 21.4%,#5f5fff 23.3%,#6c6cff 24.3%,#fdfdff 30.1%,#fffdfd 31.1%,#fff9f9 33%,#ffc6c6 39.8%,#ffbdbd 45.7%,#ffbdbd 51.5%,#ffc9c9 58.3%,#fff9f9 63.2%,#fdfdff 64.1%,#fafaff 78.7%,#d1d1ff 85.5%,#d1d1ff 91.4%,#d3d3ff 92.3%,#e4e4ff 93.3%,#e6e6ff 100%)"></i><i style="top:48px;background:linear-gradient(90deg,#c0c0ff 0%,#bbf 6.8%,#a1a1ff 10.7%,#77f 15.5%,#5656ff 21.4%,#5f5fff 23.3%,#6c6cff 24.3%,#fdfdff 30.1%,#fffdfd 31.1%,#fff9f9 33%,#ffc6c6 39.8%,#ffbdbd 45.7%,#ffbdbd 51.5%,#ffc9c9 58.3%,#fff9f9 63.2%,#fdfdff 64.1%,#fafaff 78.7%,#d1d1ff 85.5%,#d1d1ff 91.4%,#d3d3ff 92.3%,#e4e4ff 93.3%,#e6e6ff 100%)"></i><i style="top:50px;background:linear-gradient(90deg,#c0c0ff 0%,#bbf 6.8%,#a1a1ff 10.7%,#77f 15.5%,#5656ff 21.4%,#5f5fff 23.3%,#6c6cff 24.3%,#fdfdff 30.1%,#fffdfd 31.1%,#fff9f9 33%,#ffc6c6 39.8%,#ffbdbd 45.7%,#ffbdbd 51.5%,#ffc9c9 58.3%,#fff9f9 63.2%,#fdfdff 64.1%,#fafaff 78.7%,#d1d1ff 85.5%,#d1d1ff 91.4%,#d3d3ff 92.3%,#e4e4ff 93.3%,#e6e6ff 100%)"></i><i style="top:52px;background:linear-gradient(90deg,#c0c0ff 0%,#bbf 6.8%,#a1a1ff 10.7%,#77f 15.5%,#5656ff 21.4%,#5f5fff 23.3%,#6c6cff 24.3%,#fdfdff 30.1%,#fffdfd 31.1%,#fff9f9 33%,#ffc6c6 39.8%,#ffbdbd 45.7%,#ffbdbd 51.5%,#ffc9c9 58.3%,#fff9f9 63.2%,#fdfdff 64.1%,#fafaff 78.7%,#d1d1ff 85.5%,#d1d1ff 91.4%,#d3d3ff 92.3%,#e4e4ff 93.3%,#e6e6ff 100%)"></i><i style="top:54px;background:linear-gradient(90deg,#c0c0ff 0%,#bbf 6.8%,#a1a1ff 10.7%,#77f 15.5%,#5656ff 21.4%,#5f5fff 23.3%,#6b6bff 24.3%,#fdfdff 30.1%,#fffdfd 31.1%,#fff9f9 33%,#ffc6c6 39.8%,#ffbdbd 45.7%,#ffbdbd 51.5%,#ffc9c9 58.3%,#fff9f9 63.2%,#fdfdff 64.1%,#fafaff 78.7%,#d1d1ff 85.5%,#d1d1ff 91.4%,#d3d3ff 92.3%,#e4e4ff 93.3%,#e6e6ff 100%)"></i><i style="top:56px;background:linear-gradient(90deg,#c0c0ff 0%,#bbf 6.8%,#77f 15.5%,#5656ff 21.4%,#5f5fff 23.3%,#6b6bff 24.3%,#fdfdff 30.1%,#fffdfd 31.1%,#fff8f8 33%,#ffc6c6 39.8%,#ffbdbd 45.7%,#ffbdbd 51.5%,#ffc9c9 58.3%,#fff9f9 63.2%,#fdfdff 64.1%,#fafaff 78.7%,#d1d1ff 85.5%,#d1d1ff 91.4%,#d3d3ff 92.3%,#e4e4ff 93.3%,#e6e6ff 100%)"></i><i style="top:58px;background:linear-gradient(90deg,#c0c0ff 0%,#bbf 6.8%,#77f 15.5%,#5656ff 21.4%,#5f5fff 23.3%,#6a6aff 24.3%,#fdfdff 30.1%,#fffdfd 31.1%,#fff8f8 33%,#ffc9c9 38.9%,#ffbdbd 45.7%,#ffbdbd 51.5%,#ffc9c9 58.3%,#fff9f9 63.2%,#fdfdff 64.1%,#fafaff 78.7%,#d1d1ff 85.5%,#d1d1ff 91.4%,#d3d3ff 92.3%,#e4e4ff 93.3%,#e6e6ff 100%)"></i><i style="top:60px;background:linear-gradient(90deg,#c0c0ff 0%,#bbf 6.8%,#77f 15.5%,#5656ff 21.4%,#6969ff 24.3%,#fdfdff 30.1%,#fffdfd 31.1%,#fff7f7 33%,#ffc5c5 39.8%,#ffbdbd 51.5%,#ffc9c9 58.3%,#fff9f9 63.2%,#fdfdff 64.1%,#fafaff 78.7%,#d1d1ff 85.5%,#d1d1ff 91.4%,#d3d3ff 92.3%,#e4e4ff 93.3%,#e6e6ff 100%)"></i><i style="top:62px;background:linear-gradient(90deg,#c0c0ff 0%,#bbf 6.8%,#7d7dff 14.6%,#5656ff 21.4%,#6868ff 24.3%,#b7b7ff 27.2%,#fdfdff 30.1%,#fffdfd 31.1%,#fff7f7 33%,#ffc8c8 38.9%,#ffbdbd 45.7%,#ffbdbd 51.5%,#ffc9c9 58.3%,#fff9f9 63.2%,#fdfdff 64.1%,#fafaff 78.7%,#d1d1ff 85.5%,#d1d1ff 91.4%,#d3d3ff 92.3%,#e4e4ff 93.3%,#e6e6ff 100%)"></i><i style="top:64px;background:linear-gradient(90deg,#c0c0ff 0%,#bbf 6.8%,#7d7dff 14.6%,#5656ff 21.4%,#6767ff 24.3%,#b7b7ff 27.2%,#fdfdff 30.1%,#fffdfd 31.1%,#fff6f6 33%,#ffc7c7 38.9%,#ffbdbd 45.7%,#ffbdbd 51.5%,#ffc9c9 58.3%,#fff9f9 63.2%,#fdfdff 64.1%,#fafaff 78.7%,#d1d1ff 85.5%,#d1d1ff 91.4%,#d3d3ff 92.3%,#e4e4ff 93.3%,#e6e6ff 100%)"></i><i style="top:66px;background:linear-gradient(90deg,#c0c0ff 0%,#babaff 6.8%,#a0a0ff 10.7%,#7d7dff 14.6%,#5656ff 21.4%,#66f 24.3%,#b7b7ff 27.2%,#fdfdff 30.1%,#fffdfd 31.1%,#fff6f6 33%,#ffc7c7 38.9%,#ffbdbd 45.7%,#ffbdbd 51.5%,#ffc9c9 58.3%,#fff9f9 63.2%,#fdfdff 64.1%,#fafaff 78.7%,#d1d1ff 85.5%,#d1d1ff 91.4%,#d3d3ff 92.3%,#e4e4ff 93.3%,#e6e6ff 100%)"></i><i style="top:68px;background:linear-gradient(90deg,#c0c0ff 0%,#babaff 6.8%,#a0a0ff 10.7%,#7d7dff 14.6%,#5656ff 21.4%,#6565ff 24.3%,#b7b7ff 27.2%,#fdfdff 30.1%,#fffdfd 31.1%,#fff5f5 33%,#ffc6c6 38.9%,#ffbdbd 45.7%,#ffbdbd 51.5%,#ffc9c9 58.3%,#fff9f9 63.2%,#fdfdff 64.1%,#fafaff 78.7%,#d1d1ff 85.5%,#d1d1ff 91.4%,#d3d3ff 92.3%,#e4e4ff 93.3%,#e6e6ff 100%)"></i><i style="top:70px;background:linear-gradient(90deg,#c0c0ff 0%,#babaff 6.8%,#a0a0ff 10.7%,#7676ff 15.5%,#5656ff 21.4%,#6464ff 24.3%,#b7b7ff 27.2%,#fdfdff 30.1%,#fffdfd 31.1%,#fffbfb 32.1%,#ffc5c5 38.9%,#ffbdbd 51.5%,#ffc9c9 58.3%,#fff9f9 63.2%,#fdfdff 64.1%,#fafaff 78.7%,#d1d1ff 85.5%,#d1d1ff 91.4%,#d3d3ff 92.3%,#e4e4ff 93.3%,#e6e6ff 100%)"></i><i style="top:72px;background:linear-gradient(90deg,#c0c0ff 0%,#babaff 6.8%,#a0a0ff 10.7%,#7676ff 15.5%,#5656ff 21.4%,#6262ff 24.3%,#b7b7ff 27.2%,#fdfdff 30.1%,#fffdfd 31.1%,#ffecec 34%,#ffc4c4 38.9%,#ffbdbd 51.5%,#ffc9c9 58.3%,#fff9f9 63.2%,#fdfdff 64.1%,#fafaff 78.7%,#d1d1ff 85.5%,#d1d1ff 91.4%,#d3d3ff 92.3%,#e4e4ff 93.3%,#e6e6ff 100%)"></i><i style="top:74px;background:linear-gradient(90deg,#c0c0ff 0%,#babaff 6.8%,#a0a0ff 10.7%,#7676ff 15.5%,#5656ff 21.4%,#6262ff 24.3%,#b7b7ff 27.2%,#fdfdff 30.1%,#fffdfd 31.1%,#fff3f3 33%,#ffc4c4 38.9%,#ffbdbd 51.5%,#ffc9c9 58.3%,#fff9f9 63.2%,#fdfdff 64.1%,#fafaff 78.7%,#d1d1ff 85.5%,#d1d1ff 91.4%,#d3d3ff 92.3%,#e4e4ff 93.3%,#e6e6ff 100%)"></i><i style="top:76px;background:linear-gradient(90deg,#c0c0ff 0%,#babaff 6.8%,#a0a0ff 10.7%,#7c7cff 14.6%,#5656ff 21.4%,#6262ff 24.3%,#b7b7ff 27.2%,#fdfdff 30.1%,#fffdfd 31.1%,#fffafa 32.1%,#ffc4c4 38.9%,#ffbdbd 51.5%,#ffc9c9 58.3%,#fff9f9 63.2%,#fdfdff 64.1%,#fafaff 78.7%,#d1d1ff 85.5%,#d1d1ff 91.4%,#d3d3ff 92.3%,#e4e4ff 93.3%,#e6e6ff 100%)"></i><i style="top:78px;background:linear-gradient(90deg,#c0c0ff 0%,#babaff 6.8%,#a0a0ff 10.7%,#7c7cff 14.6%,#6262ff 18.5%,#5656ff 21.4%,#6161ff 24.3%,#b7b7ff 27.2%,#fdfdff 30.1%,#fffcfc 31.1%,#fff9f9 32.1%,#ffc3c3 38.9%,#ffbdbd 51.5%,#ffc9c9 58.3%,#fff9f9 63.2%,#fdfdff 64.1%,#fafaff 78.7%,#d1d1ff 85.5%,#d1d1ff 91.4%,#d3d3ff 92.3%,#e4e4ff 93.3%,#e6e6ff 100%)"></i><i style="top:80px;background:linear-gradient(90deg,#c0c0ff 0%,#babaff 6.8%,#a7a7ff 9.7%,#7c7cff 14.6%,#6262ff 18.5%,#5656ff 21.4%,#6161ff 24.3%,#b7b7ff 27.2%,#fdfdff 30.1%,#fffcfc 31.1%,#ffc3c3 38.9%,#ffbdbd 51.5%,#ffc9c9 58.3%,#fff9f9 63.2%,#fdfdff 64.1%,#fafaff 78.7%,#d1d1ff 85.5%,#d1d1ff 91.4%,#d3d3ff 92.3%,#e4e4ff 93.3%,#e6e6ff 100%)"></i><i style="top:82px;background:linear-gradient(90deg,#c0c0ff 0%,#babaff 6.8%,#6868ff 17.5%,#5656ff 21.4%,#6161ff 24.3%,#b7b7ff 27.2%,#fdfdff 30.1%,#fffcfc 31.1%,#ffc3c3 38.9%,#ffbdbd 51.5%,#ffc9c9 58.3%,#fff9f9 63.2%,#fdfdff 64.1%,#fafaff 78.7%,#d1d1ff 85.5%,#d1d1ff 91.4%,#d3d3ff 92.3%,#e4e4ff 93.3%,#e6e6ff 100%)"></i><i style="top:84px;background:linear-gradient(90deg,#c0c0ff 0%,#babaff 6.8%,#7575ff 15.5%,#5656ff 21.4%,#6161ff 24.3%,#b7b7ff 27.2%,#fdfdff 30.1%,#fffcfc 31.1%,#ffc2c2 38.9%,#ffbdbd 51.5%,#ffc9c9 58.3%,#fff9f9 63.2%,#fdfdff 64.1%,#fafaff 78.7%,#d1d1ff 85.5%,#d1d1ff 91.4%,#d3d3ff 92.3%,#e4e4ff 93.3%,#e6e6ff 100%)"></i><i style="top:86px;background:linear-gradient(90deg,#c0c0ff 0%,#babaff 6.8%,#7575ff 15.5%,#5656ff 21.4%,#6161ff 24.3%,#7979ff 25.3%,#b7b7ff 27.2%,#fdfdff 30.1%,#fffcfc 31.1%,#ffc2c2 38.9%,#ffbdbd 51.5%,#ffc9c9 58.3%,#fff9f9 63.2%,#fdfdff 64.1%,#fafaff 78.7%,#d1d1ff 85.5%,#d1d1ff 91.4%,#d3d3ff 92.3%,#e4e4ff 93.3%,#e6e6ff 100%)"></i><i style="top:88px;background:linear-gradient(90deg,#c0c0ff 0%,#babaff 6.8%,#7575ff 15.5%,#5656ff 21.4%,#6161ff 24.3%,#7878ff 25.3%,#b7b7ff 27.2%,#fdfdff 30.1%,#fffcfc 31.1%,#ffc2c2 38.9%,#ffbdbd 51.5%,#ffc9c9 58.3%,#fff9f9 63.2%,#fdfdff 64.1%,#fafaff 78.7%,#d1d1ff 85.5%,#d1d1ff 91.4%,#d3d3ff 92.3%,#e4e4ff 93.3%,#e6e6ff 100%)"></i><i style="top:90px;background:linear-gradient(90deg,#c0c0ff 0%,#babaff 6.8%,#7575ff 15.5%,#5656ff 21.4%,#6161ff 24.3%,#77f 25.3%,#b7b7ff 27.2%,#fdfdff 30.1%,#fffcfc 31.1%,#ffc2c2 38.9%,#ffbdbd 51.5%,#ffc9c9 58.3%,#fff9f9 63.2%,#fdfdff 64.1%,#fafaff 78.7%,#d1d1ff 85.5%,#d1d1ff 91.4%,#d3d3ff 92.3%,#e4e4ff 93.3%,#e6e6ff 100%)"></i><i style="top:92px;background:linear-gradient(90deg,#c0c0ff 0%,#babaff 6.8%,#6e6eff 16.5%,#5656ff 21.4%,#6060ff 24.3%,#77f 25.3%,#b7b7ff 27.2%,#fdfdff 30.1%,#fffcfc 31.1%,#ffc1c1 38.9%,#ffbdbd 51.5%,#ffc9c9 58.3%,#fff9f9 63.2%,#fdfdff 64.1%,#fafaff 78.7%,#d1d1ff 85.5%,#d1d1ff 91.4%,#d3d3ff 92.3%,#e4e4ff 93.3%,#e6e6ff 100%)"></i><i style="top:94px;background:linear-gradient(90deg,#c0c0ff 0%,#babaff 6.8%,#6e6eff 16.5%,#5656ff 21.4%,#6060ff 24.3%,#77f 25.3%,#b7b7ff 27.2%,#fdfdff 30.1%,#fffbfb 31.1%,#ffc0c0 38.9%,#ffbdbd 51.5%,#ffc9c9 58.3%,#fff9f9 63.2%,#fdfdff 64.1%,#fafaff 78.7%,#d1d1ff 85.5%,#d1d1ff 91.4%,#d3d3ff 92.3%,#e4e4ff 93.3%,#e6e6ff 100%)"></i><i style="top:96px;background:linear-gradient(90deg,#c0c0ff 0%,#babaff 6.8%,#6e6eff 16.5%,#5656ff 21.4%,#6060ff 24.3%,#77f 25.3%,#b7b7ff 27.2%,#fdfdff 30.1%,#fffbfb 31.1%,#ffc2c2 37.9%,#ffbcbc 40.8%,#ffbdbd 51.5%,#ffc6c6 57.3%,#ffc9c9 58.3%,#fff9f9 63.2%,#fdfdff 64.1%,#fafaff 78.7%,#d1d1ff 85.5%,#d1d1ff 91.4%,#d3d3ff 92.3%,#e4e4ff 93.3%,#e6e6ff 100%)"></i><i style="top:98px;background:linear-gradient(90deg,#bfbfff 0%,#bbf 6.8%,#7575ff 15.5%,#5656ff 21.4%,#6060ff 24.3%,#7575ff 25.3%,#b6b6ff 27.2%,#fdfdff 30.1%,#fffbfb 31.1%,#ffe5e5 34%,#ffbdbd 37.9%,#ffb6b6 40.8%,#ffc0c0 45.7%,#ffbdbd 51.5%,#ffc9c9 58.3%,#fefeff 64.1%,#fafaff 78.7%,#d1d1ff 85.5%,#d2d2ff 92.3%,#e3e3ff 93.3%,#e6e6ff 94.3%,#e6e6ff 100%)"></i><i style="top:100px;background:linear-gradient(90deg,#bfbfff 0%,#bcbcff 6.8%,#a1a1ff 10.7%,#7676ff 15.5%,#5757ff 21.4%,#6060ff 24.3%,#7171ff 25.3%,#b4b4ff 27.2%,#fefeff 30.1%,#ffe5e5 34%,#faa 38.9%,#ffa8a8 39.8%,#ffaeae 41.8%,#ffc5c5 44.7%,#ffcdcd 46.6%,#ffc0c0 51.5%,#ffcbcb 58.3%,#fefeff 64.1%,#f9f9ff 66.1%,#f9f9ff 78.7%,#d3d3ff 84.5%,#d2d2ff 85.5%,#d2d2ff 92.3%,#e1e1ff 93.3%,#e6e6ff 94.3%,#e6e6ff 100%)"></i><i style="top:102px;background:linear-gradient(90deg,#bebeff 0%,#bcbcff 6.8%,#a3a3ff 10.7%,#6b6bff 17.5%,#5858ff 22.4%,#5f5fff 24.3%,#6a6aff 25.3%,#b0b0ff 27.2%,#fffdfd 30.1%,#ffd9d9 35%,#ff9494 38.9%,#ff8f8f 39.8%,#ff9d9d 41.8%,#ffdcdc 45.7%,#ffe1e1 46.6%,#ffc8c8 50.5%,#ffc7c7 54.4%,#ffcece 58.3%,#fff 64.1%,#f7f7ff 66.1%,#f7f7ff 78.7%,#d3d3ff 84.5%,#d3d3ff 92.3%,#e6e6ff 94.3%,#e6e6ff 100%)"></i><i style="top:104px;background:linear-gradient(90deg,#bcbcff 0%,#b9b9ff 7.8%,#7474ff 16.5%,#6161ff 19.4%,#5757ff 22.4%,#6363ff 25.3%,#eaeaff 29.2%,#fff5f5 30.1%,#ffe4e4 31.1%,#ffe4e4 33%,#ffd5d5 35%,#ffc3c3 36%,#ff7979 38.9%,#ff6f6f 39.8%,#ff7474 40.8%,#ff8585 41.8%,#ffcfcf 44.7%,#ffe2e2 45.7%,#ffeaea 46.6%,#ffcece 50.5%,#ffc9c9 52.5%,#ffd2d2 58.3%,#fffefe 64.1%,#f5f5ff 67.1%,#f5f5ff 78.7%,#d4d4ff 84.5%,#d4d4ff 92.3%,#e6e6ff 94.3%,#e6e6ff 100%)"></i><i style="top:106px;background:linear-gradient(90deg,#bbf 0%,#babaff 7.8%,#a1a1ff 11.7%,#7070ff 17.5%,#5757ff 22.4%,#6262ff 25.3%,#7c7cff 26.2%,#f0f0ff 29.2%,#ffe9e9 30.1%,#ffd2d2 31.1%,#ffdbdb 33%,#ffdada 34%,#ffd0d0 35%,#ffbcbc 36%,#ff6060 38.9%,#ff5151 39.8%,#ff5656 40.8%,#ff6b6b 41.8%,#ffc3c3 44.7%,#ffd6d6 45.7%,#ffe0e0 46.6%,#ffe1e1 47.6%,#ffd0d0 51.5%,#ffd4d4 56.4%,#ffdbdb 59.3%,#fffcfc 64.1%,#f3f3ff 67.1%,#f2f2ff 79.7%,#d5d5ff 83.6%,#d6d6ff 93.3%,#e7e7ff 95.2%,#e7e7ff 100%)"></i><i style="top:108px;background:linear-gradient(90deg,#b9b9ff 0%,#b7b7ff 8.7%,#6c6cff 18.5%,#5959ff 23.3%,#6161ff 25.3%,#7373ff 26.2%,#f4f4ff 29.2%,#ffe0e0 30.1%,#ffc2c2 31.1%,#ffd7d7 34%,#ffcfcf 35%,#ffbaba 36%,#ff5454 38.9%,#ff4242 39.8%,#ff4242 40.8%,#ff5757 41.8%,#ffb4b4 44.7%,#ffc8c8 45.7%,#ffd8d8 47.6%,#ffd5d5 53.4%,#ffdfdf 59.3%,#fefeff 65.1%,#f1f1ff 68%,#f1f1ff 79.7%,#d7d7ff 83.6%,#d7d7ff 93.3%,#e7e7ff 95.2%,#e7e7ff 100%)"></i><i style="top:110px;background:linear-gradient(90deg,#b8b8ff 0%,#b7b7ff 8.7%,#9f9fff 12.6%,#6868ff 19.4%,#5858ff 23.3%,#6a6aff 26.2%,#9292ff 27.2%,#f0f0ff 29.2%,#ffe2e2 30.1%,#ffc0c0 31.1%,#ffc4c4 32.1%,#ffd9d9 34%,#ffd2d2 35%,#ffbfbf 36%,#ff5b5b 38.9%,#ff4545 39.8%,#ff4040 40.8%,#ff4e4e 41.8%,#ffa8a8 44.7%,#ffbfbf 45.7%,#ffcece 46.6%,#ffd9d9 48.6%,#ffe3e3 59.3%,#fff 65.1%,#efefff 69%,#efefff 79.7%,#d9d9ff 82.6%,#d8d8ff 83.6%,#d8d8ff 93.3%,#e6e6ff 95.2%,#e8e8ff 100%)"></i><i style="top:112px;background:linear-gradient(90deg,#b7b7ff 0%,#b5b5ff 9.7%,#77f 17.5%,#5858ff 23.3%,#66f 26.2%,#88f 27.2%,#e3e3ff 29.2%,#fff1f1 30.1%,#ffcfcf 31.1%,#fcc 32.1%,#fdd 34%,#ffd9d9 35%,#ffcaca 36%,#ffb2b2 36.9%,#ff5858 39.8%,#ff4b4b 40.8%,#ff4f4f 41.8%,#ff6363 42.8%,#ff9e9e 44.7%,#ffcaca 46.6%,#ffd5d5 47.6%,#ffdede 49.6%,#ffe7e7 59.3%,#fffefe 65.1%,#ededff 69%,#ededff 79.7%,#d9d9ff 82.6%,#d9d9ff 93.3%,#e8e8ff 96.2%,#e8e8ff 100%)"></i><i style="top:114px;background:linear-gradient(90deg,#b6b6ff 0%,#b5b5ff 9.7%,#9c9cff 13.6%,#7272ff 18.5%,#5959ff 23.3%,#6464ff 26.2%,#8080ff 27.2%,#f9f9ff 30.1%,#ffe2e2 31.1%,#ffd8d8 32.1%,#ffdfdf 35%,#ffd5d5 36%,#ffacac 37.9%,#ff7474 39.8%,#ff6161 40.8%,#ff5b5b 41.8%,#f66 42.8%,#ffc2c2 46.6%,#ffd9d9 48.6%,#ffe1e1 50.5%,#ffe7e7 57.3%,#fffefe 65.1%,#ededff 69%,#ececff 79.7%,#dadaff 82.6%,#dadaff 94.3%,#e8e8ff 96.2%,#e8e8ff 100%)"></i><i style="top:116px;background:linear-gradient(90deg,#b6b6ff 0%,#b5b5ff 9.7%,#9d9dff 13.6%,#66f 20.4%,#5a5aff 24.3%,#6363ff 26.2%,#7b7bff 27.2%,#e9e9ff 30.1%,#fff2f2 31.1%,#ffe0e0 32.1%,#ffdcdc 33%,#ffe1e1 35%,#ffd4d4 36.9%,#ffc3c3 37.9%,#ff7e7e 40.8%,#ff7272 41.8%,#ff7272 42.8%,#ff7c7c 43.7%,#ffc5c5 47.6%,#ffdada 49.6%,#ffe2e2 51.5%,#fee 60.3%,#fffefe 65.1%,#ececff 70%,#ececff 79.7%,#dadaff 82.6%,#dadaff 94.3%,#e9e9ff 96.2%,#e9e9ff 100%)"></i><i style="top:118px;background:linear-gradient(90deg,#b6b6ff 0%,#b5b5ff 9.7%,#9d9dff 13.6%,#66f 20.4%,#5a5aff 24.3%,#6363ff 26.2%,#7979ff 27.2%,#e0e0ff 30.1%,#fffafa 31.1%,#ffe5e5 32.1%,#ffdcdc 33%,#ffdfdf 36.9%,#ffc5c5 38.9%,#ff8d8d 41.8%,#ff8181 43.7%,#ff9191 45.7%,#ffd1d1 49.6%,#ffe0e0 51.5%,#fee 60.3%,#fffefe 65.1%,#ececff 70%,#ececff 79.7%,#dadaff 82.6%,#dadaff 94.3%,#e9e9ff 96.2%,#e9e9ff 100%)"></i><i style="top:120px;background:linear-gradient(90deg,#b6b6ff 0%,#b5b5ff 9.7%,#9d9dff 13.6%,#66f 20.4%,#5a5aff 24.3%,#6262ff 26.2%,#7979ff 27.2%,#fff 31.1%,#ffe8e8 32.1%,#fdd 33%,#ffdada 34%,#ffe5e5 36.9%,#ffe0e0 37.9%,#ffc9c9 39.8%,#ff9595 42.8%,#ff8181 44.7%,#ff8383 45.7%,#ff8e8e 46.6%,#ffc6c6 49.6%,#ffdbdb 51.5%,#fffefe 65.1%,#ececff 70%,#ececff 79.7%,#dadaff 82.6%,#dadaff 94.3%,#e9e9ff 96.2%,#e9e9ff 100%)"></i><i style="top:122px;background:linear-gradient(90deg,#b6b6ff 0%,#b5b5ff 9.7%,#9d9dff 13.6%,#66f 20.4%,#5a5aff 24.3%,#6262ff 26.2%,#7979ff 27.2%,#fdfdff 31.1%,#ffe0e0 33%,#ffdada 34%,#ffe7e7 36.9%,#ffe1e1 38.9%,#ffcbcb 40.8%,#ff8484 44.7%,#ff7f7f 45.7%,#ff8484 46.6%,#ffc9c9 50.5%,#ffdcdc 52.5%,#fffefe 65.1%,#ececff 70%,#ececff 79.7%,#dadaff 82.6%,#dadaff 94.3%,#e9e9ff 96.2%,#e9e9ff 100%)"></i><i style="top:124px;background:linear-gradient(90deg,#b6b6ff 0%,#b5b5ff 9.7%,#9d9dff 13.6%,#7979ff 17.5%,#66f 20.4%,#5a5aff 24.3%,#6363ff 26.2%,#7979ff 27.2%,#fbfbff 31.1%,#ffd9d9 34%,#ffe9e9 37.9%,#ffe1e1 39.8%,#ffc9c9 41.8%,#ff9292 44.7%,#ff8686 45.7%,#ff8484 46.6%,#f99 48.6%,#ffcbcb 51.5%,#fdd 53.4%,#fffefe 65.1%,#ececff 70%,#ececff 79.7%,#dadaff 82.6%,#dadaff 94.3%,#e9e9ff 96.2%,#e9e9ff 100%)"></i><i style="top:126px;background:linear-gradient(90deg,#b6b6ff 0%,#b5b5ff 9.7%,#9d9dff 13.6%,#6c6cff 19.4%,#5959ff 23.3%,#5a5aff 24.3%,#6363ff 26.2%,#7a7aff 27.2%,#fcfcff 31.1%,#ffd9d9 34%,#ffd8d8 35%,#ffeaea 37.9%,#ffdfdf 40.8%,#ffc7c7 42.8%,#ff9595 45.7%,#ff8989 46.6%,#ff8686 47.6%,#ff9a9a 49.6%,#ffcece 52.5%,#ffdfdf 54.4%,#fffefe 65.1%,#ececff 70%,#ececff 79.7%,#dadaff 82.6%,#dadaff 94.3%,#e9e9ff 96.2%,#e9e9ff 100%)"></i><i style="top:128px;background:linear-gradient(90deg,#b6b6ff 0%,#b5b5ff 9.7%,#9c9cff 13.6%,#7979ff 17.5%,#5959ff 23.3%,#6363ff 26.2%,#7a7aff 27.2%,#fdfdff 31.1%,#ffdbdb 34%,#ffdada 35%,#ffebeb 37.9%,#fdd 41.8%,#ffc7c7 43.7%,#ff9292 46.6%,#ff8787 47.6%,#ff8585 48.6%,#ff8e8e 49.6%,#ffc5c5 52.5%,#ffdcdc 54.4%,#fffefe 65.1%,#ececff 70%,#ececff 79.7%,#dadaff 82.6%,#dadaff 94.3%,#e9e9ff 96.2%,#e9e9ff 100%)"></i><i style="top:130px;background:linear-gradient(90deg,#b6b6ff 0%,#b5b5ff 9.7%,#9c9cff 13.6%,#7979ff 17.5%,#5959ff 23.3%,#6363ff 26.2%,#7b7bff 27.2%,#fff 31.1%,#ffe4e4 33%,#fdd 34%,#ffdcdc 35%,#ffecec 37.9%,#ffdcdc 42.8%,#ffc4c4 44.7%,#ff8e8e 47.6%,#ff8686 48.6%,#ff8989 49.6%,#fcc 53.4%,#ffe0e0 55.4%,#fffefe 65.1%,#ececff 70%,#ececff 79.7%,#dadaff 82.6%,#dadaff 94.3%,#e9e9ff 96.2%,#e9e9ff 100%)"></i><i style="top:132px;background:linear-gradient(90deg,#b6b6ff 0%,#b5b5ff 9.7%,#9c9cff 13.6%,#7272ff 18.5%,#5959ff 23.3%,#6363ff 26.2%,#9b9bff 28.2%,#fffcfc 31.1%,#ffdfdf 34%,#ffecec 37.9%,#ffe1e1 42.8%,#ffcfcf 44.7%,#ff8d8d 48.6%,#ff8a8a 49.6%,#ff9191 50.5%,#ffc5c5 53.4%,#ffdede 55.4%,#fffefe 65.1%,#ececff 70%,#ececff 79.7%,#dadaff 82.6%,#dadaff 94.3%,#e9e9ff 96.2%,#e9e9ff 100%)"></i><i style="top:134px;background:linear-gradient(90deg,#b6b6ff 0%,#b5b5ff 9.7%,#9c9cff 13.6%,#7272ff 18.5%,#5959ff 23.3%,#6363ff 26.2%,#bbf 29.2%,#fffbfb 31.1%,#ffe4e4 34%,#fee 37.9%,#ffdfdf 43.7%,#ffcbcb 45.7%,#ff9797 48.6%,#ff8e8e 49.6%,#ff8f8f 50.5%,#ff9a9a 51.5%,#ffcece 54.4%,#ffe2e2 56.4%,#fffefe 65.1%,#ececff 70%,#ececff 79.7%,#dadaff 82.6%,#dadaff 94.3%,#e9e9ff 96.2%,#e9e9ff 100%)"></i><i style="top:136px;background:linear-gradient(90deg,#b6b6ff 0%,#b5b5ff 9.7%,#9c9cff 13.6%,#7272ff 18.5%,#5858ff 23.3%,#6363ff 26.2%,#bbf 29.2%,#fffcfc 31.1%,#ffebeb 34%,#fff1f1 38.9%,#ffe3e3 43.7%,#ffd4d4 45.7%,#ff9494 49.6%,#ff9090 50.5%,#ff9696 51.5%,#ffc9c9 54.4%,#ffe0e0 56.4%,#fffefe 65.1%,#ececff 70%,#ececff 79.7%,#dadaff 82.6%,#dadaff 94.3%,#e9e9ff 96.2%,#e9e9ff 100%)"></i><i style="top:138px;background:linear-gradient(90deg,#b6b6ff 0%,#b5b5ff 9.7%,#9c9cff 13.6%,#7878ff 17.5%,#5858ff 23.3%,#6363ff 26.2%,#bbf 29.2%,#e1e1ff 30.1%,#fffcfc 31.1%,#ffefef 35%,#fff9f9 38.9%,#ffe2e2 44.7%,#ffcfcf 46.6%,#ff9e9e 49.6%,#ff9595 50.5%,#ff9797 51.5%,#ffa2a2 52.5%,#ffdede 56.4%,#fffefe 65.1%,#ececff 70%,#ececff 79.7%,#dadaff 82.6%,#dadaff 94.3%,#e9e9ff 96.2%,#e9e9ff 100%)"></i><i style="top:140px;background:linear-gradient(90deg,#b6b6ff 0%,#b5b5ff 9.7%,#9c9cff 13.6%,#7878ff 17.5%,#5858ff 23.3%,#6464ff 26.2%,#bcbcff 29.2%,#e3e3ff 30.1%,#fffcfc 31.1%,#ffefef 34%,#fdfdff 37.9%,#fffcfc 40.8%,#ffdfdf 45.7%,#ffd6d6 46.6%,#ffa7a7 49.6%,#f99 51.5%,#ffa0a0 52.5%,#ffcfcf 55.4%,#ffe3e3 57.3%,#fffefe 65.1%,#ececff 70%,#ececff 79.7%,#dadaff 82.6%,#dadaff 94.3%,#e9e9ff 96.2%,#e9e9ff 100%)"></i><i style="top:142px;background:linear-gradient(90deg,#b6b6ff 0%,#b5b5ff 9.7%,#9c9cff 13.6%,#7171ff 18.5%,#5858ff 23.3%,#6464ff 26.2%,#bcbcff 29.2%,#e5e5ff 30.1%,#fff9f9 31.1%,#ffe8e8 34%,#ffeaea 35%,#fff 36.9%,#f3f3ff 38.9%,#fbfbff 40.8%,#fffafa 41.8%,#ffdada 46.6%,#ffa2a2 50.5%,#ff9b9b 51.5%,#ff9f9f 52.5%,#fcc 55.4%,#ffe1e1 57.3%,#fffefe 65.1%,#ececff 70%,#ececff 79.7%,#dadaff 82.6%,#dadaff 94.3%,#e9e9ff 96.2%,#e9e9ff 100%)"></i><i style="top:144px;background:linear-gradient(90deg,#b6b6ff 0%,#b5b5ff 9.7%,#9c9cff 13.6%,#7171ff 18.5%,#5858ff 23.3%,#6464ff 26.2%,#bcbcff 29.2%,#e8e8ff 30.1%,#fff6f6 31.1%,#ffdede 34%,#ffe2e2 35%,#fffefe 36.9%,#f1f1ff 38.9%,#fffbfb 41.8%,#fdd 46.6%,#ff9e9e 51.5%,#faa 53.4%,#ffcaca 55.4%,#ffe0e0 57.3%,#fffefe 65.1%,#ececff 70%,#ececff 79.7%,#dadaff 82.6%,#dadaff 94.3%,#e9e9ff 96.2%,#e9e9ff 100%)"></i><i style="top:146px;background:linear-gradient(90deg,#b6b6ff 0%,#b5b5ff 9.7%,#9c9cff 13.6%,#6a6aff 19.4%,#5858ff 23.3%,#6464ff 26.2%,#bdbdff 29.2%,#eaeaff 30.1%,#fff5f5 31.1%,#ffd7d7 34%,#ffdcdc 35%,#fff8f8 36.9%,#fbfbff 37.9%,#f8f8ff 39.8%,#fff 40.8%,#ffdede 46.6%,#faa 50.5%,#ffa1a1 51.5%,#ffa1a1 52.5%,#ffdede 57.3%,#fffefe 65.1%,#ececff 70%,#ececff 79.7%,#dadaff 82.6%,#dadaff 94.3%,#e9e9ff 96.2%,#e9e9ff 100%)"></i><i style="top:148px;background:linear-gradient(90deg,#b6b6ff 0%,#b5b5ff 9.7%,#9c9cff 13.6%,#6a6aff 19.4%,#5858ff 23.3%,#6565ff 26.2%,#bdbdff 29.2%,#ebebff 30.1%,#fff5f5 31.1%,#ffd8d8 34%,#ffdbdb 35%,#fffafa 37.9%,#fffcfc 39.8%,#fdd 46.6%,#ffd5d5 47.6%,#ffabab 50.5%,#ffa2a2 51.5%,#ffa2a2 52.5%,#ffdcdc 57.3%,#fffdfd 65.1%,#ececff 70%,#ececff 79.7%,#dadaff 82.6%,#dadaff 94.3%,#e9e9ff 96.2%,#e9e9ff 100%)"></i><i style="top:150px;background:linear-gradient(90deg,#b6b6ff 0%,#b5b5ff 9.7%,#a3a3ff 12.6%,#77f 17.5%,#5858ff 23.3%,#66f 26.2%,#bdbdff 29.2%,#ececff 30.1%,#fff7f7 31.1%,#ffe0e0 34%,#fff4f4 38.9%,#ffe9e9 43.7%,#ffdbdb 46.6%,#ffa8a8 50.5%,#ffa0a0 52.5%,#ffa7a7 53.4%,#ffd8d8 57.3%,#fffdfd 65.1%,#ececff 70%,#ececff 79.7%,#dadaff 82.6%,#dadaff 94.3%,#e9e9ff 96.2%,#e9e9ff 100%)"></i><i style="top:152px;background:linear-gradient(90deg,#b6b6ff 0%,#b5b5ff 9.7%,#a3a3ff 12.6%,#77f 17.5%,#5858ff 23.3%,#66f 26.2%,#bdbdff 29.2%,#ececff 30.1%,#fffafa 31.1%,#ffe7e7 35%,#fff2f2 39.8%,#ffebeb 43.7%,#ffd6d6 46.6%,#ffa3a3 50.5%,#ff9c9c 52.5%,#ffd3d3 57.3%,#fffdfd 65.1%,#ececff 70%,#ececff 79.7%,#dadaff 82.6%,#dadaff 94.3%,#e9e9ff 96.2%,#e9e9ff 100%)"></i><i style="top:154px;background:linear-gradient(90deg,#b6b6ff 0%,#b5b5ff 9.7%,#a3a3ff 12.6%,#77f 17.5%,#5858ff 23.3%,#6767ff 26.2%,#bdbdff 29.2%,#ededff 30.1%,#fffbfb 31.1%,#ffecec 35%,#fff6f6 42.8%,#ffe9e9 44.7%,#ffa8a8 49.6%,#ff9898 51.5%,#ffa0a0 53.4%,#ffd6d6 58.3%,#fffdfd 65.1%,#ececff 70%,#ececff 79.7%,#dadaff 82.6%,#dadaff 94.3%,#e9e9ff 96.2%,#e9e9ff 100%)"></i><i style="top:156px;background:linear-gradient(90deg,#b6b6ff 0%,#b5b5ff 9.7%,#a3a3ff 12.6%,#77f 17.5%,#5858ff 23.3%,#6767ff 26.2%,#bdbdff 29.2%,#eef 30.1%,#fff9f9 31.1%,#fff0f0 33%,#ffeded 36%,#fffcfc 40.8%,#fffcfc 42.8%,#ffeaea 44.7%,#ffa5a5 49.6%,#ff9898 51.5%,#ff9f9f 53.4%,#ffdada 59.3%,#fffcfc 65.1%,#fdfdff 66.1%,#ececff 70%,#ececff 79.7%,#dadaff 82.6%,#dadaff 94.3%,#e9e9ff 96.2%,#e9e9ff 100%)"></i><i style="top:158px;background:linear-gradient(90deg,#b6b6ff 0%,#b5b5ff 9.7%,#9b9bff 13.6%,#7070ff 18.5%,#5858ff 23.3%,#6767ff 26.2%,#bfbfff 29.2%,#f2f2ff 30.1%,#fff3f3 31.1%,#ffeaea 32.1%,#ffe6e6 34%,#fffafa 40.8%,#fff9f9 42.8%,#ffe7e7 44.7%,#ffa4a4 49.6%,#ff9a9a 51.5%,#ffa1a1 53.4%,#ffe7e7 61.2%,#fffcfc 65.1%,#fdfdff 66.1%,#ececff 70%,#ececff 79.7%,#dadaff 82.6%,#dadaff 94.3%,#e9e9ff 96.2%,#e9e9ff 100%)"></i><i style="top:160px;background:linear-gradient(90deg,#b6b6ff 0%,#b5b5ff 9.7%,#6969ff 19.4%,#5858ff 23.3%,#6969ff 26.2%,#c3c3ff 29.2%,#f7f7ff 30.1%,#ffebeb 31.1%,#ffd7d7 33%,#ffefef 37.9%,#ffefef 42.8%,#ffdede 44.7%,#ffa1a1 49.6%,#ff9a9a 51.5%,#ffa3a3 53.4%,#ffe6e6 61.2%,#fffcfc 65.1%,#fdfdff 66.1%,#ececff 70%,#ececff 79.7%,#dadaff 82.6%,#dadaff 94.3%,#e9e9ff 96.2%,#e9e9ff 100%)"></i><i style="top:162px;background:linear-gradient(90deg,#b6b6ff 0%,#b5b5ff 9.7%,#7575ff 17.5%,#6262ff 20.4%,#5858ff 23.3%,#6161ff 25.3%,#6d6dff 26.2%,#a5a5ff 28.2%,#c9c9ff 29.2%,#fafaff 30.1%,#ffe7e7 31.1%,#ffcbcb 33%,#ffcdcd 34%,#ffeaea 36.9%,#fee 37.9%,#ffe7e7 42.8%,#ffd7d7 44.7%,#ff9d9d 49.6%,#f99 51.5%,#ffa4a4 53.4%,#ffe6e6 61.2%,#fffdfd 65.1%,#ececff 70%,#ececff 79.7%,#dadaff 82.6%,#dadaff 94.3%,#e9e9ff 96.2%,#e9e9ff 100%)"></i><i style="top:164px;background:linear-gradient(90deg,#b6b6ff 0%,#b5b5ff 9.7%,#66f 19.4%,#5959ff 23.3%,#6161ff 25.3%,#7171ff 26.2%,#a9a9ff 28.2%,#cdcdff 29.2%,#fafaff 30.1%,#ffebeb 31.1%,#ffc9c9 33%,#ffc8c8 34%,#fee 37.9%,#ffe9e9 41.8%,#ffd3d3 44.7%,#ffa3a3 48.6%,#f99 50.5%,#ffa0a0 52.5%,#ffe6e6 61.2%,#fffdfd 65.1%,#ededff 69%,#ececff 79.7%,#dadaff 82.6%,#dadaff 94.3%,#e9e9ff 96.2%,#e9e9ff 100%)"></i><i style="top:166px;background:linear-gradient(90deg,#b6b6ff 0%,#b4b4ff 9.7%,#7979ff 16.5%,#5757ff 22.4%,#6161ff 25.3%,#adadff 28.2%,#f7f7ff 30.1%,#fff4f4 31.1%,#ffcdcd 33%,#ffc7c7 34%,#ffc9c9 35%,#fff0f0 37.9%,#fff3f3 39.8%,#ffebeb 41.8%,#ffdada 43.7%,#ffa0a0 48.6%,#ff9b9b 50.5%,#ffa4a4 52.5%,#fee 62.2%,#fffefe 65.1%,#ededff 69%,#ececff 79.7%,#dadaff 82.6%,#dadaff 94.3%,#e9e9ff 96.2%,#e9e9ff 100%)"></i><i style="top:168px;background:linear-gradient(90deg,#b6b6ff 0%,#b2b2ff 9.7%,#9d9dff 12.6%,#77f 16.5%,#55f 22.4%,#6262ff 25.3%,#b1b1ff 28.2%,#f2f2ff 30.1%,#fffefe 31.1%,#ffd5d5 33%,#ffc9c9 34%,#ffc9c9 35%,#fff5f5 37.9%,#fffbfb 38.9%,#fff6f6 40.8%,#ffe4e4 42.8%,#ffa3a3 47.6%,#f99 49.6%,#ffa1a1 51.5%,#ffc2c2 55.4%,#fff 65.1%,#ededff 69%,#ececff 79.7%,#dadaff 82.6%,#dadaff 94.3%,#e9e9ff 96.2%,#e9e9ff 100%)"></i><i style="top:170px;background:linear-gradient(90deg,#b5b5ff 0%,#b1b1ff 9.7%,#7575ff 16.5%,#6060ff 19.4%,#55f 22.4%,#6868ff 25.3%,#ececff 30.1%,#f7f7ff 31.1%,#fff4f4 32.1%,#ffdede 33%,#ffd1d1 34%,#ffd1d1 35%,#fffdfd 37.9%,#fafaff 38.9%,#fffcfc 40.8%,#ffa7a7 46.6%,#ff9d9d 47.6%,#ff9898 49.6%,#ffc7c7 55.4%,#fefeff 65.1%,#ededff 69%,#ececff 79.7%,#dadaff 82.6%,#dadaff 94.3%,#e9e9ff 96.2%,#e9e9ff 100%)"></i><i style="top:172px;background:linear-gradient(90deg,#b5b5ff 0%,#b5b5ff 8.7%,#6565ff 18.5%,#55f 22.4%,#5e5eff 24.3%,#6e6eff 25.3%,#e6e6ff 30.1%,#fffcfc 32.1%,#ffe7e7 33%,#fdd 34%,#ffdfdf 35%,#fff6f6 36.9%,#f9f9ff 37.9%,#f3f3ff 38.9%,#fff 40.8%,#ffa9a9 45.7%,#ff9d9d 46.6%,#ff9797 48.6%,#ffa2a2 50.5%,#ffc7c7 54.4%,#fffdfd 64.1%,#ededff 69%,#ececff 79.7%,#dadaff 82.6%,#dadaff 94.3%,#e9e9ff 96.2%,#e9e9ff 100%)"></i><i style="top:174px;background:linear-gradient(90deg,#b5b5ff 0%,#b5b5ff 8.7%,#9f9fff 11.7%,#7878ff 15.5%,#5454ff 21.4%,#5e5eff 24.3%,#cfcfff 29.2%,#fafaff 32.1%,#ffebeb 34%,#fff 36.9%,#f1f1ff 38.9%,#fffbfb 40.8%,#ffa5a5 44.7%,#ff9696 45.7%,#ff8e8e 47.6%,#ff9c9c 49.6%,#ffcece 54.4%,#ffdcdc 58.3%,#fffefe 64.1%,#ededff 69%,#ececff 79.7%,#dadaff 82.6%,#dadaff 94.3%,#e9e9ff 96.2%,#e9e9ff 100%)"></i><i style="top:176px;background:linear-gradient(90deg,#b5b5ff 0%,#b3b3ff 8.7%,#9d9dff 11.7%,#7676ff 15.5%,#5353ff 21.4%,#6060ff 24.3%,#a9a9ff 27.2%,#cdcdff 29.2%,#fdfdff 33%,#f6f6ff 37.9%,#fffdfd 39.8%,#ffebeb 40.8%,#ff9f9f 43.7%,#ff8c8c 44.7%,#ff8080 45.7%,#ff7d7d 46.6%,#ff8e8e 48.6%,#ffb9b9 51.5%,#fcc 53.4%,#ffdfdf 58.3%,#fff 64.1%,#ededff 69%,#ececff 79.7%,#dadaff 82.6%,#dadaff 94.3%,#e9e9ff 96.2%,#e9e9ff 100%)"></i><i style="top:178px;background:linear-gradient(90deg,#b5b5ff 0%,#b2b2ff 8.7%,#66f 17.5%,#5252ff 21.4%,#6464ff 24.3%,#aaf 27.2%,#d6d6ff 30.1%,#ededff 33%,#ededff 35%,#fff 37.9%,#ffe5e5 39.8%,#ff7d7d 43.7%,#ff6e6e 44.7%,#ff6969 45.7%,#ff6f6f 46.6%,#ffb1b1 50.5%,#ffd1d1 53.4%,#ffe1e1 58.3%,#fefeff 64.1%,#ededff 69%,#ececff 79.7%,#dadaff 82.6%,#dadaff 94.3%,#e9e9ff 96.2%,#e9e9ff 100%)"></i><i style="top:180px;background:linear-gradient(90deg,#b5b5ff 0%,#b1b1ff 8.7%,#6c6cff 16.5%,#5252ff 21.4%,#5b5bff 23.3%,#6767ff 24.3%,#ababff 27.2%,#c9c9ff 29.2%,#dfdfff 33%,#e2e2ff 35%,#fcfcff 36.9%,#ffdbdb 38.9%,#ff6363 42.8%,#ff5050 43.7%,#ff4b4b 44.7%,#ff5252 45.7%,#ffa8a8 49.6%,#ffc6c6 51.5%,#ffd5d5 53.4%,#ffe2e2 58.3%,#fffcfc 63.2%,#fefeff 64.1%,#ededff 69%,#ececff 79.7%,#dadaff 82.6%,#dadaff 94.3%,#e9e9ff 96.2%,#e9e9ff 100%)"></i><i style="top:182px;background:linear-gradient(90deg,#b5b5ff 0%,#b5b5ff 7.8%,#9a9aff 11.7%,#6b6bff 16.5%,#5252ff 21.4%,#5b5bff 23.3%,#6a6aff 24.3%,#99f 26.2%,#c7c7ff 29.2%,#ddf 35%,#fffbfb 36.9%,#ffbdbd 38.9%,#ff4848 41.8%,#ff2c2c 42.8%,#ff2121 43.7%,#ff2727 44.7%,#ff3d3d 45.7%,#ff9c9c 48.6%,#ffb6b6 49.6%,#ffc8c8 50.5%,#ffd9d9 52.5%,#ffdfdf 57.3%,#fffdfd 63.2%,#ededff 69%,#ececff 79.7%,#dadaff 82.6%,#dadaff 94.3%,#e9e9ff 96.2%,#eaeaff 100%)"></i><i style="top:184px;background:linear-gradient(90deg,#b5b5ff 0%,#b5b5ff 7.8%,#99f 11.7%,#6363ff 17.5%,#5252ff 21.4%,#5b5bff 23.3%,#6b6bff 24.3%,#9a9aff 26.2%,#c7c7ff 29.2%,#dcdcff 35%,#eef 36%,#fff2f2 36.9%,#ffa4a4 38.9%,#ff1a1a 41.8%,#ff0101 42.8%,#f00 43.7%,#ff0f0f 44.7%,#ff3232 45.7%,#ffb0b0 48.6%,#ffcfcf 49.6%,#ffe4e4 50.5%,#ffecec 51.5%,#ffe0e0 57.3%,#fffdfd 63.2%,#fdfdff 64.1%,#ededff 69%,#ececff 79.7%,#dadaff 82.6%,#dbdbff 94.3%,#ebebff 96.2%,#ededff 100%)"></i><i style="top:186px;background:linear-gradient(90deg,#b6b6ff 0%,#b5b5ff 7.8%,#99f 11.7%,#6363ff 17.5%,#5353ff 21.4%,#5c5cff 23.3%,#9b9bff 26.2%,#c7c7ff 29.2%,#d6d6ff 34%,#ddf 35%,#f0f0ff 36%,#ffeded 36.9%,#ff9393 38.9%,#ff2a2a 40.8%,#ff0101 41.8%,#f00 42.8%,#f00 43.7%,#ff0b0b 44.7%,#ff3636 45.7%,#ffcece 48.6%,#fff5f5 49.6%,#f1f1ff 50.5%,#ececff 51.5%,#fffbfb 53.4%,#ffe5e5 55.4%,#ffe1e1 57.3%,#fefeff 64.1%,#ededff 69%,#ececff 79.7%,#dadaff 82.6%,#dbdbff 94.3%,#f2f2ff 97.2%,#f2f2ff 100%)"></i><i style="top:188px;background:linear-gradient(90deg,#b7b7ff 0%,#b1b1ff 8.7%,#6a6aff 16.5%,#5353ff 20.4%,#5f5fff 23.3%,#a1a1ff 26.2%,#c7c7ff 29.2%,#d3d3ff 34%,#dadaff 35%,#ececff 36%,#ffeded 36.9%,#ff8e8e 38.9%,#ff2323 40.8%,#f00 41.8%,#f00 43.7%,#ff1414 44.7%,#ff4343 45.7%,#ffe6e6 48.6%,#ededff 49.6%,#d3d3ff 50.5%,#cfcfff 51.5%,#f4f4ff 53.4%,#fff6f6 54.4%,#ffe4e4 56.4%,#ffe3e3 58.3%,#fffefe 64.1%,#ebebff 70%,#ececff 79.7%,#dadaff 82.6%,#dcdcff 94.3%,#f9f9ff 97.2%,#fdfdff 99.1%,#f8f8ff 100%)"></i><i style="top:190px;background:linear-gradient(90deg,#b8b8ff 0%,#b6b6ff 7.8%,#a2a2ff 10.7%,#6969ff 16.5%,#5353ff 20.4%,#6a6aff 23.3%,#a6a6ff 26.2%,#bbf 28.2%,#c3c3ff 29.2%,#d5d5ff 35%,#e3e3ff 36%,#fff3f3 36.9%,#ff2d2d 40.8%,#ff0b0b 41.8%,#f00 42.8%,#ff0707 43.7%,#ff2626 44.7%,#ffe6e6 48.6%,#f2f2ff 49.6%,#dadaff 50.5%,#d7d7ff 51.5%,#f8f8ff 53.4%,#ffeaea 55.4%,#ffe4e4 57.3%,#fffefe 65.1%,#ececff 70%,#ececff 79.7%,#dadaff 82.6%,#dadaff 92.3%,#ddf 94.3%,#fff 97.2%,#fff9f9 98.2%,#fefeff 100%)"></i><i style="top:192px;background:linear-gradient(90deg,#babaff 0%,#b7b7ff 7.8%,#a2a2ff 10.7%,#6868ff 16.5%,#5454ff 20.4%,#66f 22.4%,#a0a0ff 25.3%,#bbf 28.2%,#c5c5ff 33%,#d8d8ff 36%,#fff 36.9%,#ff4646 40.8%,#ff2626 41.8%,#ff1a1a 42.8%,#ff2121 43.7%,#ff3a3a 44.7%,#ffd2d2 48.6%,#ffefef 49.6%,#fdfdff 50.5%,#f8f8ff 51.5%,#fefeff 52.5%,#ffecec 54.4%,#ffe5e5 56.4%,#ffe8e8 59.3%,#fff 66.1%,#ebebff 70.9%,#ececff 79.7%,#dadaff 82.6%,#dadaff 92.3%,#ddf 94.3%,#fffefe 97.2%,#fff8f8 99.1%,#fff 100%)"></i><i style="top:194px;background:linear-gradient(90deg,#bbf 0%,#b7b7ff 7.8%,#a2a2ff 10.7%,#7878ff 14.6%,#6060ff 17.5%,#5656ff 20.4%,#6d6dff 22.4%,#8f8fff 23.3%,#a6a6ff 24.3%,#afafff 25.3%,#aeaeff 26.2%,#b9b9ff 28.2%,#c8c8ff 35%,#d0d0ff 36%,#f0f0ff 36.9%,#ffdede 37.9%,#ff6565 40.8%,#f44 41.8%,#ff3636 42.8%,#ff3838 43.7%,#ff4949 44.7%,#ffbdbd 48.6%,#ffd3d3 49.6%,#ffe8e8 51.5%,#ffe6e6 57.3%,#fff 67.1%,#ececff 70.9%,#ececff 79.7%,#dadaff 82.6%,#dbdbff 93.3%,#ddf 94.3%,#fcfcff 97.2%,#fcfcff 100%)"></i><i style="top:196px;background:linear-gradient(90deg,#bbf 0%,#b8b8ff 7.8%,#a2a2ff 10.7%,#5f5fff 17.5%,#5757ff 20.4%,#5f5fff 21.4%,#7373ff 22.4%,#a1a1ff 23.3%,#bfbfff 24.3%,#c1c1ff 25.3%,#b3b3ff 26.2%,#b3b3ff 27.2%,#c0c0ff 34%,#c9c9ff 36%,#e4e4ff 36.9%,#ffeded 37.9%,#ff6262 41.8%,#ff4e4e 42.8%,#ff4a4a 43.7%,#ff5353 44.7%,#ff6767 45.7%,#ffb1b1 48.6%,#ffc4c4 49.6%,#ffd2d2 50.5%,#ffdede 52.5%,#fffefe 67.1%,#ebebff 71.9%,#ececff 79.7%,#dadaff 82.6%,#dcdcff 94.3%,#f5f5ff 97.2%,#f5f5ff 100%)"></i><i style="top:198px;background:linear-gradient(90deg,#bbf 0%,#b8b8ff 7.8%,#a2a2ff 10.7%,#77f 14.6%,#55f 19.4%,#5f5fff 21.4%,#7575ff 22.4%,#acacff 23.3%,#d7d7ff 24.3%,#d7d7ff 25.3%,#bdbdff 26.2%,#b6b6ff 27.2%,#c1c1ff 34%,#c7c7ff 36%,#e4e4ff 36.9%,#fff3f3 37.9%,#ff7f7f 41.8%,#ff6969 42.8%,#ff5e5e 43.7%,#ff5f5f 44.7%,#ff6c6c 45.7%,#ffaeae 48.6%,#ffcece 50.5%,#ffdfdf 53.4%,#fdfdff 68%,#ebebff 71.9%,#ececff 79.7%,#dadaff 82.6%,#dbdbff 94.3%,#ededff 96.2%,#efefff 100%)"></i><i style="top:200px;background:linear-gradient(90deg,#bbf 0%,#b8b8ff 7.8%,#a1a1ff 10.7%,#7676ff 14.6%,#5e5eff 17.5%,#55f 19.4%,#5e5eff 21.4%,#7373ff 22.4%,#e8e8ff 24.3%,#ececff 25.3%,#cbcbff 26.2%,#bcbcff 27.2%,#cacaff 35%,#d9d9ff 36%,#f8f8ff 36.9%,#ffe1e1 38.9%,#ff8a8a 42.8%,#ff7a7a 43.7%,#ff7373 44.7%,#ff7676 45.7%,#ff8383 46.6%,#ffc0c0 49.6%,#ffcece 50.5%,#ffe0e0 53.4%,#ffecec 61.2%,#fff 68%,#ededff 71.9%,#ececff 79.7%,#dadaff 82.6%,#dadaff 93.3%,#dbdbff 94.3%,#eaeaff 96.2%,#ebebff 100%)"></i><i style="top:202px;background:linear-gradient(90deg,#bbf 0%,#b8b8ff 7.8%,#a0a0ff 10.7%,#6c6cff 15.5%,#5454ff 19.4%,#5d5dff 21.4%,#7070ff 22.4%,#e9e9ff 24.3%,#fafaff 25.3%,#dadaff 26.2%,#c6c6ff 27.2%,#c5c5ff 28.2%,#d5d5ff 34%,#e3e3ff 35%,#fdfdff 36%,#ffdada 39.8%,#ff8f8f 44.7%,#f88 45.7%,#ff8a8a 46.6%,#ff9595 47.6%,#ffd4d4 51.5%,#ffe0e0 53.4%,#ffe5e5 59.3%,#fefeff 69%,#f1f1ff 71.9%,#ebebff 80.7%,#dadaff 83.6%,#dadaff 93.3%,#e9e9ff 96.2%,#e9e9ff 100%)"></i><i style="top:204px;background:linear-gradient(90deg,#bbf 0%,#b7b7ff 7.8%,#6a6aff 15.5%,#5353ff 19.4%,#5c5cff 21.4%,#6d6dff 22.4%,#9e9eff 23.3%,#ddf 24.3%,#f9f9ff 25.3%,#d2d2ff 27.2%,#cfcfff 28.2%,#e7e7ff 33%,#f8f8ff 34%,#fff1f1 35%,#ffecec 36%,#ffe1e1 40.8%,#ffcfcf 42.8%,#ffa3a3 45.7%,#f99 46.6%,#ff9898 47.6%,#ff9f9f 48.6%,#ffc9c9 51.5%,#ffdcdc 53.4%,#ffe5e5 61.2%,#fff 70%,#f4f4ff 72.9%,#ebebff 80.7%,#dadaff 84.5%,#dadaff 93.3%,#e9e9ff 96.2%,#e9e9ff 100%)"></i><i style="top:206px;background:linear-gradient(90deg,#bbf 0%,#b6b6ff 7.8%,#6868ff 15.5%,#5252ff 19.4%,#5c5cff 21.4%,#6c6cff 22.4%,#9494ff 23.3%,#cacaff 24.3%,#ebebff 25.3%,#dadaff 28.2%,#fffefe 32.1%,#fdd 34%,#ffeded 37.9%,#ffeded 40.8%,#ffe6e6 42.8%,#ffd0d0 44.7%,#ffb1b1 46.6%,#ffa3a3 48.6%,#ffa6a6 49.6%,#ffd4d4 53.4%,#ffdede 55.4%,#ffdfdf 60.3%,#fffefe 70.9%,#ececff 80.7%,#dadaff 84.5%,#dadaff 93.3%,#e9e9ff 96.2%,#e9e9ff 100%)"></i><i style="top:208px;background:linear-gradient(90deg,#bbf 0%,#b4b4ff 7.8%,#5e5eff 16.5%,#5252ff 19.4%,#5b5bff 21.4%,#6c6cff 22.4%,#dadaff 25.3%,#e4e4ff 26.2%,#e6e6ff 28.2%,#fffdfd 30.1%,#ffd4d4 32.1%,#ffc9c9 33%,#ffefef 36.9%,#fff6f6 41.8%,#ffe4e4 44.7%,#ffbebe 47.6%,#ffafaf 49.6%,#ffb7b7 51.5%,#ffd8d8 55.4%,#ffdede 61.2%,#fffdfd 71.9%,#ebebff 81.6%,#dadaff 85.5%,#dadaff 93.3%,#e9e9ff 96.2%,#e9e9ff 100%)"></i><i style="top:210px;background:linear-gradient(90deg,#bbf 0%,#b3b3ff 7.8%,#6565ff 15.5%,#5252ff 19.4%,#5b5bff 21.4%,#6d6dff 22.4%,#cbcbff 25.3%,#dedeff 26.2%,#fffefe 29.2%,#ffc1c1 32.1%,#ffc7c7 33%,#fee 36%,#fffcfc 40.8%,#fee 44.7%,#ffc2c2 49.6%,#ffbdbd 51.5%,#ffd7d7 56.4%,#ffd9d9 60.3%,#fefeff 73.9%,#dadaff 86.5%,#dadaff 93.3%,#e9e9ff 96.2%,#e9e9ff 100%)"></i><i style="top:212px;background:linear-gradient(90deg,#bbf 0%,#b8b8ff 6.8%,#a1a1ff 9.7%,#7575ff 13.6%,#5c5cff 16.5%,#5252ff 19.4%,#5b5bff 21.4%,#6e6eff 22.4%,#a9a9ff 24.3%,#d7d7ff 26.2%,#f5f5ff 28.2%,#fff6f6 29.2%,#ffd0d0 31.1%,#ffcaca 32.1%,#fff2f2 36%,#fffefe 39.8%,#fee 45.7%,#ffcece 50.5%,#ffc8c8 52.5%,#ffd6d6 57.3%,#ffd7d7 60.3%,#fffefe 73.9%,#ececff 81.6%,#dadaff 86.5%,#dadaff 93.3%,#e9e9ff 96.2%,#e9e9ff 100%)"></i></div></div><div class="hm" style="left:417.9px;top:2.5px;width:102.4px;height:213.1px"><div><i style="top:0px;background:linear-gradient(90deg,#bcbcff 0%,#babaff 9.8%,#7474ff 16.6%,#5c5cff 20.5%,#6b6bff 22.5%,#b1b1ff 26.4%,#f2f2ff 29.3%,#fffefe 30.3%,#fff5f5 34.2%,#ffc4c4 44.9%,#ffc2c2 53.7%,#fffefe 62.5%,#fafaff 64.5%,#fafaff 78.1%,#ccf 86.9%,#ccf 90.8%,#d1d1ff 91.8%,#dfdfff 92.8%,#e0e0ff 100%)"></i><i style="top:2px;background:linear-gradient(90deg,#bcbcff 0%,#babaff 9.8%,#7474ff 16.6%,#5c5cff 20.5%,#6b6bff 22.5%,#b1b1ff 26.4%,#f2f2ff 29.3%,#fffefe 30.3%,#fff5f5 34.2%,#ffc4c4 44.9%,#ffc2c2 53.7%,#fffefe 62.5%,#fafaff 64.5%,#fafaff 78.1%,#ccf 86.9%,#ccf 90.8%,#d1d1ff 91.8%,#dfdfff 92.8%,#e0e0ff 100%)"></i><i style="top:4px;background:linear-gradient(90deg,#bcbcff 0%,#babaff 9.8%,#7474ff 16.6%,#5c5cff 20.5%,#6b6bff 22.5%,#b1b1ff 26.4%,#f2f2ff 29.3%,#fffefe 30.3%,#fff5f5 34.2%,#ffc4c4 44.9%,#ffc2c2 53.7%,#fffefe 62.5%,#fafaff 64.5%,#fafaff 78.1%,#ccf 86.9%,#ccf 90.8%,#d1d1ff 91.8%,#dfdfff 92.8%,#e0e0ff 100%)"></i><i style="top:6px;background:linear-gradient(90deg,#bcbcff 0%,#babaff 9.8%,#7474ff 16.6%,#5c5cff 20.5%,#6b6bff 22.5%,#b1b1ff 26.4%,#f2f2ff 29.3%,#fffefe 30.3%,#fff5f5 34.2%,#ffc4c4 44.9%,#ffc2c2 53.7%,#fffefe 62.5%,#fafaff 64.5%,#fafaff 78.1%,#ccf 86.9%,#ccf 90.8%,#d1d1ff 91.8%,#dfdfff 92.8%,#e0e0ff 100%)"></i><i style="top:8px;background:linear-gradient(90deg,#bcbcff 0%,#babaff 9.8%,#7474ff 16.6%,#5c5cff 20.5%,#6b6bff 22.5%,#b1b1ff 26.4%,#f2f2ff 29.3%,#fffefe 30.3%,#fff5f5 34.2%,#ffc4c4 44.9%,#ffc2c2 53.7%,#fffefe 62.5%,#fafaff 64.5%,#fafaff 78.1%,#ccf 86.9%,#ccf 90.8%,#d1d1ff 91.8%,#dfdfff 92.8%,#e0e0ff 100%)"></i><i style="top:10px;background:linear-gradient(90deg,#bcbcff 0%,#babaff 9.8%,#7474ff 16.6%,#5c5cff 20.5%,#6b6bff 22.5%,#b1b1ff 26.4%,#f2f2ff 29.3%,#fffefe 30.3%,#fff5f5 34.2%,#ffc4c4 44.9%,#ffc2c2 53.7%,#fffefe 62.5%,#fafaff 64.5%,#fafaff 78.1%,#ccf 86.9%,#ccf 90.8%,#d1d1ff 91.8%,#dfdfff 92.8%,#e0e0ff 100%)"></i><i style="top:12px;background:linear-gradient(90deg,#bcbcff 0%,#babaff 9.8%,#7474ff 16.6%,#5c5cff 20.5%,#6b6bff 22.5%,#b1b1ff 26.4%,#f2f2ff 29.3%,#fffefe 30.3%,#fff5f5 34.2%,#ffc4c4 44.9%,#ffc2c2 53.7%,#fffefe 62.5%,#fafaff 64.5%,#fafaff 78.1%,#ccf 86.9%,#ccf 90.8%,#d1d1ff 91.8%,#dfdfff 92.8%,#e0e0ff 100%)"></i><i style="top:14px;background:linear-gradient(90deg,#bcbcff 0%,#babaff 9.8%,#7474ff 16.6%,#5c5cff 20.5%,#6b6bff 22.5%,#b1b1ff 26.4%,#f2f2ff 29.3%,#fffefe 30.3%,#fff5f5 34.2%,#ffc4c4 44.9%,#ffc2c2 53.7%,#fffefe 62.5%,#fafaff 64.5%,#fafaff 78.1%,#ccf 86.9%,#ccf 90.8%,#d1d1ff 91.8%,#dfdfff 92.8%,#e0e0ff 100%)"></i><i style="top:16px;background:linear-gradient(90deg,#bcbcff 0%,#babaff 9.8%,#7474ff 16.6%,#5c5cff 20.5%,#6b6bff 22.5%,#b1b1ff 26.4%,#f2f2ff 29.3%,#fffefe 30.3%,#fff5f5 34.2%,#ffc4c4 44.9%,#ffc2c2 53.7%,#fffefe 62.5%,#fafaff 64.5%,#fafaff 78.1%,#ccf 86.9%,#ccf 90.8%,#d1d1ff 91.8%,#dfdfff 92.8%,#e0e0ff 100%)"></i><i style="top:18px;background:linear-gradient(90deg,#bcbcff 0%,#babaff 9.8%,#7474ff 16.6%,#5c5cff 20.5%,#6b6bff 22.5%,#b1b1ff 26.4%,#f2f2ff 29.3%,#fffefe 30.3%,#fff5f5 34.2%,#ffc4c4 44.9%,#ffc2c2 53.7%,#fffefe 62.5%,#fafaff 64.5%,#fafaff 78.1%,#ccf 86.9%,#ccf 90.8%,#d1d1ff 91.8%,#dfdfff 92.8%,#e0e0ff 100%)"></i><i style="top:20px;background:linear-gradient(90deg,#bcbcff 0%,#babaff 9.8%,#7474ff 16.6%,#5c5cff 20.5%,#6b6bff 22.5%,#b1b1ff 26.4%,#f2f2ff 29.3%,#fffefe 30.3%,#fff5f5 34.2%,#ffc4c4 44.9%,#ffc2c2 53.7%,#fffefe 62.5%,#fafaff 64.5%,#fafaff 78.1%,#ccf 86.9%,#ccf 90.8%,#d1d1ff 91.8%,#dfdfff 92.8%,#e0e0ff 100%)"></i><i style="top:22px;background:linear-gradient(90deg,#bcbcff 0%,#babaff 9.8%,#7474ff 16.6%,#5c5cff 20.5%,#6b6bff 22.5%,#b1b1ff 26.4%,#f2f2ff 29.3%,#fffefe 30.3%,#fff5f5 34.2%,#ffc4c4 44.9%,#ffc2c2 53.7%,#fffefe 62.5%,#fafaff 64.5%,#fafaff 78.1%,#ccf 86.9%,#ccf 90.8%,#d1d1ff 91.8%,#dfdfff 92.8%,#e0e0ff 100%)"></i><i style="top:24px;background:linear-gradient(90deg,#bcbcff 0%,#babaff 9.8%,#7474ff 16.6%,#5c5cff 20.5%,#6b6bff 22.5%,#b1b1ff 26.4%,#f2f2ff 29.3%,#fffefe 30.3%,#fff5f5 34.2%,#ffc4c4 44.9%,#ffc2c2 53.7%,#fffefe 62.5%,#fafaff 64.5%,#fafaff 78.1%,#ccf 86.9%,#ccf 90.8%,#d1d1ff 91.8%,#dfdfff 92.8%,#e0e0ff 100%)"></i><i style="top:26px;background:linear-gradient(90deg,#bcbcff 0%,#babaff 9.8%,#7474ff 16.6%,#5c5cff 20.5%,#6b6bff 22.5%,#b1b1ff 26.4%,#f2f2ff 29.3%,#fffefe 30.3%,#fff5f5 34.2%,#ffc4c4 44.9%,#ffc2c2 53.7%,#fffefe 62.5%,#fafaff 64.5%,#fafaff 78.1%,#ccf 86.9%,#ccf 90.8%,#d1d1ff 91.8%,#dfdfff 92.8%,#e0e0ff 100%)"></i><i style="top:28px;background:linear-gradient(90deg,#bcbcff 0%,#babaff 9.8%,#7474ff 16.6%,#5c5cff 20.5%,#6b6bff 22.5%,#b1b1ff 26.4%,#f2f2ff 29.3%,#fffefe 30.3%,#fff5f5 34.2%,#ffc4c4 44.9%,#ffc2c2 53.7%,#fffefe 62.5%,#fafaff 64.5%,#fafaff 78.1%,#ccf 86.9%,#ccf 90.8%,#d1d1ff 91.8%,#dfdfff 92.8%,#e0e0ff 100%)"></i><i style="top:30px;background:linear-gradient(90deg,#bcbcff 0%,#babaff 9.8%,#7474ff 16.6%,#5c5cff 20.5%,#6b6bff 22.5%,#b1b1ff 26.4%,#f2f2ff 29.3%,#fffefe 30.3%,#fff5f5 34.2%,#ffc4c4 44.9%,#ffc2c2 53.7%,#fffefe 62.5%,#fafaff 64.5%,#fafaff 78.1%,#ccf 86.9%,#ccf 90.8%,#d1d1ff 91.8%,#dfdfff 92.8%,#e0e0ff 100%)"></i><i style="top:32px;background:linear-gradient(90deg,#bcbcff 0%,#babaff 9.8%,#7474ff 16.6%,#5c5cff 20.5%,#6b6bff 22.5%,#b1b1ff 26.4%,#f2f2ff 29.3%,#fffefe 30.3%,#fff5f5 34.2%,#ffc4c4 44.9%,#ffc2c2 53.7%,#fffefe 62.5%,#fafaff 64.5%,#fafaff 78.1%,#ccf 86.9%,#ccf 90.8%,#d1d1ff 91.8%,#dfdfff 92.8%,#e0e0ff 100%)"></i><i style="top:34px;background:linear-gradient(90deg,#bcbcff 0%,#babaff 9.8%,#7474ff 16.6%,#5c5cff 20.5%,#6b6bff 22.5%,#b1b1ff 26.4%,#f2f2ff 29.3%,#fffefe 30.3%,#fff5f5 34.2%,#ffc4c4 44.9%,#ffc2c2 53.7%,#fffefe 62.5%,#fafaff 64.5%,#fafaff 78.1%,#ccf 86.9%,#ccf 90.8%,#d1d1ff 91.8%,#dfdfff 92.8%,#e0e0ff 100%)"></i><i style="top:36px;background:linear-gradient(90deg,#bcbcff 0%,#babaff 9.8%,#7474ff 16.6%,#5c5cff 20.5%,#6b6bff 22.5%,#b1b1ff 26.4%,#f2f2ff 29.3%,#fffefe 30.3%,#fff5f5 34.2%,#ffc4c4 44.9%,#ffc2c2 53.7%,#fffefe 62.5%,#fafaff 64.5%,#fafaff 78.1%,#ccf 86.9%,#ccf 90.8%,#d1d1ff 91.8%,#dfdfff 92.8%,#e0e0ff 100%)"></i><i style="top:38px;background:linear-gradient(90deg,#bcbcff 0%,#babaff 9.8%,#7474ff 16.6%,#5c5cff 20.5%,#6b6bff 22.5%,#b1b1ff 26.4%,#f2f2ff 29.3%,#fffefe 30.3%,#fff5f5 34.2%,#ffc4c4 44.9%,#ffc2c2 53.7%,#fffefe 62.5%,#fafaff 64.5%,#fafaff 78.1%,#ccf 86.9%,#ccf 90.8%,#d1d1ff 91.8%,#dfdfff 92.8%,#e0e0ff 100%)"></i><i style="top:40px;background:linear-gradient(90deg,#bcbcff 0%,#babaff 9.8%,#7474ff 16.6%,#5c5cff 20.5%,#6b6bff 22.5%,#b1b1ff 26.4%,#f2f2ff 29.3%,#fffefe 30.3%,#fff5f5 34.2%,#ffc4c4 44.9%,#ffc2c2 53.7%,#fffefe 62.5%,#fafaff 64.5%,#fafaff 78.1%,#ccf 86.9%,#ccf 90.8%,#d1d1ff 91.8%,#dfdfff 92.8%,#e0e0ff 100%)"></i><i style="top:42px;background:linear-gradient(90deg,#bcbcff 0%,#babaff 9.8%,#7474ff 16.6%,#5c5cff 20.5%,#6b6bff 22.5%,#b1b1ff 26.4%,#f2f2ff 29.3%,#fffefe 30.3%,#fff5f5 34.2%,#ffc4c4 44.9%,#ffc2c2 53.7%,#fffefe 62.5%,#fafaff 64.5%,#fafaff 78.1%,#ccf 86.9%,#ccf 90.8%,#d1d1ff 91.8%,#dfdfff 92.8%,#e0e0ff 100%)"></i><i style="top:44px;background:linear-gradient(90deg,#bcbcff 0%,#babaff 9.8%,#7474ff 16.6%,#5c5cff 20.5%,#6b6bff 22.5%,#b1b1ff 26.4%,#f2f2ff 29.3%,#fffefe 30.3%,#fff5f5 34.2%,#ffc4c4 44.9%,#ffc2c2 53.7%,#fffefe 62.5%,#fafaff 64.5%,#fafaff 78.1%,#ccf 86.9%,#ccf 90.8%,#d1d1ff 91.8%,#dfdfff 92.8%,#e0e0ff 100%)"></i><i style="top:46px;background:linear-gradient(90deg,#bcbcff 0%,#babaff 9.8%,#7474ff 16.6%,#5c5cff 20.5%,#6b6bff 22.5%,#b1b1ff 26.4%,#f2f2ff 29.3%,#fffefe 30.3%,#fff5f5 34.2%,#ffc4c4 44.9%,#ffc2c2 53.7%,#fffefe 62.5%,#fafaff 64.5%,#fafaff 78.1%,#ccf 86.9%,#ccf 90.8%,#d1d1ff 91.8%,#dfdfff 92.8%,#e0e0ff 100%)"></i><i style="top:48px;background:linear-gradient(90deg,#bcbcff 0%,#babaff 9.8%,#7474ff 16.6%,#5c5cff 20.5%,#6b6bff 22.5%,#b1b1ff 26.4%,#f2f2ff 29.3%,#fffefe 30.3%,#fff5f5 34.2%,#ffc4c4 44.9%,#ffc2c2 53.7%,#fffefe 62.5%,#fafaff 64.5%,#fafaff 78.1%,#ccf 86.9%,#ccf 90.8%,#d1d1ff 91.8%,#dfdfff 92.8%,#e0e0ff 100%)"></i><i style="top:50px;background:linear-gradient(90deg,#bcbcff 0%,#babaff 9.8%,#7474ff 16.6%,#5c5cff 20.5%,#6b6bff 22.5%,#b1b1ff 26.4%,#f2f2ff 29.3%,#fffefe 30.3%,#fff5f5 34.2%,#ffc4c4 44.9%,#ffc2c2 53.7%,#fffefe 62.5%,#fafaff 64.5%,#fafaff 78.1%,#ccf 86.9%,#ccf 90.8%,#d1d1ff 91.8%,#dfdfff 92.8%,#e0e0ff 100%)"></i><i style="top:52px;background:linear-gradient(90deg,#bcbcff 0%,#babaff 9.8%,#7474ff 16.6%,#5c5cff 20.5%,#6b6bff 22.5%,#b1b1ff 26.4%,#f2f2ff 29.3%,#fffefe 30.3%,#fff5f5 34.2%,#ffc4c4 44.9%,#ffc2c2 53.7%,#fffefe 62.5%,#fafaff 64.5%,#fafaff 78.1%,#ccf 86.9%,#ccf 90.8%,#d1d1ff 91.8%,#dfdfff 92.8%,#e0e0ff 100%)"></i><i style="top:54px;background:linear-gradient(90deg,#bcbcff 0%,#babaff 9.8%,#7474ff 16.6%,#5c5cff 20.5%,#6a6aff 22.5%,#b1b1ff 26.4%,#f3f3ff 29.3%,#fffefe 30.3%,#fff5f5 34.2%,#ffc4c4 44.9%,#ffc2c2 53.7%,#fffefe 62.5%,#fafaff 64.5%,#fafaff 78.1%,#ccf 86.9%,#ccf 90.8%,#d1d1ff 91.8%,#dfdfff 92.8%,#e0e0ff 100%)"></i><i style="top:56px;background:linear-gradient(90deg,#bcbcff 0%,#babaff 9.8%,#6b6bff 17.6%,#5b5bff 20.5%,#6a6aff 22.5%,#b1b1ff 26.4%,#f4f4ff 29.3%,#fffefe 30.3%,#fff5f5 34.2%,#ffc4c4 44.9%,#ffc2c2 53.7%,#fffefe 62.5%,#fafaff 64.5%,#fafaff 78.1%,#ccf 86.9%,#ccf 90.8%,#d1d1ff 91.8%,#dfdfff 92.8%,#e0e0ff 100%)"></i><i style="top:58px;background:linear-gradient(90deg,#bcbcff 0%,#babaff 9.8%,#a0a0ff 12.7%,#7c7cff 15.6%,#6464ff 18.6%,#5b5bff 20.5%,#6969ff 22.5%,#b1b1ff 26.4%,#f5f5ff 29.3%,#fffefe 30.3%,#fff4f4 34.2%,#ffc4c4 44.9%,#ffc2c2 53.7%,#fffefe 62.5%,#fafaff 64.5%,#fafaff 78.1%,#ccf 86.9%,#ccf 90.8%,#d1d1ff 91.8%,#dfdfff 92.8%,#e0e0ff 100%)"></i><i style="top:60px;background:linear-gradient(90deg,#bcbcff 0%,#babaff 9.8%,#7373ff 16.6%,#5b5bff 20.5%,#6868ff 22.5%,#b1b1ff 26.4%,#f6f6ff 29.3%,#fffdfd 30.3%,#fff4f4 34.2%,#ffcdcd 42%,#ffc4c4 44.9%,#ffc2c2 53.7%,#fffefe 62.5%,#fafaff 64.5%,#fafaff 78.1%,#ccf 86.9%,#ccf 90.8%,#d1d1ff 91.8%,#dfdfff 92.8%,#e0e0ff 100%)"></i><i style="top:62px;background:linear-gradient(90deg,#bcbcff 0%,#babaff 9.8%,#6a6aff 17.6%,#5b5bff 20.5%,#6767ff 22.5%,#b1b1ff 26.4%,#f8f8ff 29.3%,#fffdfd 30.3%,#fff3f3 34.2%,#ffc6c6 43.9%,#ffc2c2 53.7%,#fffefe 62.5%,#fafaff 64.5%,#fafaff 78.1%,#ccf 86.9%,#ccf 90.8%,#d1d1ff 91.8%,#dfdfff 92.8%,#e0e0ff 100%)"></i><i style="top:64px;background:linear-gradient(90deg,#bcbcff 0%,#babaff 9.8%,#9f9fff 12.7%,#7b7bff 15.6%,#6363ff 18.6%,#5b5bff 20.5%,#66f 22.5%,#b1b1ff 26.4%,#f9f9ff 29.3%,#fffdfd 30.3%,#fff3f3 34.2%,#ffc6c6 43.9%,#ffc2c2 53.7%,#fffefe 62.5%,#fafaff 64.5%,#fafaff 78.1%,#ccf 86.9%,#ccf 90.8%,#d1d1ff 91.8%,#dfdfff 92.8%,#e0e0ff 100%)"></i><i style="top:66px;background:linear-gradient(90deg,#bcbcff 0%,#babaff 9.8%,#6969ff 17.6%,#5b5bff 20.5%,#6565ff 22.5%,#b1b1ff 26.4%,#fbfbff 29.3%,#fffdfd 30.3%,#fff2f2 34.2%,#ffcaca 42%,#ffc2c2 45.9%,#ffc2c2 53.7%,#fffefe 62.5%,#fafaff 64.5%,#fafaff 78.1%,#ccf 86.9%,#ccf 90.8%,#d1d1ff 91.8%,#dfdfff 92.8%,#e0e0ff 100%)"></i><i style="top:68px;background:linear-gradient(90deg,#bcbcff 0%,#babaff 9.8%,#6969ff 17.6%,#5b5bff 20.5%,#6565ff 22.5%,#b1b1ff 26.4%,#fdfdff 29.3%,#fffdfd 30.3%,#fff6f6 33.2%,#ffcece 41%,#ffc5c5 43.9%,#ffc2c2 53.7%,#fffefe 62.5%,#fafaff 64.5%,#fafaff 78.1%,#ccf 86.9%,#ccf 90.8%,#d1d1ff 91.8%,#dfdfff 92.8%,#e0e0ff 100%)"></i><i style="top:70px;background:linear-gradient(90deg,#bcbcff 0%,#babaff 9.8%,#6868ff 17.6%,#5b5bff 20.5%,#6565ff 22.5%,#7474ff 23.4%,#b0b0ff 26.4%,#fff 29.3%,#fff1f1 34.2%,#ffc9c9 42%,#ffc2c2 45.9%,#ffc5c5 54.7%,#fffefe 62.5%,#fafaff 64.5%,#fafaff 78.1%,#ccf 86.9%,#ccf 90.8%,#d1d1ff 91.8%,#dfdfff 92.8%,#e0e0ff 100%)"></i><i style="top:72px;background:linear-gradient(90deg,#bcbcff 0%,#babaff 9.8%,#6868ff 17.6%,#5b5bff 20.5%,#6464ff 22.5%,#7373ff 23.4%,#b0b0ff 26.4%,#fff 29.3%,#fff5f5 33.2%,#fcc 41%,#ffc2c2 45.9%,#ffc5c5 54.7%,#fffefe 62.5%,#fafaff 64.5%,#fafaff 78.1%,#ccf 86.9%,#ccf 90.8%,#d1d1ff 91.8%,#dfdfff 92.8%,#e0e0ff 100%)"></i><i style="top:74px;background:linear-gradient(90deg,#bcbcff 0%,#babaff 9.8%,#6767ff 17.6%,#5b5bff 20.5%,#6464ff 22.5%,#7171ff 23.4%,#b0b0ff 26.4%,#e9e9ff 28.3%,#fffefe 29.3%,#fff5f5 33.2%,#ffc8c8 42%,#ffc2c2 53.7%,#fffefe 62.5%,#fafaff 64.5%,#fafaff 78.1%,#ccf 86.9%,#ccf 90.8%,#d1d1ff 91.8%,#dfdfff 92.8%,#e0e0ff 100%)"></i><i style="top:76px;background:linear-gradient(90deg,#bcbcff 0%,#babaff 9.8%,#66f 17.6%,#5b5bff 20.5%,#6464ff 22.5%,#7070ff 23.4%,#b0b0ff 26.4%,#ebebff 28.3%,#fffefe 29.3%,#fff4f4 33.2%,#ffcaca 41%,#ffc2c2 45.9%,#ffc2c2 53.7%,#fffefe 62.5%,#fafaff 64.5%,#fafaff 78.1%,#ccf 86.9%,#ccf 90.8%,#d1d1ff 91.8%,#dfdfff 92.8%,#e0e0ff 100%)"></i><i style="top:78px;background:linear-gradient(90deg,#bcbcff 0%,#babaff 9.8%,#66f 17.6%,#5b5bff 20.5%,#6363ff 22.5%,#6e6eff 23.4%,#b0b0ff 26.4%,#ededff 28.3%,#fffefe 29.3%,#fff4f4 33.2%,#ffc9c9 41%,#ffc2c2 45.9%,#ffc2c2 53.7%,#fffefe 62.5%,#fafaff 64.5%,#fafaff 78.1%,#ccf 86.9%,#ccf 90.8%,#d1d1ff 91.8%,#dfdfff 92.8%,#e0e0ff 100%)"></i><i style="top:80px;background:linear-gradient(90deg,#bcbcff 0%,#babaff 9.8%,#6e6eff 16.6%,#5b5bff 20.5%,#6c6cff 23.4%,#b0b0ff 26.4%,#efefff 28.3%,#fffefe 29.3%,#fff3f3 33.2%,#ffc8c8 41%,#ffc2c2 53.7%,#fffefe 62.5%,#fafaff 64.5%,#fafaff 78.1%,#ccf 86.9%,#ccf 90.8%,#d1d1ff 91.8%,#dfdfff 92.8%,#e0e0ff 100%)"></i><i style="top:82px;background:linear-gradient(90deg,#bcbcff 0%,#babaff 9.8%,#6565ff 17.6%,#5b5bff 20.5%,#6b6bff 23.4%,#b0b0ff 26.4%,#f1f1ff 28.3%,#fffefe 29.3%,#fff2f2 33.2%,#ffc8c8 41%,#ffc2c2 53.7%,#fffefe 62.5%,#fafaff 64.5%,#fafaff 78.1%,#ccf 86.9%,#ccf 90.8%,#d1d1ff 91.8%,#dfdfff 92.8%,#e0e0ff 100%)"></i><i style="top:84px;background:linear-gradient(90deg,#bcbcff 0%,#babaff 9.8%,#6d6dff 16.6%,#5a5aff 20.5%,#6969ff 23.4%,#b0b0ff 26.4%,#f3f3ff 28.3%,#fffdfd 29.3%,#fff2f2 33.2%,#ffc7c7 41%,#ffc2c2 53.7%,#fffefe 62.5%,#fafaff 64.5%,#fafaff 78.1%,#ccf 86.9%,#ccf 90.8%,#d1d1ff 91.8%,#dfdfff 92.8%,#e0e0ff 100%)"></i><i style="top:86px;background:linear-gradient(90deg,#bcbcff 0%,#babaff 9.8%,#6d6dff 16.6%,#5a5aff 20.5%,#6868ff 23.4%,#b0b0ff 26.4%,#f5f5ff 28.3%,#fffdfd 29.3%,#fff6f6 32.2%,#ffc7c7 41%,#ffc2c2 53.7%,#fffefe 62.5%,#fafaff 64.5%,#fafaff 78.1%,#ccf 86.9%,#ccf 90.8%,#d1d1ff 91.8%,#dfdfff 92.8%,#e0e0ff 100%)"></i><i style="top:88px;background:linear-gradient(90deg,#bcbcff 0%,#babaff 9.8%,#6d6dff 16.6%,#5a5aff 20.5%,#66f 23.4%,#b0b0ff 26.4%,#f7f7ff 28.3%,#fffdfd 29.3%,#fff1f1 33.2%,#ffc9c9 40%,#ffc2c2 53.7%,#fffefe 62.5%,#fafaff 64.5%,#fafaff 78.1%,#ccf 86.9%,#ccf 90.8%,#d1d1ff 91.8%,#dfdfff 92.8%,#e0e0ff 100%)"></i><i style="top:90px;background:linear-gradient(90deg,#bcbcff 0%,#babaff 9.8%,#6c6cff 16.6%,#5a5aff 20.5%,#66f 23.4%,#b0b0ff 26.4%,#f9f9ff 28.3%,#fffdfd 29.3%,#fff5f5 32.2%,#ffc8c8 40%,#ffc2c2 53.7%,#fffefe 62.5%,#fafaff 64.5%,#fafaff 78.1%,#ccf 86.9%,#ccf 90.8%,#d1d1ff 91.8%,#dfdfff 92.8%,#e0e0ff 100%)"></i><i style="top:92px;background:linear-gradient(90deg,#bcbcff 0%,#babaff 9.8%,#6c6cff 16.6%,#5a5aff 20.5%,#66f 23.4%,#b0b0ff 26.4%,#fafaff 28.3%,#fffdfd 29.3%,#fff5f5 32.2%,#ffc8c8 40%,#ffc2c2 53.7%,#fffefe 62.5%,#fafaff 64.5%,#fafaff 78.1%,#ccf 86.9%,#ccf 90.8%,#d1d1ff 91.8%,#dfdfff 92.8%,#e0e0ff 100%)"></i><i style="top:94px;background:linear-gradient(90deg,#bcbcff 0%,#babaff 9.8%,#6c6cff 16.6%,#5a5aff 20.5%,#66f 23.4%,#b0b0ff 26.4%,#fbfbff 28.3%,#fffdfd 29.3%,#fff5f5 32.2%,#ffc7c7 40%,#ffc2c2 53.7%,#fffefe 62.5%,#fafaff 64.5%,#fafaff 78.1%,#ccf 86.9%,#ccf 90.8%,#d1d1ff 91.8%,#dfdfff 92.8%,#e0e0ff 100%)"></i><i style="top:96px;background:linear-gradient(90deg,#bcbcff 0%,#babaff 9.8%,#6c6cff 16.6%,#5a5aff 20.5%,#66f 23.4%,#b0b0ff 26.4%,#fbfbff 28.3%,#fffdfd 29.3%,#fff5f5 32.2%,#ffc5c5 40%,#ffc2c2 53.7%,#fffefe 62.5%,#fafaff 64.5%,#fafaff 78.1%,#ccf 86.9%,#ccf 90.8%,#d1d1ff 91.8%,#dfdfff 92.8%,#e0e0ff 100%)"></i><i style="top:98px;background:linear-gradient(90deg,#bcbcff 0%,#babaff 9.8%,#6c6cff 16.6%,#5a5aff 20.5%,#66f 23.4%,#b0b0ff 26.4%,#fbfbff 28.3%,#fffcfc 29.3%,#ffefef 33.2%,#ffc1c1 40%,#ffc1c1 42%,#ffc2c2 53.7%,#fffefe 62.5%,#fafaff 64.5%,#fafaff 78.1%,#ccf 86.9%,#ccf 90.8%,#d1d1ff 91.8%,#dfdfff 92.8%,#e0e0ff 100%)"></i><i style="top:100px;background:linear-gradient(90deg,#bcbcff 0%,#babaff 9.8%,#6c6cff 16.6%,#5a5aff 20.5%,#66f 23.4%,#b0b0ff 26.4%,#fcfcff 28.3%,#fffbfb 29.3%,#fee 33.2%,#ffb8b8 40%,#ffc9c9 45.9%,#ffc2c2 53.7%,#fffefe 62.5%,#fafaff 64.5%,#fafaff 78.1%,#ccf 86.9%,#ccf 90.8%,#d1d1ff 91.8%,#dfdfff 92.8%,#e0e0ff 100%)"></i><i style="top:102px;background:linear-gradient(90deg,#bcbcff 0%,#babaff 9.8%,#6c6cff 16.6%,#5a5aff 20.5%,#66f 23.4%,#b1b1ff 26.4%,#fefeff 28.3%,#ffe4e4 34.2%,#ffb7b7 38.1%,#ffa9a9 40%,#ffd1d1 45.9%,#ffc3c3 50.8%,#ffc2c2 53.7%,#fffefe 62.5%,#fafaff 64.5%,#fafaff 78.1%,#cdcdff 86.9%,#cdcdff 90.8%,#d1d1ff 91.8%,#dfdfff 92.8%,#e0e0ff 100%)"></i><i style="top:104px;background:linear-gradient(90deg,#bcbcff 0%,#babaff 9.8%,#6c6cff 16.6%,#5a5aff 20.5%,#66f 23.4%,#b2b2ff 26.4%,#fffdfd 28.3%,#ffecec 30.3%,#ffe0e0 34.2%,#ffa6a6 38.1%,#ff9595 40%,#ffd4d4 45.9%,#ffc6c6 49.8%,#ffc3c3 53.7%,#fffefe 62.5%,#fafaff 64.5%,#fafaff 78.1%,#cdcdff 86.9%,#cdcdff 90.8%,#d1d1ff 91.8%,#dfdfff 92.8%,#e0e0ff 100%)"></i><i style="top:106px;background:linear-gradient(90deg,#bcbcff 0%,#babaff 9.8%,#6c6cff 16.6%,#5a5aff 20.5%,#66f 23.4%,#b4b4ff 26.4%,#dbdbff 27.3%,#fff8f8 28.3%,#ffe2e2 30.3%,#ffdcdc 34.2%,#ffd0d0 35.2%,#ff9696 38.1%,#ff8484 40%,#ff8d8d 41%,#ffbaba 43.9%,#fcc 45.9%,#ffc3c3 53.7%,#fffefe 62.5%,#fafaff 64.5%,#fafaff 78.1%,#cdcdff 86.9%,#cdcdff 90.8%,#d1d1ff 91.8%,#dfdfff 92.8%,#e0e0ff 100%)"></i><i style="top:108px;background:linear-gradient(90deg,#bcbcff 0%,#babaff 9.8%,#6c6cff 16.6%,#5a5aff 20.5%,#66f 23.4%,#b5b5ff 26.4%,#dedeff 27.3%,#fff4f4 28.3%,#ffe2e2 29.3%,#ffd9d9 30.3%,#ffd9d9 34.2%,#fbb 36.1%,#ff9090 38.1%,#ff8181 39.1%,#ff7e7e 40%,#ffbebe 44.9%,#ffc6c6 46.9%,#ffc4c4 53.7%,#fffefe 62.5%,#fafaff 64.5%,#fafaff 78.1%,#ceceff 86.9%,#ceceff 90.8%,#d1d1ff 91.8%,#dfdfff 92.8%,#e0e0ff 100%)"></i><i style="top:110px;background:linear-gradient(90deg,#bcbcff 0%,#babaff 9.8%,#6c6cff 16.6%,#5b5bff 20.5%,#66f 23.4%,#b6b6ff 26.4%,#dedeff 27.3%,#fff3f3 28.3%,#ffe0e0 29.3%,#ffd7d7 30.3%,#ffd9d9 34.2%,#ffcfcf 35.2%,#ff9696 38.1%,#f88 39.1%,#ff8585 40%,#ffbdbd 44.9%,#ffc4c4 47.9%,#ffc5c5 53.7%,#fffefe 62.5%,#f9f9ff 65.4%,#f9f9ff 79.1%,#cfcfff 85.9%,#d1d1ff 91.8%,#dfdfff 92.8%,#e0e0ff 100%)"></i><i style="top:112px;background:linear-gradient(90deg,#bcbcff 0%,#babaff 9.8%,#6c6cff 16.6%,#5b5bff 20.5%,#66f 23.4%,#b6b6ff 26.4%,#ddf 27.3%,#fff7f7 28.3%,#ffe5e5 29.3%,#ffdede 30.3%,#fdd 34.2%,#ffd4d4 35.2%,#ffa5a5 38.1%,#ff9797 40%,#ffbfbf 44.9%,#ffc5c5 53.7%,#fffefe 62.5%,#f9f9ff 65.4%,#f9f9ff 79.1%,#d0d0ff 85.9%,#cfcfff 86.9%,#d0d0ff 91.8%,#dfdfff 92.8%,#e0e0ff 100%)"></i><i style="top:114px;background:linear-gradient(90deg,#bcbcff 0%,#babaff 9.8%,#6c6cff 16.6%,#5b5bff 20.5%,#6767ff 23.4%,#b6b6ff 26.4%,#fffdfd 28.3%,#fee 29.3%,#ffe8e8 30.3%,#ffe1e1 34.2%,#ffb7b7 38.1%,#ffabab 40%,#ffc2c2 44.9%,#ffc6c6 53.7%,#fffefe 62.5%,#f9f9ff 65.4%,#f9f9ff 79.1%,#d0d0ff 85.9%,#d0d0ff 91.8%,#dfdfff 92.8%,#e0e0ff 100%)"></i><i style="top:116px;background:linear-gradient(90deg,#bcbcff 0%,#babaff 9.8%,#6c6cff 16.6%,#5b5bff 20.5%,#6868ff 23.4%,#b6b6ff 26.4%,#fbfbff 28.3%,#fff6f6 29.3%,#ffe5e5 34.2%,#ffbdbd 39.1%,#fbb 40%,#ffc4c4 44.9%,#ffc7c7 53.7%,#fffefe 62.5%,#f9f9ff 65.4%,#f9f9ff 79.1%,#d1d1ff 85.9%,#d1d1ff 91.8%,#dfdfff 92.8%,#e0e0ff 100%)"></i><i style="top:118px;background:linear-gradient(90deg,#bcbcff 0%,#babaff 9.8%,#6c6cff 16.6%,#5b5bff 20.5%,#6868ff 23.4%,#b6b6ff 26.4%,#f7f7ff 28.3%,#fffafa 29.3%,#ffe7e7 34.2%,#ffc6c6 39.1%,#ffc4c4 41%,#ffc8c8 53.7%,#fffefe 62.5%,#f9f9ff 65.4%,#f9f9ff 79.1%,#d2d2ff 85.9%,#d2d2ff 91.8%,#dfdfff 92.8%,#e0e0ff 93.8%,#e0e0ff 100%)"></i><i style="top:120px;background:linear-gradient(90deg,#bcbcff 0%,#babaff 9.8%,#6c6cff 16.6%,#5b5bff 20.5%,#6969ff 23.4%,#b7b7ff 26.4%,#f5f5ff 28.3%,#fffdfd 29.3%,#ffe8e8 34.2%,#ffcaca 39.1%,#ffc6c6 45.9%,#ffcaca 53.7%,#fffefe 62.5%,#f9f9ff 65.4%,#f9f9ff 79.1%,#d3d3ff 85.9%,#d3d3ff 91.8%,#dfdfff 92.8%,#e0e0ff 93.8%,#e0e0ff 100%)"></i><i style="top:122px;background:linear-gradient(90deg,#bcbcff 0%,#babaff 9.8%,#6c6cff 16.6%,#5b5bff 20.5%,#6a6aff 23.4%,#b7b7ff 26.4%,#f4f4ff 28.3%,#fffdfd 29.3%,#fff8f8 31.3%,#fcc 39.1%,#ffc7c7 46.9%,#ffcbcb 53.7%,#fffefe 62.5%,#f8f8ff 65.4%,#f9f9ff 79.1%,#d4d4ff 85.9%,#d4d4ff 91.8%,#dfdfff 92.8%,#e0e0ff 93.8%,#e0e0ff 100%)"></i><i style="top:124px;background:linear-gradient(90deg,#bcbcff 0%,#babaff 9.8%,#6c6cff 16.6%,#5b5bff 20.5%,#6b6bff 23.4%,#b8b8ff 26.4%,#f4f4ff 28.3%,#fffefe 29.3%,#ffcdcd 39.1%,#ffc8c8 47.9%,#fcc 53.7%,#fffefe 62.5%,#f8f8ff 65.4%,#fafaff 79.1%,#d5d5ff 85.9%,#d5d5ff 91.8%,#dfdfff 92.8%,#e0e0ff 93.8%,#e0e0ff 100%)"></i><i style="top:126px;background:linear-gradient(90deg,#bcbcff 0%,#babaff 9.8%,#6c6cff 16.6%,#5b5bff 20.5%,#6c6cff 23.4%,#f3f3ff 28.3%,#fffefe 29.3%,#ffcdcd 39.1%,#ffc8c8 45.9%,#ffcdcd 53.7%,#fffefe 62.5%,#f8f8ff 65.4%,#fafaff 79.1%,#d6d6ff 85.9%,#d6d6ff 91.8%,#e0e0ff 93.8%,#e0e0ff 100%)"></i><i style="top:128px;background:linear-gradient(90deg,#bcbcff 0%,#babaff 9.8%,#6c6cff 16.6%,#5b5bff 20.5%,#6c6cff 23.4%,#f2f2ff 28.3%,#fffefe 29.3%,#fff9f9 31.3%,#ffcece 39.1%,#ffc9c9 46.9%,#ffcfcf 53.7%,#fffefe 62.5%,#f8f8ff 65.4%,#fafaff 79.1%,#d7d7ff 85.9%,#e0e0ff 100%)"></i><i style="top:130px;background:linear-gradient(90deg,#bcbcff 0%,#babaff 9.8%,#6c6cff 16.6%,#5b5bff 20.5%,#6d6dff 23.4%,#f2f2ff 28.3%,#fffefe 29.3%,#fff9f9 31.3%,#ffcece 39.1%,#ffc9c9 45.9%,#ffd0d0 53.7%,#fffefe 62.5%,#f8f8ff 65.4%,#fafaff 79.1%,#d7d7ff 85.9%,#e0e0ff 100%)"></i><i style="top:132px;background:linear-gradient(90deg,#bcbcff 0%,#babaff 9.8%,#6c6cff 16.6%,#5b5bff 20.5%,#6363ff 22.5%,#6e6eff 23.4%,#f1f1ff 28.3%,#fffefe 29.3%,#fff9f9 31.3%,#ffcfcf 39.1%,#ffcaca 46.9%,#ffd1d1 53.7%,#fffefe 62.5%,#f7f7ff 65.4%,#fafaff 79.1%,#d8d8ff 85.9%,#e0e0ff 100%)"></i><i style="top:134px;background:linear-gradient(90deg,#bcbcff 0%,#babaff 9.8%,#6c6cff 16.6%,#5b5bff 20.5%,#6363ff 22.5%,#6e6eff 23.4%,#f1f1ff 28.3%,#fffefe 29.3%,#fffafa 31.3%,#ffd2d2 38.1%,#ffcaca 45.9%,#ffd2d2 53.7%,#fffefe 62.5%,#f7f7ff 65.4%,#fafaff 79.1%,#d9d9ff 85.9%,#e0e0ff 100%)"></i><i style="top:136px;background:linear-gradient(90deg,#bcbcff 0%,#babaff 9.8%,#6c6cff 16.6%,#5b5bff 20.5%,#6363ff 22.5%,#6f6fff 23.4%,#f1f1ff 28.3%,#fffefe 29.3%,#fffafa 31.3%,#ffcfcf 39.1%,#ffcbcb 46.9%,#ffcfcf 52.7%,#fffefe 62.5%,#f7f7ff 65.4%,#fafaff 79.1%,#dadaff 85.9%,#e0e0ff 100%)"></i><i style="top:138px;background:linear-gradient(90deg,#bcbcff 0%,#babaff 9.8%,#6c6cff 16.6%,#5b5bff 20.5%,#6363ff 22.5%,#6f6fff 23.4%,#f0f0ff 28.3%,#fffefe 29.3%,#fffafa 31.3%,#ffd2d2 38.1%,#ffcbcb 45.9%,#ffd0d0 52.7%,#fffefe 62.5%,#f7f7ff 65.4%,#fafaff 79.1%,#dadaff 85.9%,#e0e0ff 100%)"></i><i style="top:140px;background:linear-gradient(90deg,#bcbcff 0%,#babaff 9.8%,#6c6cff 16.6%,#5b5bff 20.5%,#6363ff 22.5%,#7070ff 23.4%,#f0f0ff 28.3%,#fffefe 29.3%,#fffafa 31.3%,#ffd2d2 38.1%,#fcc 46.9%,#ffd0d0 52.7%,#fffefe 62.5%,#f7f7ff 65.4%,#fafaff 79.1%,#dbdbff 85%,#e0e0ff 100%)"></i><i style="top:142px;background:linear-gradient(90deg,#bcbcff 0%,#babaff 9.8%,#6c6cff 16.6%,#5b5bff 20.5%,#6464ff 22.5%,#7070ff 23.4%,#f0f0ff 28.3%,#fffefe 29.3%,#fffafa 31.3%,#ffd2d2 38.1%,#fcc 46.9%,#ffd4d4 53.7%,#fffefe 62.5%,#f7f7ff 65.4%,#fafaff 79.1%,#dbdbff 85.9%,#e0e0ff 100%)"></i><i style="top:144px;background:linear-gradient(90deg,#bcbcff 0%,#babaff 9.8%,#6c6cff 16.6%,#5b5bff 20.5%,#6464ff 22.5%,#7070ff 23.4%,#f0f0ff 28.3%,#fffefe 29.3%,#fffafa 31.3%,#ffd2d2 38.1%,#fcc 45.9%,#ffd1d1 52.7%,#fffefe 62.5%,#f7f7ff 65.4%,#fafaff 79.1%,#dbdbff 85.9%,#e0e0ff 100%)"></i><i style="top:146px;background:linear-gradient(90deg,#bcbcff 0%,#babaff 9.8%,#6c6cff 16.6%,#5b5bff 20.5%,#6464ff 22.5%,#7070ff 23.4%,#f0f0ff 28.3%,#fffefe 29.3%,#fffafa 31.3%,#ffd2d2 38.1%,#fcc 45.9%,#ffd1d1 52.7%,#fffefe 62.5%,#f7f7ff 65.4%,#fafaff 79.1%,#dbdbff 85.9%,#e0e0ff 100%)"></i><i style="top:148px;background:linear-gradient(90deg,#bcbcff 0%,#babaff 9.8%,#6c6cff 16.6%,#5b5bff 20.5%,#6464ff 22.5%,#7070ff 23.4%,#f0f0ff 28.3%,#fffefe 29.3%,#fffafa 31.3%,#ffd2d2 38.1%,#fcc 45.9%,#ffd1d1 52.7%,#fffefe 62.5%,#f7f7ff 65.4%,#fafaff 79.1%,#dbdbff 85.9%,#e0e0ff 100%)"></i><i style="top:150px;background:linear-gradient(90deg,#bcbcff 0%,#babaff 9.8%,#6c6cff 16.6%,#5b5bff 20.5%,#6464ff 22.5%,#7070ff 23.4%,#f0f0ff 28.3%,#fffefe 29.3%,#fffafa 31.3%,#ffd2d2 38.1%,#fcc 45.9%,#ffd1d1 52.7%,#fffefe 62.5%,#f7f7ff 65.4%,#fafaff 79.1%,#dcdcff 85%,#e0e0ff 100%)"></i><i style="top:152px;background:linear-gradient(90deg,#bcbcff 0%,#babaff 9.8%,#6b6bff 16.6%,#5b5bff 20.5%,#6464ff 22.5%,#7070ff 23.4%,#f1f1ff 28.3%,#fffefe 29.3%,#fffafa 31.3%,#ffd3d3 38.1%,#ffcdcd 46.9%,#ffd5d5 53.7%,#fffefe 62.5%,#f7f7ff 65.4%,#fafaff 79.1%,#dcdcff 85%,#e0e0ff 100%)"></i><i style="top:154px;background:linear-gradient(90deg,#bcbcff 0%,#babaff 9.8%,#6b6bff 16.6%,#5c5cff 20.5%,#6464ff 22.5%,#7070ff 23.4%,#f2f2ff 28.3%,#fffefe 29.3%,#fffafa 31.3%,#ffd4d4 38.1%,#ffcdcd 45.9%,#ffd2d2 52.7%,#fffdfd 62.5%,#f7f7ff 65.4%,#fafaff 79.1%,#dcdcff 85.9%,#e0e0ff 100%)"></i><i style="top:156px;background:linear-gradient(90deg,#bcbcff 0%,#babaff 9.8%,#6a6aff 16.6%,#5c5cff 20.5%,#6464ff 22.5%,#7070ff 23.4%,#f3f3ff 28.3%,#fffefe 29.3%,#fffafa 31.3%,#ffd5d5 38.1%,#ffcece 46.9%,#ffd2d2 52.7%,#fffdfd 62.5%,#f7f7ff 65.4%,#fafaff 79.1%,#ddf 85%,#e0e0ff 100%)"></i><i style="top:158px;background:linear-gradient(90deg,#bcbcff 0%,#babaff 9.8%,#6a6aff 16.6%,#5c5cff 20.5%,#6464ff 22.5%,#7070ff 23.4%,#f4f4ff 28.3%,#fffefe 29.3%,#fffafa 31.3%,#ffd6d6 38.1%,#ffcece 45.9%,#ffd4d4 53.7%,#fffdfd 62.5%,#f7f7ff 65.4%,#fafaff 79.1%,#ddf 85.9%,#e0e0ff 100%)"></i><i style="top:160px;background:linear-gradient(90deg,#bcbcff 0%,#babaff 9.8%,#6969ff 16.6%,#5c5cff 20.5%,#6464ff 22.5%,#7070ff 23.4%,#f6f6ff 28.3%,#fffefe 29.3%,#fffafa 31.3%,#ffd7d7 38.1%,#ffcfcf 46.9%,#ffd1d1 53.7%,#fefeff 63.5%,#f7f7ff 65.4%,#fafaff 79.1%,#dedeff 85%,#e0e0ff 100%)"></i><i style="top:162px;background:linear-gradient(90deg,#bcbcff 0%,#babaff 9.8%,#6969ff 16.6%,#5b5bff 19.5%,#6464ff 22.5%,#7070ff 23.4%,#f7f7ff 28.3%,#fffefe 29.3%,#fffafa 31.3%,#ffd8d8 38.1%,#ffcaca 52.7%,#fefeff 63.5%,#f7f7ff 65.4%,#fafaff 79.1%,#dfdfff 85%,#e0e0ff 100%)"></i><i style="top:164px;background:linear-gradient(90deg,#bcbcff 0%,#babaff 9.8%,#6868ff 16.6%,#5b5bff 19.5%,#6464ff 22.5%,#7070ff 23.4%,#f8f8ff 28.3%,#fffefe 29.3%,#fffafa 31.3%,#ffd9d9 38.1%,#ffcfcf 48.8%,#ffc2c2 52.7%,#ffe9e9 58.6%,#fefeff 63.5%,#f7f7ff 65.4%,#fafaff 79.1%,#dfdfff 85.9%,#e0e0ff 100%)"></i><i style="top:166px;background:linear-gradient(90deg,#bcbcff 0%,#babaff 9.8%,#6868ff 16.6%,#5b5bff 19.5%,#6464ff 22.5%,#7070ff 23.4%,#bebeff 26.4%,#fafaff 28.3%,#fffefe 29.3%,#ffdada 38.1%,#ffcece 47.9%,#ffb8b8 51.8%,#ffb9b9 52.7%,#ffd7d7 55.7%,#ffe4e4 57.6%,#fff 63.5%,#f7f7ff 65.4%,#fafaff 79.1%,#e0e0ff 85%,#e0e0ff 100%)"></i><i style="top:168px;background:linear-gradient(90deg,#bcbcff 0%,#babaff 9.8%,#6767ff 16.6%,#5b5bff 19.5%,#6464ff 22.5%,#7070ff 23.4%,#a3a3ff 25.4%,#fbfbff 28.3%,#fffefe 29.3%,#ffdbdb 38.1%,#ffcdcd 46.9%,#ffadad 50.8%,#ffacac 51.8%,#ffe0e0 56.6%,#fff 63.5%,#f7f7ff 65.4%,#fafaff 79.1%,#e0e0ff 85%,#e0e0ff 100%)"></i><i style="top:170px;background:linear-gradient(90deg,#bcbcff 0%,#babaff 9.8%,#6767ff 16.6%,#5b5bff 19.5%,#6464ff 22.5%,#7070ff 23.4%,#a3a3ff 25.4%,#fcfcff 28.3%,#fffdfd 29.3%,#fffafa 31.3%,#ffdbdb 38.1%,#ffd1d1 44.9%,#ffc6c6 46.9%,#ffa1a1 49.8%,#ff9e9e 50.8%,#ffa6a6 51.8%,#ffc6c6 53.7%,#ffdcdc 55.7%,#fff 63.5%,#f7f7ff 65.4%,#fafaff 79.1%,#e0e0ff 85.9%,#e0e0ff 100%)"></i><i style="top:172px;background:linear-gradient(90deg,#bcbcff 0%,#babaff 9.8%,#6767ff 16.6%,#5c5cff 20.5%,#6464ff 22.5%,#7070ff 23.4%,#a3a3ff 25.4%,#fcfcff 28.3%,#fffafa 31.3%,#ffdcdc 38.1%,#ffd2d2 43.9%,#ffc4c4 45.9%,#ff9696 48.8%,#ff9090 49.8%,#ff9898 50.8%,#fcc 53.7%,#ffd7d7 54.7%,#fff 63.5%,#f7f7ff 65.4%,#fafaff 79.1%,#e0e0ff 85.9%,#e0e0ff 100%)"></i><i style="top:174px;background:linear-gradient(90deg,#bcbcff 0%,#babaff 9.8%,#6767ff 16.6%,#5c5cff 20.5%,#6363ff 22.5%,#7070ff 23.4%,#bdbdff 26.4%,#f9f9ff 28.3%,#fefeff 29.3%,#fffcfc 31.3%,#fdd 38.1%,#ffcfcf 43.9%,#ffc6c6 44.9%,#ff9090 47.9%,#ff8787 48.8%,#ff8d8d 49.8%,#ffb5b5 51.8%,#ffd3d3 53.7%,#fff 63.5%,#f7f7ff 65.4%,#fafaff 79.1%,#e0e0ff 85.9%,#e0e0ff 100%)"></i><i style="top:176px;background:linear-gradient(90deg,#bcbcff 0%,#b7b7ff 9.8%,#6868ff 16.6%,#5a5aff 20.5%,#6262ff 22.5%,#6d6dff 23.4%,#eef 28.3%,#f6f6ff 29.3%,#fcfcff 32.2%,#ffe1e1 38.1%,#ffd1d1 43%,#ffb9b9 44.9%,#ff8f8f 46.9%,#ff8484 47.9%,#f88 48.8%,#ffc3c3 51.8%,#ffd0d0 52.7%,#fff 63.5%,#f7f7ff 65.4%,#fafaff 79.1%,#e0e0ff 85.9%,#e0e0ff 100%)"></i><i style="top:178px;background:linear-gradient(90deg,#bbf 0%,#babaff 8.8%,#a0a0ff 11.7%,#7a7aff 14.6%,#6868ff 16.6%,#5757ff 20.5%,#5f5fff 22.5%,#6a6aff 23.4%,#e0e0ff 28.3%,#eaeaff 29.3%,#f3f3ff 33.2%,#fefeff 34.2%,#ffc8c8 43%,#ff9292 45.9%,#ff8686 46.9%,#f88 47.9%,#ffc3c3 50.8%,#ffcfcf 51.8%,#fff 63.5%,#f7f7ff 65.4%,#fafaff 79.1%,#e0e0ff 85.9%,#e0e0ff 100%)"></i><i style="top:180px;background:linear-gradient(90deg,#bbf 0%,#b7b7ff 8.8%,#5f5fff 17.6%,#5454ff 20.5%,#66f 23.4%,#adadff 26.4%,#d2d2ff 28.3%,#ddf 29.3%,#e4e4ff 33.2%,#f7f7ff 35.2%,#fff9f9 36.1%,#ffcdcd 41%,#ff8d8d 44.9%,#ff8484 45.9%,#f88 46.9%,#ffc4c4 49.8%,#ffd1d1 50.8%,#ffdbdb 52.7%,#ffe3e3 57.6%,#fff 63.5%,#f7f7ff 65.4%,#fafaff 79.1%,#e0e0ff 85.9%,#e1e1ff 100%)"></i><i style="top:182px;background:linear-gradient(90deg,#bbf 0%,#babaff 7.8%,#9a9aff 11.7%,#7878ff 14.6%,#5f5fff 17.6%,#5252ff 20.5%,#6363ff 23.4%,#a8a8ff 26.4%,#d2d2ff 29.3%,#dbdbff 34.2%,#f7f7ff 36.1%,#fff6f6 37.1%,#ffe9e9 38.1%,#ffc8c8 40%,#ff8787 43%,#ff7676 43.9%,#ff7070 44.9%,#ff7a7a 45.9%,#ffc7c7 48.8%,#ffdfdf 50.8%,#ffe2e2 57.6%,#fefeff 63.5%,#f7f7ff 65.4%,#fafaff 79.1%,#e0e0ff 85.9%,#e2e2ff 100%)"></i><i style="top:184px;background:linear-gradient(90deg,#bbf 0%,#babaff 7.8%,#a2a2ff 10.7%,#6f6fff 15.6%,#5151ff 20.5%,#6262ff 23.4%,#a6a6ff 26.4%,#cdcdff 29.3%,#dcdcff 35.2%,#efefff 36.1%,#fff8f8 37.1%,#ffc9c9 39.1%,#f66 42%,#ff4d4d 43%,#f44 43.9%,#ff5151 44.9%,#ff7070 45.9%,#ffbfbf 47.9%,#fdd 48.8%,#ffefef 49.8%,#fff6f6 50.8%,#ffe3e3 54.7%,#ffe0e0 56.6%,#fefeff 63.5%,#f7f7ff 65.4%,#fafaff 79.1%,#e0e0ff 85.9%,#e5e5ff 100%)"></i><i style="top:186px;background:linear-gradient(90deg,#bbf 0%,#babaff 7.8%,#a2a2ff 10.7%,#77f 14.6%,#5f5fff 17.6%,#5151ff 20.5%,#6464ff 23.4%,#a7a7ff 26.4%,#ccf 29.3%,#dbdbff 35.2%,#f1f1ff 36.1%,#fff3f3 37.1%,#ffb3b3 39.1%,#ff2d2d 42%,#ff1313 43%,#ff1515 43.9%,#ff3232 44.9%,#ffcdcd 47.9%,#fff5f5 48.8%,#eef 49.8%,#e5e5ff 50.8%,#fbfbff 52.7%,#ffe9e9 54.7%,#ffe1e1 56.6%,#fff 63.5%,#f6f6ff 66.4%,#fafaff 79.1%,#e0e0ff 85.9%,#e1e1ff 93.8%,#ebebff 97.7%,#eaeaff 100%)"></i><i style="top:188px;background:linear-gradient(90deg,#bbf 0%,#b9b9ff 7.8%,#5e5eff 17.6%,#5353ff 20.5%,#5d5dff 22.5%,#6b6bff 23.4%,#a9a9ff 26.4%,#c2c2ff 28.3%,#d7d7ff 35.2%,#f0f0ff 36.1%,#ffefef 37.1%,#ffcdcd 38.1%,#ffa2a2 39.1%,#ff3636 41%,#ff0707 42%,#f00 43%,#f00 43.9%,#ff2121 44.9%,#ffd3d3 47.9%,#f9f9ff 48.8%,#d8d8ff 49.8%,#ccf 50.8%,#d5d5ff 51.8%,#fffdfd 53.7%,#ffe6e6 55.7%,#ffe3e3 57.6%,#fdfdff 64.5%,#f5f5ff 66.4%,#fafaff 79.1%,#e0e0ff 85.9%,#e1e1ff 93.8%,#f5f5ff 98.6%,#f1f1ff 100%)"></i><i style="top:190px;background:linear-gradient(90deg,#bbf 0%,#b9b9ff 7.8%,#6565ff 16.6%,#5454ff 19.5%,#55f 20.5%,#6363ff 22.5%,#a1a1ff 25.4%,#c2c2ff 28.3%,#d3d3ff 35.2%,#ebebff 36.1%,#fff0f0 37.1%,#ff9d9d 39.1%,#ff2f2f 41%,#ff0404 42%,#f00 43%,#f00 43.9%,#f22 44.9%,#ffcbcb 47.9%,#fffbfb 48.8%,#e2e2ff 49.8%,#d5d5ff 50.8%,#ddf 51.8%,#fffbfb 53.7%,#ffe7e7 55.7%,#ffe4e4 57.6%,#fdfdff 65.4%,#f2f2ff 68.4%,#fafaff 79.1%,#e0e0ff 85.9%,#e2e2ff 93.8%,#fdfdff 98.6%,#f7f7ff 100%)"></i><i style="top:192px;background:linear-gradient(90deg,#bbf 0%,#b8b8ff 7.8%,#a0a0ff 10.7%,#6c6cff 15.6%,#5454ff 19.5%,#6161ff 21.5%,#8989ff 23.4%,#a8a8ff 25.4%,#bebeff 28.3%,#cdcdff 35.2%,#e2e2ff 36.1%,#fff6f6 37.1%,#ffa3a3 39.1%,#ff3f3f 41%,#ff1b1b 42%,#ff0b0b 43%,#ff1414 43.9%,#f33 44.9%,#ffbaba 47.9%,#ffe0e0 48.8%,#fffafa 49.8%,#f9f9ff 50.8%,#fffafa 52.7%,#ffe9e9 54.7%,#ffe5e5 56.6%,#fdfdff 66.4%,#eef 69.3%,#fafaff 79.1%,#e0e0ff 85.9%,#e2e2ff 93.8%,#fff 98.6%,#f9f9ff 100%)"></i><i style="top:194px;background:linear-gradient(90deg,#bbf 0%,#b8b8ff 7.8%,#6b6bff 15.6%,#5454ff 19.5%,#66f 21.5%,#9f9fff 23.4%,#acacff 24.4%,#bbf 28.3%,#c8c8ff 35.2%,#d8d8ff 36.1%,#fffefe 37.1%,#ff5a5a 41%,#ff3a3a 42%,#ff2b2b 43%,#ff3030 43.9%,#ff4646 44.9%,#ffabab 47.9%,#ffc7c7 48.8%,#ffdbdb 49.8%,#ffe6e6 50.8%,#ffe7e7 57.6%,#fffefe 66.4%,#ededff 70.3%,#fafaff 79.1%,#e0e0ff 85.9%,#e1e1ff 93.8%,#fafaff 98.6%,#f5f5ff 100%)"></i><i style="top:196px;background:linear-gradient(90deg,#bbf 0%,#b8b8ff 7.8%,#6262ff 16.6%,#55f 19.5%,#6969ff 21.5%,#b7b7ff 23.4%,#c3c3ff 24.4%,#b2b2ff 26.4%,#c4c4ff 35.2%,#d0d0ff 36.1%,#f7f7ff 37.1%,#ffbfbf 39.1%,#ff5656 42%,#ff4747 43%,#ff4747 43.9%,#f55 44.9%,#ffa4a4 47.9%,#fcc 49.8%,#ffd7d7 50.8%,#ffe0e0 52.7%,#fefeff 67.4%,#ebebff 71.3%,#fafaff 79.1%,#e0e0ff 85.9%,#e1e1ff 93.8%,#f1f1ff 98.6%,#eef 100%)"></i><i style="top:198px;background:linear-gradient(90deg,#bbf 0%,#b8b8ff 7.8%,#6262ff 16.6%,#55f 19.5%,#6969ff 21.5%,#9595ff 22.5%,#cacaff 23.4%,#dcdcff 24.4%,#b6b6ff 26.4%,#c2c2ff 34.2%,#c5c5ff 35.2%,#d4d4ff 36.1%,#f8f8ff 37.1%,#ffcfcf 39.1%,#ff7373 42%,#ff6161 43%,#ff5b5b 43.9%,#ff6262 44.9%,#ff7474 45.9%,#ffa4a4 47.9%,#ffc9c9 49.8%,#ffdede 52.7%,#fff 67.4%,#ebebff 71.3%,#f9f9ff 79.1%,#e0e0ff 85.9%,#e7e7ff 100%)"></i><i style="top:200px;background:linear-gradient(90deg,#bbf 0%,#b7b7ff 7.8%,#9e9eff 10.7%,#6969ff 15.6%,#55f 19.5%,#6767ff 21.5%,#9595ff 22.5%,#d5d5ff 23.4%,#f3f3ff 24.4%,#bfbfff 26.4%,#bdbdff 27.3%,#cdcdff 35.2%,#ebebff 36.1%,#fff5f5 37.1%,#ffd9d9 39.1%,#ff8181 43%,#ff7474 43.9%,#ff7373 44.9%,#ff7c7c 45.9%,#ffc9c9 49.8%,#ffdbdb 51.8%,#fffdfd 67.4%,#eef 71.3%,#f6f6ff 80.1%,#e0e0ff 85.9%,#e3e3ff 100%)"></i><i style="top:202px;background:linear-gradient(90deg,#bbf 0%,#b6b6ff 7.8%,#5f5fff 16.6%,#55f 19.5%,#6464ff 21.5%,#8f8fff 22.5%,#d2d2ff 23.4%,#fdfdff 24.4%,#cbcbff 26.4%,#c6c6ff 27.3%,#d9d9ff 34.2%,#f3f3ff 35.2%,#fff4f4 36.1%,#ffe0e0 39.1%,#ffc7c7 41%,#ff9595 43.9%,#ff8a8a 44.9%,#f88 45.9%,#ff9090 46.9%,#ffc2c2 49.8%,#ffd9d9 51.8%,#ffe3e3 54.7%,#ffe8e8 60.5%,#fffefe 68.4%,#f0f0ff 72.3%,#f5f5ff 80.1%,#e0e0ff 85.9%,#e1e1ff 100%)"></i><i style="top:204px;background:linear-gradient(90deg,#bbf 0%,#b5b5ff 7.8%,#6e6eff 14.6%,#5454ff 18.6%,#6161ff 21.5%,#8787ff 22.5%,#c4c4ff 23.4%,#f6f6ff 24.4%,#efefff 25.4%,#d7d7ff 26.4%,#d0d0ff 28.3%,#e5e5ff 32.2%,#fffafa 34.2%,#ffeded 35.2%,#ffe3e3 40%,#ffd4d4 42%,#ffa8a8 44.9%,#ff9797 46.9%,#ffa6a6 48.8%,#ffd1d1 51.8%,#ffdfdf 53.7%,#ffe2e2 59.6%,#fffdfd 69.3%,#f4f4ff 72.3%,#f3f3ff 80.1%,#e0e0ff 85.9%,#e1e1ff 100%)"></i><i style="top:206px;background:linear-gradient(90deg,#bbf 0%,#b3b3ff 7.8%,#6c6cff 14.6%,#5353ff 18.6%,#6060ff 21.5%,#8282ff 22.5%,#e3e3ff 24.4%,#ececff 25.4%,#dfdfff 26.4%,#ddf 28.3%,#fcfcff 31.3%,#fff2f2 32.2%,#ffe2e2 33.2%,#ffe1e1 34.2%,#fee 38.1%,#ffe9e9 42%,#ffd5d5 43.9%,#faa 46.9%,#ffa3a3 47.9%,#ffacac 49.8%,#ffd0d0 52.7%,#fdd 54.7%,#ffdede 59.6%,#fefeff 71.3%,#f7f7ff 73.2%,#f0f0ff 81.1%,#e0e0ff 85.9%,#e0e0ff 100%)"></i><i style="top:208px;background:linear-gradient(90deg,#bbf 0%,#b8b8ff 6.8%,#a0a0ff 9.8%,#6a6aff 14.6%,#5252ff 18.6%,#6161ff 21.5%,#7f7fff 22.5%,#cfcfff 24.4%,#e3e3ff 25.4%,#e4e4ff 27.3%,#fbfbff 29.3%,#fff2f2 30.3%,#ffcaca 32.2%,#ffeded 36.1%,#fff5f5 39.1%,#fff4f4 42%,#ffe8e8 43.9%,#ffb8b8 47.9%,#ffafaf 49.8%,#ffd7d7 54.7%,#fdd 60.5%,#fff 72.3%,#e0e0ff 85.9%,#e0e0ff 100%)"></i><i style="top:210px;background:linear-gradient(90deg,#bbf 0%,#b8b8ff 6.8%,#9f9fff 9.8%,#7b7bff 12.7%,#6060ff 15.6%,#5151ff 18.6%,#6262ff 21.5%,#c1c1ff 24.4%,#d8d8ff 25.4%,#f9f9ff 28.3%,#fff2f2 29.3%,#ffc5c5 31.3%,#ffc4c4 32.2%,#ffeaea 35.2%,#fff1f1 36.1%,#fffcfc 40%,#fff0f0 43.9%,#ffe3e3 45.9%,#ffc5c5 48.8%,#ffbcbc 50.8%,#ffd6d6 55.7%,#ffd8d8 59.6%,#fffefe 73.2%,#e0e0ff 85.9%,#e0e0ff 100%)"></i><i style="top:212px;background:linear-gradient(90deg,#bbf 0%,#b8b8ff 6.8%,#5f5fff 15.6%,#5151ff 18.6%,#6262ff 21.5%,#d0d0ff 25.4%,#fffefe 28.3%,#ffc9c9 31.3%,#ffcdcd 32.2%,#fff5f5 36.1%,#fffefe 40%,#fff0f0 44.9%,#ffcbcb 50.8%,#ffc9c9 52.7%,#ffd5d5 56.6%,#ffd6d6 59.6%,#fefeff 74.2%,#e1e1ff 85.9%,#e0e0ff 100%)"></i></div></div><div class="hm" style="left:549.95px;top:2.5px;width:102.35px;height:213.1px"><div><i style="top:0px;background:linear-gradient(90deg,#c0c0ff 0%,#babaff 8.8%,#8484ff 13.7%,#6060ff 18.6%,#6a6aff 20.5%,#7979ff 21.5%,#d5d5ff 25.4%,#e0e0ff 32.2%,#fff 34.2%,#fff6f6 36.2%,#ffcaca 40.1%,#ffc4c4 45.9%,#ffc8c8 51.8%,#fff7f7 56.7%,#fffafa 57.6%,#fefeff 76.2%,#ccf 85%,#ccf 93.8%,#e0e0ff 95.7%,#e0e0ff 100%)"></i><i style="top:2px;background:linear-gradient(90deg,#c0c0ff 0%,#babaff 8.8%,#8484ff 13.7%,#6060ff 18.6%,#6a6aff 20.5%,#7979ff 21.5%,#d5d5ff 25.4%,#e0e0ff 32.2%,#fff 34.2%,#fff6f6 36.2%,#ffcaca 40.1%,#ffc4c4 45.9%,#ffc8c8 51.8%,#fff7f7 56.7%,#fffafa 57.6%,#fefeff 76.2%,#ccf 85%,#ccf 93.8%,#e0e0ff 95.7%,#e0e0ff 100%)"></i><i style="top:4px;background:linear-gradient(90deg,#c0c0ff 0%,#babaff 8.8%,#8484ff 13.7%,#6060ff 18.6%,#6a6aff 20.5%,#7979ff 21.5%,#d5d5ff 25.4%,#e0e0ff 32.2%,#fff 34.2%,#fff6f6 36.2%,#ffcaca 40.1%,#ffc4c4 45.9%,#ffc8c8 51.8%,#fff7f7 56.7%,#fffafa 57.6%,#fefeff 76.2%,#ccf 85%,#ccf 93.8%,#e0e0ff 95.7%,#e0e0ff 100%)"></i><i style="top:6px;background:linear-gradient(90deg,#c0c0ff 0%,#babaff 8.8%,#8484ff 13.7%,#6060ff 18.6%,#6a6aff 20.5%,#7979ff 21.5%,#d5d5ff 25.4%,#e0e0ff 32.2%,#fff 34.2%,#fff6f6 36.2%,#ffcaca 40.1%,#ffc4c4 45.9%,#ffc8c8 51.8%,#fff7f7 56.7%,#fffafa 57.6%,#fefeff 76.2%,#ccf 85%,#ccf 93.8%,#e0e0ff 95.7%,#e0e0ff 100%)"></i><i style="top:8px;background:linear-gradient(90deg,#c0c0ff 0%,#babaff 8.8%,#8484ff 13.7%,#6060ff 18.6%,#6a6aff 20.5%,#7979ff 21.5%,#d5d5ff 25.4%,#e0e0ff 32.2%,#fff 34.2%,#fff6f6 36.2%,#ffcaca 40.1%,#ffc4c4 45.9%,#ffc8c8 51.8%,#fff7f7 56.7%,#fffafa 57.6%,#fefeff 76.2%,#ccf 85%,#ccf 93.8%,#e0e0ff 95.7%,#e0e0ff 100%)"></i><i style="top:10px;background:linear-gradient(90deg,#c0c0ff 0%,#babaff 8.8%,#8484ff 13.7%,#6060ff 18.6%,#6a6aff 20.5%,#7979ff 21.5%,#d5d5ff 25.4%,#e0e0ff 32.2%,#fff 34.2%,#fff6f6 36.2%,#ffcaca 40.1%,#ffc4c4 45.9%,#ffc8c8 51.8%,#fff7f7 56.7%,#fffafa 57.6%,#fefeff 76.2%,#ccf 85%,#ccf 93.8%,#e0e0ff 95.7%,#e0e0ff 100%)"></i><i style="top:12px;background:linear-gradient(90deg,#c0c0ff 0%,#babaff 8.8%,#8484ff 13.7%,#6060ff 18.6%,#6a6aff 20.5%,#7979ff 21.5%,#d5d5ff 25.4%,#e0e0ff 32.2%,#fff 34.2%,#fff6f6 36.2%,#ffcaca 40.1%,#ffc4c4 45.9%,#ffc8c8 51.8%,#fff7f7 56.7%,#fffafa 57.6%,#fefeff 76.2%,#ccf 85%,#ccf 93.8%,#e0e0ff 95.7%,#e0e0ff 100%)"></i><i style="top:14px;background:linear-gradient(90deg,#c0c0ff 0%,#babaff 8.8%,#8484ff 13.7%,#6060ff 18.6%,#6a6aff 20.5%,#7979ff 21.5%,#d5d5ff 25.4%,#e0e0ff 32.2%,#fff 34.2%,#fff6f6 36.2%,#ffcaca 40.1%,#ffc4c4 45.9%,#ffc8c8 51.8%,#fff7f7 56.7%,#fffafa 57.6%,#fefeff 76.2%,#ccf 85%,#ccf 93.8%,#e0e0ff 95.7%,#e0e0ff 100%)"></i><i style="top:16px;background:linear-gradient(90deg,#c0c0ff 0%,#babaff 8.8%,#8484ff 13.7%,#6060ff 18.6%,#6a6aff 20.5%,#7979ff 21.5%,#d5d5ff 25.4%,#e0e0ff 32.2%,#fff 34.2%,#fff6f6 36.2%,#ffcaca 40.1%,#ffc4c4 45.9%,#ffc8c8 51.8%,#fff7f7 56.7%,#fffafa 57.6%,#fefeff 76.2%,#ccf 85%,#ccf 93.8%,#e0e0ff 95.7%,#e0e0ff 100%)"></i><i style="top:18px;background:linear-gradient(90deg,#c0c0ff 0%,#babaff 8.8%,#8484ff 13.7%,#6060ff 18.6%,#6a6aff 20.5%,#7979ff 21.5%,#d5d5ff 25.4%,#e0e0ff 32.2%,#fff 34.2%,#fff6f6 36.2%,#ffcaca 40.1%,#ffc4c4 45.9%,#ffc8c8 51.8%,#fff7f7 56.7%,#fffafa 57.6%,#fefeff 76.2%,#ccf 85%,#ccf 93.8%,#e0e0ff 95.7%,#e0e0ff 100%)"></i><i style="top:20px;background:linear-gradient(90deg,#c0c0ff 0%,#babaff 8.8%,#8484ff 13.7%,#6060ff 18.6%,#6a6aff 20.5%,#7979ff 21.5%,#d5d5ff 25.4%,#e0e0ff 32.2%,#fff 34.2%,#fff6f6 36.2%,#ffcaca 40.1%,#ffc4c4 45.9%,#ffc8c8 51.8%,#fff7f7 56.7%,#fffafa 57.6%,#fefeff 76.2%,#ccf 85%,#ccf 93.8%,#e0e0ff 95.7%,#e0e0ff 100%)"></i><i style="top:22px;background:linear-gradient(90deg,#c0c0ff 0%,#babaff 8.8%,#8484ff 13.7%,#6060ff 18.6%,#6a6aff 20.5%,#7979ff 21.5%,#d5d5ff 25.4%,#e0e0ff 32.2%,#fff 34.2%,#fff6f6 36.2%,#ffcaca 40.1%,#ffc4c4 45.9%,#ffc8c8 51.8%,#fff7f7 56.7%,#fffafa 57.6%,#fefeff 76.2%,#ccf 85%,#ccf 93.8%,#e0e0ff 95.7%,#e0e0ff 100%)"></i><i style="top:24px;background:linear-gradient(90deg,#c0c0ff 0%,#babaff 8.8%,#8484ff 13.7%,#6060ff 18.6%,#6a6aff 20.5%,#7979ff 21.5%,#d5d5ff 25.4%,#e0e0ff 32.2%,#fff 34.2%,#fff6f6 36.2%,#ffcaca 40.1%,#ffc4c4 45.9%,#ffc8c8 51.8%,#fff7f7 56.7%,#fffafa 57.6%,#fefeff 76.2%,#ccf 85%,#ccf 93.8%,#e0e0ff 95.7%,#e0e0ff 100%)"></i><i style="top:26px;background:linear-gradient(90deg,#c0c0ff 0%,#babaff 8.8%,#8484ff 13.7%,#6060ff 18.6%,#6a6aff 20.5%,#7979ff 21.5%,#d5d5ff 25.4%,#e0e0ff 32.2%,#fff 34.2%,#fff6f6 36.2%,#ffcaca 40.1%,#ffc4c4 45.9%,#ffc8c8 51.8%,#fff7f7 56.7%,#fffafa 57.6%,#fefeff 76.2%,#ccf 85%,#ccf 93.8%,#e0e0ff 95.7%,#e0e0ff 100%)"></i><i style="top:28px;background:linear-gradient(90deg,#c0c0ff 0%,#babaff 8.8%,#8484ff 13.7%,#6060ff 18.6%,#6a6aff 20.5%,#7979ff 21.5%,#d5d5ff 25.4%,#e0e0ff 32.2%,#fff 34.2%,#fff6f6 36.2%,#ffcaca 40.1%,#ffc4c4 45.9%,#ffc8c8 51.8%,#fff7f7 56.7%,#fffafa 57.6%,#fefeff 76.2%,#ccf 85%,#ccf 93.8%,#e0e0ff 95.7%,#e0e0ff 100%)"></i><i style="top:30px;background:linear-gradient(90deg,#c0c0ff 0%,#babaff 8.8%,#8484ff 13.7%,#6060ff 18.6%,#6a6aff 20.5%,#7979ff 21.5%,#d5d5ff 25.4%,#e0e0ff 32.2%,#fff 34.2%,#fff6f6 36.2%,#ffcaca 40.1%,#ffc4c4 45.9%,#ffc8c8 51.8%,#fff7f7 56.7%,#fffafa 57.6%,#fefeff 76.2%,#ccf 85%,#ccf 93.8%,#e0e0ff 95.7%,#e0e0ff 100%)"></i><i style="top:32px;background:linear-gradient(90deg,#c0c0ff 0%,#babaff 8.8%,#8484ff 13.7%,#6060ff 18.6%,#6a6aff 20.5%,#7979ff 21.5%,#d5d5ff 25.4%,#e0e0ff 32.2%,#fff 34.2%,#fff6f6 36.2%,#ffcaca 40.1%,#ffc4c4 45.9%,#ffc8c8 51.8%,#fff7f7 56.7%,#fffafa 57.6%,#fefeff 76.2%,#ccf 85%,#ccf 93.8%,#e0e0ff 95.7%,#e0e0ff 100%)"></i><i style="top:34px;background:linear-gradient(90deg,#c0c0ff 0%,#babaff 8.8%,#8484ff 13.7%,#6060ff 18.6%,#6a6aff 20.5%,#7979ff 21.5%,#d5d5ff 25.4%,#e0e0ff 32.2%,#fff 34.2%,#fff6f6 36.2%,#ffcaca 40.1%,#ffc4c4 45.9%,#ffc8c8 51.8%,#fff7f7 56.7%,#fffafa 57.6%,#fefeff 76.2%,#ccf 85%,#ccf 93.8%,#e0e0ff 95.7%,#e0e0ff 100%)"></i><i style="top:36px;background:linear-gradient(90deg,#c0c0ff 0%,#babaff 8.8%,#8484ff 13.7%,#6060ff 18.6%,#6a6aff 20.5%,#7979ff 21.5%,#d5d5ff 25.4%,#e0e0ff 32.2%,#fff 34.2%,#fff6f6 36.2%,#ffcaca 40.1%,#ffc4c4 45.9%,#ffc8c8 51.8%,#fff7f7 56.7%,#fffafa 57.6%,#fefeff 76.2%,#ccf 85%,#ccf 93.8%,#e0e0ff 95.7%,#e0e0ff 100%)"></i><i style="top:38px;background:linear-gradient(90deg,#c0c0ff 0%,#babaff 8.8%,#8484ff 13.7%,#6060ff 18.6%,#6a6aff 20.5%,#7979ff 21.5%,#d5d5ff 25.4%,#e0e0ff 32.2%,#fff 34.2%,#fff6f6 36.2%,#ffcaca 40.1%,#ffc4c4 45.9%,#ffc8c8 51.8%,#fff7f7 56.7%,#fffafa 57.6%,#fefeff 76.2%,#ccf 85%,#ccf 93.8%,#e0e0ff 95.7%,#e0e0ff 100%)"></i><i style="top:40px;background:linear-gradient(90deg,#c0c0ff 0%,#babaff 8.8%,#8484ff 13.7%,#6060ff 18.6%,#6a6aff 20.5%,#7979ff 21.5%,#d5d5ff 25.4%,#e0e0ff 32.2%,#fff 34.2%,#fff6f6 36.2%,#ffcaca 40.1%,#ffc4c4 45.9%,#ffc8c8 51.8%,#fff7f7 56.7%,#fffafa 57.6%,#fefeff 76.2%,#ccf 85%,#ccf 93.8%,#e0e0ff 95.7%,#e0e0ff 100%)"></i><i style="top:42px;background:linear-gradient(90deg,#c0c0ff 0%,#babaff 8.8%,#8484ff 13.7%,#6060ff 18.6%,#6a6aff 20.5%,#7979ff 21.5%,#d5d5ff 25.4%,#e0e0ff 32.2%,#fff 34.2%,#fff6f6 36.2%,#ffcaca 40.1%,#ffc4c4 45.9%,#ffc8c8 51.8%,#fff7f7 56.7%,#fffafa 57.6%,#fefeff 76.2%,#ccf 85%,#ccf 93.8%,#e0e0ff 95.7%,#e0e0ff 100%)"></i><i style="top:44px;background:linear-gradient(90deg,#c0c0ff 0%,#babaff 8.8%,#8484ff 13.7%,#6060ff 18.6%,#6a6aff 20.5%,#7979ff 21.5%,#d5d5ff 25.4%,#e0e0ff 32.2%,#fff 34.2%,#fff6f6 36.2%,#ffcaca 40.1%,#ffc4c4 45.9%,#ffc8c8 51.8%,#fff7f7 56.7%,#fffafa 57.6%,#fefeff 76.2%,#ccf 85%,#ccf 93.8%,#e0e0ff 95.7%,#e0e0ff 100%)"></i><i style="top:46px;background:linear-gradient(90deg,#c0c0ff 0%,#babaff 8.8%,#8484ff 13.7%,#6060ff 18.6%,#6a6aff 20.5%,#7979ff 21.5%,#d5d5ff 25.4%,#e0e0ff 32.2%,#fff 34.2%,#fff6f6 36.2%,#ffcaca 40.1%,#ffc4c4 45.9%,#ffc8c8 51.8%,#fff7f7 56.7%,#fffafa 57.6%,#fefeff 76.2%,#ccf 85%,#ccf 93.8%,#e0e0ff 95.7%,#e0e0ff 100%)"></i><i style="top:48px;background:linear-gradient(90deg,#c0c0ff 0%,#babaff 8.8%,#8484ff 13.7%,#6060ff 18.6%,#6a6aff 20.5%,#7979ff 21.5%,#d5d5ff 25.4%,#e0e0ff 32.2%,#fff 34.2%,#fff6f6 36.2%,#ffcaca 40.1%,#ffc4c4 45.9%,#ffc8c8 51.8%,#fff7f7 56.7%,#fffafa 57.6%,#fefeff 76.2%,#ccf 85%,#ccf 93.8%,#e0e0ff 95.7%,#e0e0ff 100%)"></i><i style="top:50px;background:linear-gradient(90deg,#c0c0ff 0%,#babaff 8.8%,#8484ff 13.7%,#6060ff 18.6%,#6a6aff 20.5%,#7979ff 21.5%,#d5d5ff 25.4%,#e0e0ff 32.2%,#fff 34.2%,#fff6f6 36.2%,#ffcaca 40.1%,#ffc4c4 45.9%,#ffc8c8 51.8%,#fff7f7 56.7%,#fffafa 57.6%,#fefeff 76.2%,#ccf 85%,#ccf 93.8%,#e0e0ff 95.7%,#e0e0ff 100%)"></i><i style="top:52px;background:linear-gradient(90deg,#c0c0ff 0%,#babaff 8.8%,#8484ff 13.7%,#6060ff 18.6%,#6a6aff 20.5%,#7979ff 21.5%,#d5d5ff 25.4%,#e0e0ff 32.2%,#fff 34.2%,#fff6f6 36.2%,#ffcaca 40.1%,#ffc4c4 45.9%,#ffc8c8 51.8%,#fff7f7 56.7%,#fffafa 57.6%,#fefeff 76.2%,#ccf 85%,#ccf 93.8%,#e0e0ff 95.7%,#e0e0ff 100%)"></i><i style="top:54px;background:linear-gradient(90deg,#c0c0ff 0%,#babaff 8.8%,#8484ff 13.7%,#6060ff 18.6%,#6a6aff 20.5%,#7878ff 21.5%,#d5d5ff 25.4%,#e0e0ff 32.2%,#fff 34.2%,#fff6f6 36.2%,#ffcaca 40.1%,#ffc4c4 45.9%,#ffc8c8 51.8%,#fff7f7 56.7%,#fffafa 57.6%,#fefeff 76.2%,#ccf 85%,#ccf 93.8%,#e0e0ff 95.7%,#e0e0ff 100%)"></i><i style="top:56px;background:linear-gradient(90deg,#c0c0ff 0%,#babaff 8.8%,#8484ff 13.7%,#6060ff 18.6%,#6a6aff 20.5%,#7878ff 21.5%,#d5d5ff 25.4%,#e0e0ff 32.2%,#fff 34.2%,#fff6f6 36.2%,#ffcaca 40.1%,#ffc4c4 45.9%,#ffc8c8 51.8%,#fff7f7 56.7%,#fffafa 57.6%,#fefeff 76.2%,#ccf 85%,#ccf 93.8%,#e0e0ff 95.7%,#e0e0ff 100%)"></i><i style="top:58px;background:linear-gradient(90deg,#c0c0ff 0%,#babaff 8.8%,#7272ff 15.6%,#6161ff 18.6%,#6969ff 20.5%,#77f 21.5%,#d5d5ff 25.4%,#e0e0ff 32.2%,#fff 34.2%,#fff6f6 36.2%,#ffcaca 40.1%,#ffc4c4 45.9%,#ffc8c8 51.8%,#fff7f7 56.7%,#fffafa 57.6%,#fefeff 76.2%,#ccf 85%,#ccf 93.8%,#e0e0ff 95.7%,#e0e0ff 100%)"></i><i style="top:60px;background:linear-gradient(90deg,#c0c0ff 0%,#babaff 8.8%,#7272ff 15.6%,#6161ff 18.6%,#6969ff 20.5%,#7676ff 21.5%,#d5d5ff 25.4%,#e0e0ff 32.2%,#fff 34.2%,#fff6f6 36.2%,#ffcaca 40.1%,#ffc4c4 45.9%,#ffc8c8 51.8%,#fff7f7 56.7%,#fffafa 57.6%,#fefeff 76.2%,#ccf 85%,#ccf 93.8%,#e0e0ff 95.7%,#e0e0ff 100%)"></i><i style="top:62px;background:linear-gradient(90deg,#c0c0ff 0%,#babaff 8.8%,#7272ff 15.6%,#6161ff 18.6%,#6969ff 20.5%,#7575ff 21.5%,#d5d5ff 25.4%,#e0e0ff 32.2%,#fff 34.2%,#fff6f6 36.2%,#ffcaca 40.1%,#ffc4c4 45.9%,#ffc8c8 51.8%,#fff7f7 56.7%,#fffafa 57.6%,#fefeff 76.2%,#ccf 85%,#ccf 93.8%,#e0e0ff 95.7%,#e0e0ff 100%)"></i><i style="top:64px;background:linear-gradient(90deg,#c0c0ff 0%,#babaff 8.8%,#8383ff 13.7%,#6a6aff 16.6%,#6161ff 18.6%,#6969ff 20.5%,#7474ff 21.5%,#d5d5ff 25.4%,#e0e0ff 32.2%,#fff 34.2%,#fff6f6 36.2%,#ffcaca 40.1%,#ffc4c4 45.9%,#ffc8c8 51.8%,#fff7f7 56.7%,#fffafa 57.6%,#fefeff 76.2%,#ccf 85%,#ccf 93.8%,#e0e0ff 95.7%,#e0e0ff 100%)"></i><i style="top:66px;background:linear-gradient(90deg,#c0c0ff 0%,#babaff 8.8%,#7a7aff 14.7%,#6161ff 18.6%,#7373ff 21.5%,#d5d5ff 25.4%,#e0e0ff 32.2%,#fff 34.2%,#fff6f6 36.2%,#ffcaca 40.1%,#ffc4c4 45.9%,#ffc8c8 51.8%,#fff7f7 56.7%,#fffafa 57.6%,#fefeff 76.2%,#ccf 85%,#ccf 93.8%,#e0e0ff 95.7%,#e0e0ff 100%)"></i><i style="top:68px;background:linear-gradient(90deg,#c0c0ff 0%,#babaff 8.8%,#7171ff 15.6%,#6161ff 18.6%,#6868ff 20.5%,#7272ff 21.5%,#d5d5ff 25.4%,#e0e0ff 32.2%,#fff 34.2%,#fff6f6 36.2%,#ffcaca 40.1%,#ffc4c4 45.9%,#ffc8c8 51.8%,#fff7f7 56.7%,#fffafa 57.6%,#fefeff 76.2%,#ccf 85%,#ccf 93.8%,#e0e0ff 95.7%,#e0e0ff 100%)"></i><i style="top:70px;background:linear-gradient(90deg,#c0c0ff 0%,#babaff 8.8%,#7171ff 15.6%,#6161ff 18.6%,#7070ff 21.5%,#d5d5ff 25.4%,#e0e0ff 32.2%,#fff 34.2%,#fff6f6 36.2%,#ffcaca 40.1%,#ffc4c4 45.9%,#ffc8c8 51.8%,#fff7f7 56.7%,#fffafa 57.6%,#fefeff 76.2%,#ccf 85%,#ccf 93.8%,#e0e0ff 95.7%,#e0e0ff 100%)"></i><i style="top:72px;background:linear-gradient(90deg,#c0c0ff 0%,#babaff 8.8%,#7171ff 15.6%,#6161ff 18.6%,#6f6fff 21.5%,#d5d5ff 25.4%,#e0e0ff 32.2%,#fff 34.2%,#fff6f6 36.2%,#ffcaca 40.1%,#ffc4c4 45.9%,#ffc8c8 51.8%,#fff7f7 56.7%,#fffafa 57.6%,#fefeff 76.2%,#ccf 85%,#ccf 93.8%,#e0e0ff 95.7%,#e0e0ff 100%)"></i><i style="top:74px;background:linear-gradient(90deg,#c0c0ff 0%,#babaff 8.8%,#7171ff 15.6%,#6161ff 18.6%,#6e6eff 21.5%,#d5d5ff 25.4%,#e0e0ff 32.2%,#fff 34.2%,#fff6f6 36.2%,#ffcaca 40.1%,#ffc4c4 45.9%,#ffc8c8 51.8%,#fff7f7 56.7%,#fffafa 57.6%,#fefeff 76.2%,#ccf 85%,#ccf 93.8%,#e0e0ff 95.7%,#e0e0ff 100%)"></i><i style="top:76px;background:linear-gradient(90deg,#c0c0ff 0%,#babaff 8.8%,#7171ff 15.6%,#6161ff 18.6%,#6c6cff 21.5%,#d5d5ff 25.4%,#e0e0ff 32.2%,#fff 34.2%,#fff6f6 36.2%,#ffcaca 40.1%,#ffc4c4 45.9%,#ffc8c8 51.8%,#fff7f7 56.7%,#fffafa 57.6%,#fefeff 76.2%,#ccf 85%,#ccf 93.8%,#e0e0ff 95.7%,#e0e0ff 100%)"></i><i style="top:78px;background:linear-gradient(90deg,#c0c0ff 0%,#babaff 8.8%,#7070ff 15.6%,#6161ff 18.6%,#6c6cff 21.5%,#d5d5ff 25.4%,#e0e0ff 32.2%,#fff 34.2%,#fff6f6 36.2%,#ffcaca 40.1%,#ffc4c4 45.9%,#ffc8c8 51.8%,#fff7f7 56.7%,#fffafa 57.6%,#fefeff 76.2%,#ccf 85%,#ccf 93.8%,#e0e0ff 95.7%,#e0e0ff 100%)"></i><i style="top:80px;background:linear-gradient(90deg,#c0c0ff 0%,#babaff 8.8%,#7070ff 15.6%,#6161ff 18.6%,#6c6cff 21.5%,#d5d5ff 25.4%,#e0e0ff 32.2%,#fff 34.2%,#fff6f6 36.2%,#ffcaca 40.1%,#ffc4c4 45.9%,#ffc8c8 51.8%,#fff7f7 56.7%,#fffafa 57.6%,#fefeff 76.2%,#ccf 85%,#ccf 93.8%,#e0e0ff 95.7%,#e0e0ff 100%)"></i><i style="top:82px;background:linear-gradient(90deg,#c0c0ff 0%,#babaff 8.8%,#7070ff 15.6%,#6161ff 18.6%,#6b6bff 21.5%,#d5d5ff 25.4%,#e0e0ff 32.2%,#fff 34.2%,#fff6f6 36.2%,#ffcaca 40.1%,#ffc4c4 45.9%,#ffc8c8 51.8%,#fff7f7 56.7%,#fffafa 57.6%,#fefeff 76.2%,#ccf 85%,#ccf 93.8%,#e0e0ff 95.7%,#e0e0ff 100%)"></i><i style="top:84px;background:linear-gradient(90deg,#c0c0ff 0%,#babaff 8.8%,#7070ff 15.6%,#6161ff 18.6%,#6b6bff 21.5%,#d5d5ff 25.4%,#e0e0ff 32.2%,#fff 34.2%,#fff6f6 36.2%,#ffcaca 40.1%,#ffc4c4 45.9%,#ffc8c8 51.8%,#fff7f7 56.7%,#fffafa 57.6%,#fefeff 76.2%,#ccf 85%,#ccf 93.8%,#e0e0ff 95.7%,#e0e0ff 100%)"></i><i style="top:86px;background:linear-gradient(90deg,#c0c0ff 0%,#bebeff 7.8%,#a7a7ff 10.7%,#7070ff 15.6%,#6161ff 18.6%,#6b6bff 21.5%,#8181ff 22.5%,#d5d5ff 25.4%,#e0e0ff 32.2%,#fff 34.2%,#fff6f6 36.2%,#ffcaca 40.1%,#ffc4c4 45.9%,#ffc8c8 51.8%,#fff7f7 56.7%,#fffafa 57.6%,#fefeff 76.2%,#ccf 85%,#ccf 93.8%,#e0e0ff 95.7%,#e0e0ff 100%)"></i><i style="top:88px;background:linear-gradient(90deg,#c0c0ff 0%,#bebeff 7.8%,#a7a7ff 10.7%,#7070ff 15.6%,#6161ff 18.6%,#6b6bff 21.5%,#8080ff 22.5%,#d5d5ff 25.4%,#e0e0ff 32.2%,#fff 34.2%,#fff6f6 36.2%,#ffcaca 40.1%,#ffc4c4 45.9%,#ffc8c8 51.8%,#fff7f7 56.7%,#fffafa 57.6%,#fefeff 76.2%,#ccf 85%,#ccf 93.8%,#e0e0ff 95.7%,#e0e0ff 100%)"></i><i style="top:90px;background:linear-gradient(90deg,#c0c0ff 0%,#bebeff 7.8%,#a7a7ff 10.7%,#6f6fff 15.6%,#6161ff 18.6%,#6b6bff 21.5%,#8080ff 22.5%,#d5d5ff 25.4%,#e0e0ff 32.2%,#fff 34.2%,#fff6f6 36.2%,#ffcaca 40.1%,#ffc4c4 45.9%,#ffc8c8 51.8%,#fff7f7 56.7%,#fffafa 57.6%,#fefeff 76.2%,#ccf 85%,#ccf 93.8%,#e0e0ff 95.7%,#e0e0ff 100%)"></i><i style="top:92px;background:linear-gradient(90deg,#c0c0ff 0%,#bebeff 7.8%,#a7a7ff 10.7%,#6f6fff 15.6%,#6161ff 18.6%,#6b6bff 21.5%,#7f7fff 22.5%,#d5d5ff 25.4%,#e0e0ff 32.2%,#fff 34.2%,#fff6f6 36.2%,#ffcaca 40.1%,#ffc4c4 45.9%,#ffc8c8 51.8%,#fff7f7 56.7%,#fffafa 57.6%,#fefeff 76.2%,#ccf 85%,#ccf 93.8%,#e0e0ff 95.7%,#e0e0ff 100%)"></i><i style="top:94px;background:linear-gradient(90deg,#c0c0ff 0%,#bebeff 7.8%,#a7a7ff 10.7%,#6f6fff 15.6%,#6161ff 18.6%,#6b6bff 21.5%,#7f7fff 22.5%,#d5d5ff 25.4%,#e0e0ff 32.2%,#fff 34.2%,#fff6f6 36.2%,#ffcaca 40.1%,#ffc4c4 45.9%,#ffc8c8 51.8%,#fff7f7 56.7%,#fffafa 57.6%,#fefeff 76.2%,#ccf 85%,#ccf 93.8%,#e0e0ff 95.7%,#e0e0ff 100%)"></i><i style="top:96px;background:linear-gradient(90deg,#c0c0ff 0%,#bebeff 7.8%,#a7a7ff 10.7%,#6f6fff 15.6%,#6161ff 18.6%,#6b6bff 21.5%,#7f7fff 22.5%,#d5d5ff 25.4%,#e0e0ff 32.2%,#fffefe 34.2%,#fff6f6 36.2%,#ffc9c9 40.1%,#ffc4c4 50.8%,#ffc8c8 51.8%,#fff7f7 56.7%,#fffafa 57.6%,#fefeff 76.2%,#ccf 85%,#ccf 93.8%,#e0e0ff 95.7%,#e0e0ff 100%)"></i><i style="top:98px;background:linear-gradient(90deg,#c0c0ff 0%,#bebeff 7.8%,#a7a7ff 10.7%,#6f6fff 15.6%,#6161ff 18.6%,#6b6bff 21.5%,#7f7fff 22.5%,#d5d5ff 25.4%,#e0e0ff 32.2%,#fffefe 34.2%,#fff5f5 36.2%,#ffc8c8 40.1%,#ffc4c4 50.8%,#ffc8c8 51.8%,#fff7f7 56.7%,#fffafa 57.6%,#fefeff 76.2%,#ccf 85%,#ccf 93.8%,#e0e0ff 95.7%,#e0e0ff 100%)"></i><i style="top:100px;background:linear-gradient(90deg,#c0c0ff 0%,#bebeff 7.8%,#a7a7ff 10.7%,#6f6fff 15.6%,#6161ff 18.6%,#6b6bff 21.5%,#7f7fff 22.5%,#d5d5ff 25.4%,#e1e1ff 32.2%,#fffefe 34.2%,#fff4f4 36.2%,#ffc5c5 40.1%,#ffc4c4 50.8%,#ffc8c8 51.8%,#fff7f7 56.7%,#fffafa 57.6%,#fefeff 76.2%,#ccf 85%,#ccf 93.8%,#e0e0ff 95.7%,#e0e0ff 100%)"></i><i style="top:102px;background:linear-gradient(90deg,#c0c0ff 0%,#bebeff 7.8%,#a7a7ff 10.7%,#6f6fff 15.6%,#6161ff 18.6%,#6b6bff 21.5%,#7e7eff 22.5%,#d5d5ff 25.4%,#e2e2ff 32.2%,#fffdfd 34.2%,#fff2f2 36.2%,#ffc1c1 40.1%,#ffc1c1 41%,#ffc8c8 44.9%,#ffc4c4 50.8%,#ffc8c8 51.8%,#fff7f7 56.7%,#fffafa 57.6%,#fefeff 76.2%,#ccf 85%,#ccf 93.8%,#e0e0ff 95.7%,#e0e0ff 100%)"></i><i style="top:104px;background:linear-gradient(90deg,#c0c0ff 0%,#bebeff 7.8%,#a7a7ff 10.7%,#7070ff 15.6%,#6161ff 18.6%,#6b6bff 21.5%,#7e7eff 22.5%,#d5d5ff 25.4%,#e4e4ff 32.2%,#fffcfc 34.2%,#ffefef 36.2%,#fbb 40.1%,#ffc9c9 45.9%,#ffc4c4 50.8%,#ffc8c8 51.8%,#fff7f7 56.7%,#fffafa 57.6%,#fefeff 76.2%,#cdcdff 85%,#cdcdff 93.8%,#e0e0ff 95.7%,#e0e0ff 100%)"></i><i style="top:106px;background:linear-gradient(90deg,#c0c0ff 0%,#bebeff 7.8%,#a7a7ff 10.7%,#7070ff 15.6%,#6262ff 19.5%,#6a6aff 21.5%,#7e7eff 22.5%,#d5d5ff 25.4%,#e6e6ff 32.2%,#f5f5ff 33.2%,#fffafa 34.2%,#ffecec 36.2%,#ffbfbf 39.1%,#ffb6b6 40.1%,#ffc7c7 45.9%,#ffc4c4 50.8%,#ffc8c8 51.8%,#fff7f7 56.7%,#fffafa 57.6%,#fefeff 76.2%,#cdcdff 85%,#cdcdff 93.8%,#e0e0ff 95.7%,#e0e0ff 100%)"></i><i style="top:108px;background:linear-gradient(90deg,#c0c0ff 0%,#babaff 8.8%,#7070ff 15.6%,#6262ff 19.5%,#6a6aff 21.5%,#7d7dff 22.5%,#d5d5ff 25.4%,#e7e7ff 30.3%,#e8e8ff 32.2%,#f6f6ff 33.2%,#fffafa 34.2%,#ffebeb 36.2%,#ffbdbd 39.1%,#ffb4b4 40.1%,#ffc3c3 44.9%,#ffc4c4 50.8%,#ffc8c8 51.8%,#fff7f7 56.7%,#fffafa 57.6%,#fefeff 76.2%,#cdcdff 85%,#cdcdff 93.8%,#e0e0ff 95.7%,#e0e0ff 100%)"></i><i style="top:110px;background:linear-gradient(90deg,#c0c0ff 0%,#babaff 8.8%,#7070ff 15.6%,#6262ff 19.5%,#6a6aff 21.5%,#7d7dff 22.5%,#d5d5ff 25.4%,#e8e8ff 30.3%,#e8e8ff 32.2%,#f6f6ff 33.2%,#fffafa 34.2%,#ffecec 36.2%,#ffbfbf 39.1%,#ffb6b6 40.1%,#ffc1c1 44%,#ffc4c4 50.8%,#ffc8c8 51.8%,#fff7f7 56.7%,#fffafa 57.6%,#fefeff 76.2%,#ceceff 85%,#ceceff 93.8%,#e0e0ff 95.7%,#e0e0ff 100%)"></i><i style="top:112px;background:linear-gradient(90deg,#c0c0ff 0%,#babaff 8.8%,#7070ff 15.6%,#6262ff 19.5%,#6a6aff 21.5%,#7c7cff 22.5%,#d5d5ff 25.4%,#e6e6ff 30.3%,#e7e7ff 32.2%,#fffbfb 34.2%,#ffefef 36.2%,#fbb 40.1%,#ffc4c4 50.8%,#ffc8c8 51.8%,#fff7f7 56.7%,#fffafa 57.6%,#fefeff 76.2%,#ceceff 85%,#ceceff 93.8%,#e0e0ff 95.7%,#e0e0ff 100%)"></i><i style="top:114px;background:linear-gradient(90deg,#c0c0ff 0%,#babaff 8.8%,#7979ff 14.7%,#6a6aff 16.6%,#6262ff 19.5%,#6a6aff 21.5%,#7b7bff 22.5%,#d5d5ff 25.4%,#e4e4ff 32.2%,#fffcfc 34.2%,#fff1f1 36.2%,#ffc1c1 40.1%,#ffc1c1 41%,#ffc4c4 50.8%,#ffc8c8 51.8%,#fff7f7 56.7%,#fffafa 57.6%,#fefeff 76.2%,#cfcfff 85%,#cfcfff 93.8%,#e0e0ff 95.7%,#e0e0ff 100%)"></i><i style="top:116px;background:linear-gradient(90deg,#c0c0ff 0%,#babaff 8.8%,#7171ff 15.6%,#6262ff 19.5%,#6a6aff 21.5%,#7b7bff 22.5%,#d5d5ff 25.4%,#e2e2ff 32.2%,#fffdfd 34.2%,#fff4f4 36.2%,#ffc5c5 40.1%,#ffc4c4 50.8%,#ffc8c8 51.8%,#fff7f7 56.7%,#fffafa 57.6%,#fefeff 76.2%,#cfcfff 85%,#cfcfff 93.8%,#e0e0ff 95.7%,#e0e0ff 100%)"></i><i style="top:118px;background:linear-gradient(90deg,#c0c0ff 0%,#babaff 8.8%,#7171ff 15.6%,#6262ff 19.5%,#6a6aff 21.5%,#7a7aff 22.5%,#d5d5ff 25.4%,#e1e1ff 32.2%,#fffefe 34.2%,#fff5f5 36.2%,#ffc8c8 40.1%,#ffc4c4 50.8%,#ffc8c8 51.8%,#fff7f7 56.7%,#fffafa 57.6%,#fefeff 76.2%,#d0d0ff 85%,#d0d0ff 93.8%,#e0e0ff 95.7%,#e0e0ff 100%)"></i><i style="top:120px;background:linear-gradient(90deg,#c0c0ff 0%,#babaff 8.8%,#7171ff 15.6%,#6262ff 19.5%,#6a6aff 21.5%,#7979ff 22.5%,#d5d5ff 25.4%,#e1e1ff 32.2%,#fffefe 34.2%,#fff6f6 36.2%,#ffc9c9 40.1%,#ffc4c4 50.8%,#ffc8c8 51.8%,#fff7f7 56.7%,#fffafa 57.6%,#fefeff 76.2%,#d1d1ff 85%,#d1d1ff 93.8%,#e0e0ff 95.7%,#e0e0ff 100%)"></i><i style="top:122px;background:linear-gradient(90deg,#c0c0ff 0%,#babaff 8.8%,#7171ff 15.6%,#6161ff 19.5%,#6a6aff 21.5%,#7878ff 22.5%,#d5d5ff 25.4%,#e0e0ff 32.2%,#fff 34.2%,#fff6f6 36.2%,#ffcaca 40.1%,#ffc4c4 45.9%,#ffc8c8 51.8%,#fff7f7 56.7%,#fffafa 57.6%,#fefeff 76.2%,#d1d1ff 85%,#d1d1ff 93.8%,#e0e0ff 95.7%,#e0e0ff 100%)"></i><i style="top:124px;background:linear-gradient(90deg,#c0c0ff 0%,#babaff 8.8%,#7272ff 15.6%,#6161ff 19.5%,#6a6aff 21.5%,#77f 22.5%,#d5d5ff 25.4%,#e0e0ff 32.2%,#fff 34.2%,#fff6f6 36.2%,#ffcaca 40.1%,#ffc4c4 45.9%,#ffc8c8 51.8%,#fff7f7 56.7%,#fffafa 57.6%,#fefeff 76.2%,#d2d2ff 85%,#d2d2ff 93.8%,#e0e0ff 95.7%,#e0e0ff 100%)"></i><i style="top:126px;background:linear-gradient(90deg,#c0c0ff 0%,#babaff 8.8%,#7272ff 15.6%,#6161ff 19.5%,#6969ff 21.5%,#77f 22.5%,#d5d5ff 25.4%,#e0e0ff 32.2%,#fff 34.2%,#fff6f6 36.2%,#ffcaca 40.1%,#ffc4c4 45.9%,#ffc8c8 51.8%,#fff7f7 56.7%,#fffafa 57.6%,#fefeff 76.2%,#d2d2ff 85%,#d2d2ff 93.8%,#e0e0ff 95.7%,#e0e0ff 100%)"></i><i style="top:128px;background:linear-gradient(90deg,#c0c0ff 0%,#babaff 8.8%,#7272ff 15.6%,#6161ff 19.5%,#6969ff 21.5%,#7676ff 22.5%,#d5d5ff 25.4%,#e0e0ff 32.2%,#fff 34.2%,#fff6f6 36.2%,#ffcaca 40.1%,#ffc4c4 45.9%,#ffc8c8 51.8%,#fff7f7 56.7%,#fffafa 57.6%,#fefeff 76.2%,#d3d3ff 85%,#d3d3ff 93.8%,#e0e0ff 95.7%,#e0e0ff 100%)"></i><i style="top:130px;background:linear-gradient(90deg,#c0c0ff 0%,#babaff 8.8%,#7272ff 15.6%,#6161ff 19.5%,#6969ff 21.5%,#7575ff 22.5%,#d5d5ff 25.4%,#e0e0ff 32.2%,#fff 34.2%,#fff6f6 36.2%,#ffcaca 40.1%,#ffc4c4 45.9%,#ffc8c8 51.8%,#fff7f7 56.7%,#fffafa 57.6%,#fefeff 76.2%,#d4d4ff 85%,#d4d4ff 93.8%,#e0e0ff 95.7%,#e0e0ff 100%)"></i><i style="top:132px;background:linear-gradient(90deg,#c0c0ff 0%,#babaff 8.8%,#7b7bff 14.7%,#6b6bff 16.6%,#6161ff 19.5%,#6969ff 21.5%,#7474ff 22.5%,#d5d5ff 25.4%,#e0e0ff 32.2%,#fff 34.2%,#fff6f6 36.2%,#ffcaca 40.1%,#ffc4c4 45.9%,#ffc8c8 51.8%,#fff7f7 56.7%,#fffafa 57.6%,#fefeff 76.2%,#d4d4ff 85%,#d4d4ff 93.8%,#e0e0ff 95.7%,#e0e0ff 100%)"></i><i style="top:134px;background:linear-gradient(90deg,#c0c0ff 0%,#babaff 8.8%,#7b7bff 14.7%,#6b6bff 16.6%,#6161ff 19.5%,#6969ff 21.5%,#7474ff 22.5%,#d5d5ff 25.4%,#e0e0ff 32.2%,#fff 34.2%,#fff6f6 36.2%,#ffcaca 40.1%,#ffc4c4 45.9%,#ffc8c8 51.8%,#fff7f7 56.7%,#fffafa 57.6%,#fefeff 76.2%,#d5d5ff 85%,#d5d5ff 93.8%,#e0e0ff 95.7%,#e0e0ff 100%)"></i><i style="top:136px;background:linear-gradient(90deg,#c0c0ff 0%,#babaff 8.8%,#7373ff 15.6%,#6161ff 19.5%,#7373ff 22.5%,#d5d5ff 25.4%,#e0e0ff 32.2%,#fff 34.2%,#fff6f6 36.2%,#ffcaca 40.1%,#ffc4c4 45.9%,#ffc8c8 51.8%,#fff7f7 56.7%,#fffafa 57.6%,#fefeff 76.2%,#d5d5ff 85%,#d5d5ff 93.8%,#e0e0ff 95.7%,#e0e0ff 100%)"></i><i style="top:138px;background:linear-gradient(90deg,#c0c0ff 0%,#babaff 8.8%,#7373ff 15.6%,#6161ff 19.5%,#7272ff 22.5%,#d5d5ff 25.4%,#e0e0ff 32.2%,#fff 34.2%,#fff6f6 36.2%,#ffcaca 40.1%,#ffc4c4 45.9%,#ffc8c8 51.8%,#fff7f7 56.7%,#fffafa 57.6%,#fefeff 76.2%,#d5d5ff 85%,#d5d5ff 93.8%,#e0e0ff 95.7%,#e0e0ff 100%)"></i><i style="top:140px;background:linear-gradient(90deg,#c0c0ff 0%,#babaff 8.8%,#7373ff 15.6%,#6161ff 19.5%,#7272ff 22.5%,#d5d5ff 25.4%,#e0e0ff 32.2%,#fff 34.2%,#fff6f6 36.2%,#ffcaca 40.1%,#ffc4c4 45.9%,#ffc8c8 51.8%,#fff7f7 56.7%,#fffafa 57.6%,#fefeff 76.2%,#d6d6ff 85%,#d6d6ff 93.8%,#e0e0ff 95.7%,#e0e0ff 100%)"></i><i style="top:142px;background:linear-gradient(90deg,#c0c0ff 0%,#babaff 8.8%,#7373ff 15.6%,#6161ff 19.5%,#7171ff 22.5%,#d5d5ff 25.4%,#e0e0ff 32.2%,#fff 34.2%,#fff6f6 36.2%,#ffcaca 40.1%,#ffc4c4 45.9%,#ffc8c8 51.8%,#fff7f7 56.7%,#fffafa 57.6%,#fefeff 76.2%,#d6d6ff 85%,#d6d6ff 93.8%,#e0e0ff 95.7%,#e0e0ff 100%)"></i><i style="top:144px;background:linear-gradient(90deg,#c0c0ff 0%,#babaff 8.8%,#7373ff 15.6%,#6161ff 19.5%,#7171ff 22.5%,#d5d5ff 25.4%,#e0e0ff 32.2%,#fff 34.2%,#fff6f6 36.2%,#ffcaca 40.1%,#ffc4c4 45.9%,#ffc8c8 51.8%,#fff7f7 56.7%,#fffafa 57.6%,#fefeff 76.2%,#d6d6ff 85%,#d6d6ff 93.8%,#e0e0ff 95.7%,#e0e0ff 100%)"></i><i style="top:146px;background:linear-gradient(90deg,#c0c0ff 0%,#babaff 8.8%,#7373ff 15.6%,#6060ff 19.5%,#7171ff 22.5%,#d5d5ff 25.4%,#e0e0ff 32.2%,#fff 34.2%,#fff6f6 36.2%,#ffcaca 40.1%,#ffc4c4 45.9%,#ffc8c8 51.8%,#fff7f7 56.7%,#fffafa 57.6%,#fefeff 76.2%,#d6d6ff 85%,#d6d6ff 93.8%,#e0e0ff 95.7%,#e0e0ff 100%)"></i><i style="top:148px;background:linear-gradient(90deg,#c0c0ff 0%,#babaff 8.8%,#7373ff 15.6%,#6060ff 19.5%,#7171ff 22.5%,#d4d4ff 25.4%,#e0e0ff 32.2%,#fff 34.2%,#fff6f6 36.2%,#ffcaca 40.1%,#ffc4c4 45.9%,#ffc8c8 51.8%,#fff7f7 56.7%,#fffafa 57.6%,#fefeff 76.2%,#d6d6ff 85%,#d6d6ff 93.8%,#e0e0ff 95.7%,#e0e0ff 100%)"></i><i style="top:150px;background:linear-gradient(90deg,#c0c0ff 0%,#babaff 8.8%,#7373ff 15.6%,#6060ff 19.5%,#7070ff 22.5%,#d4d4ff 25.4%,#e2e2ff 32.2%,#fff 34.2%,#fff6f6 36.2%,#ffcaca 40.1%,#ffc4c4 45.9%,#ffc8c8 51.8%,#fff7f7 56.7%,#fffafa 57.6%,#fefeff 76.2%,#d7d7ff 85%,#d7d7ff 93.8%,#e0e0ff 95.7%,#e0e0ff 100%)"></i><i style="top:152px;background:linear-gradient(90deg,#c0c0ff 0%,#babaff 8.8%,#7373ff 15.6%,#6060ff 19.5%,#6f6fff 22.5%,#d2d2ff 25.4%,#e0e0ff 31.3%,#e5e5ff 32.2%,#fff 34.2%,#fff6f6 36.2%,#ffcbcb 40.1%,#ffc4c4 47.9%,#ffc8c8 51.8%,#fff6f6 56.7%,#fffafa 57.6%,#fefeff 76.2%,#d7d7ff 85%,#d7d7ff 93.8%,#e0e0ff 95.7%,#e0e0ff 100%)"></i><i style="top:154px;background:linear-gradient(90deg,#c0c0ff 0%,#babaff 8.8%,#7373ff 15.6%,#6060ff 19.5%,#6e6eff 22.5%,#d1d1ff 25.4%,#e1e1ff 31.3%,#fff 34.2%,#fff6f6 36.2%,#ffcbcb 40.1%,#ffc4c4 49.8%,#ffc8c8 51.8%,#fff6f6 56.7%,#fff9f9 57.6%,#fefeff 76.2%,#d8d8ff 85%,#d8d8ff 93.8%,#e0e0ff 95.7%,#e0e0ff 100%)"></i><i style="top:156px;background:linear-gradient(90deg,#c0c0ff 0%,#babaff 8.8%,#7373ff 15.6%,#6060ff 19.5%,#6c6cff 22.5%,#ceceff 25.4%,#e3e3ff 31.3%,#fff 34.2%,#fff6f6 36.2%,#fcc 40.1%,#ffc4c4 49.8%,#ffc8c8 51.8%,#fff5f5 56.7%,#fff9f9 57.6%,#fefeff 76.2%,#d9d9ff 85%,#d9d9ff 93.8%,#e0e0ff 95.7%,#e0e0ff 100%)"></i><i style="top:158px;background:linear-gradient(90deg,#c0c0ff 0%,#babaff 8.8%,#7373ff 15.6%,#6060ff 19.5%,#6c6cff 22.5%,#ccf 25.4%,#d5d5ff 26.4%,#e5e5ff 31.3%,#fff 34.2%,#fff6f6 36.2%,#ffcdcd 40.1%,#ffc4c4 50.8%,#ffc7c7 51.8%,#fff4f4 56.7%,#fffafa 59.6%,#fefeff 76.2%,#dadaff 85%,#e0e0ff 100%)"></i><i style="top:160px;background:linear-gradient(90deg,#c0c0ff 0%,#babaff 8.8%,#7373ff 15.6%,#6060ff 19.5%,#6c6cff 22.5%,#cacaff 25.4%,#d4d4ff 26.4%,#e3e3ff 30.3%,#fff 34.2%,#fff6f6 36.2%,#ffcece 40.1%,#ffc3c3 50.8%,#ffc5c5 51.8%,#fff3f3 56.7%,#fffafa 59.6%,#fefeff 76.2%,#dcdcff 85%,#e0e0ff 100%)"></i><i style="top:162px;background:linear-gradient(90deg,#c0c0ff 0%,#babaff 8.8%,#7373ff 15.6%,#6060ff 19.5%,#6b6bff 22.5%,#c8c8ff 25.4%,#d3d3ff 26.4%,#fff 34.2%,#fff6f6 36.2%,#ffcece 40.1%,#ffc0c0 50.8%,#ffc0c0 51.8%,#ffcfcf 53.7%,#fff2f2 56.7%,#fffafa 59.6%,#fefeff 76.2%,#dedeff 84%,#e0e0ff 100%)"></i><i style="top:164px;background:linear-gradient(90deg,#c0c0ff 0%,#babaff 8.8%,#7373ff 15.6%,#6060ff 19.5%,#6b6bff 22.5%,#8585ff 23.4%,#c6c6ff 25.4%,#d2d2ff 26.4%,#fff 34.2%,#fff6f6 36.2%,#ffcfcf 40.1%,#ffc8c8 46.9%,#ffb7b7 51.8%,#ffc9c9 53.7%,#fff3f3 56.7%,#fffafa 58.6%,#fefeff 76.2%,#dfdfff 84%,#e0e0ff 100%)"></i><i style="top:166px;background:linear-gradient(90deg,#c0c0ff 0%,#babaff 8.8%,#7373ff 15.6%,#6060ff 19.5%,#6b6bff 22.5%,#8484ff 23.4%,#c4c4ff 25.4%,#d2d2ff 26.4%,#fff 34.2%,#fff6f6 36.2%,#ffd0d0 40.1%,#ffc8c8 46.9%,#ffacac 50.8%,#ffabab 51.8%,#ffe7e7 55.7%,#fff9f9 57.6%,#fefeff 76.2%,#e0e0ff 84%,#e0e0ff 100%)"></i><i style="top:168px;background:linear-gradient(90deg,#c0c0ff 0%,#babaff 8.8%,#7373ff 15.6%,#6060ff 19.5%,#6b6bff 22.5%,#8282ff 23.4%,#c2c2ff 25.4%,#d1d1ff 26.4%,#fff 34.2%,#fff6f6 36.2%,#ffd0d0 40.1%,#ffc4c4 46.9%,#ff9c9c 50.8%,#ffa0a0 51.8%,#ffe9e9 55.7%,#fffafa 57.6%,#fefeff 76.2%,#e1e1ff 84%,#e0e0ff 100%)"></i><i style="top:170px;background:linear-gradient(90deg,#c0c0ff 0%,#babaff 8.8%,#7373ff 15.6%,#6060ff 19.5%,#6b6bff 22.5%,#8181ff 23.4%,#c1c1ff 25.4%,#d1d1ff 26.4%,#ededff 30.3%,#fff 34.2%,#fff6f6 36.2%,#ffd1d1 40.1%,#ffc5c5 45.9%,#ff9191 49.8%,#ff8e8e 50.8%,#ff9b9b 51.8%,#fdd 54.7%,#fff6f6 56.7%,#fffafa 57.6%,#fefeff 76.2%,#e1e1ff 84%,#e0e0ff 100%)"></i><i style="top:172px;background:linear-gradient(90deg,#c0c0ff 0%,#babaff 8.8%,#7373ff 15.6%,#6060ff 19.5%,#6b6bff 22.5%,#8181ff 23.4%,#c1c1ff 25.4%,#d1d1ff 26.4%,#eef 30.3%,#fff 34.2%,#fff6f6 36.2%,#ffd1d1 40.1%,#ffc6c6 44.9%,#ffbcbc 45.9%,#f88 48.9%,#ff8383 49.8%,#ff8b8b 50.8%,#ffd1d1 53.7%,#ffe0e0 54.7%,#fff6f6 56.7%,#fffafa 57.6%,#fefeff 76.2%,#e0e0ff 85%,#e0e0ff 100%)"></i><i style="top:174px;background:linear-gradient(90deg,#c0c0ff 0%,#babaff 8.8%,#7373ff 15.6%,#6060ff 19.5%,#6a6aff 22.5%,#7f7fff 23.4%,#bfbfff 25.4%,#cfcfff 26.4%,#e7e7ff 29.3%,#fefeff 34.2%,#fff7f7 36.2%,#ffd2d2 40.1%,#ffc7c7 44%,#ffbdbd 44.9%,#ff8383 47.9%,#ff7b7b 48.9%,#ff8383 49.8%,#ff9595 50.8%,#ffc5c5 52.8%,#ffd6d6 53.7%,#fff5f5 56.7%,#fff9f9 57.6%,#fefeff 76.2%,#e0e0ff 85%,#e0e0ff 100%)"></i><i style="top:176px;background:linear-gradient(90deg,#c0c0ff 0%,#bebeff 7.8%,#a8a8ff 10.7%,#6a6aff 16.6%,#5e5eff 19.5%,#6767ff 22.5%,#7a7aff 23.4%,#b7b7ff 25.4%,#c9c9ff 26.4%,#e2e2ff 29.3%,#fdfdff 35.2%,#fffbfb 36.2%,#ffd6d6 40.1%,#ffcbcb 43%,#ffc1c1 44%,#ff8585 46.9%,#ff7b7b 47.9%,#ff8181 48.9%,#ffcdcd 52.8%,#ffe2e2 54.7%,#fff5f5 57.6%,#fff 75.2%,#e0e0ff 85%,#e0e0ff 100%)"></i><i style="top:178px;background:linear-gradient(90deg,#c0c0ff 0%,#bebeff 7.8%,#a7a7ff 10.7%,#6969ff 16.6%,#5b5bff 20.5%,#6363ff 22.5%,#7373ff 23.4%,#ababff 25.4%,#bfbfff 26.4%,#dcdcff 29.3%,#ececff 34.2%,#fff 36.2%,#ffe0e0 39.1%,#ffc2c2 43%,#ff8a8a 45.9%,#ff8080 46.9%,#ff8585 47.9%,#ffacac 49.8%,#ffc9c9 51.8%,#ffdbdb 53.7%,#ffefef 57.6%,#fff 75.2%,#e0e0ff 85%,#e0e0ff 100%)"></i><i style="top:180px;background:linear-gradient(90deg,#c0c0ff 0%,#bebeff 7.8%,#a7a7ff 10.7%,#7a7aff 14.7%,#6161ff 17.6%,#5757ff 20.5%,#5f5fff 22.5%,#6c6cff 23.4%,#b4b4ff 26.4%,#d6d6ff 29.3%,#e2e2ff 34.2%,#f9f9ff 36.2%,#fff8f8 37.1%,#ffc9c9 41%,#f88 44.9%,#ff8181 45.9%,#ff8989 46.9%,#ffc3c3 49.8%,#ffcece 50.8%,#ffe0e0 54.7%,#fffbfb 65.5%,#fefeff 76.2%,#e0e0ff 85%,#e1e1ff 100%)"></i><i style="top:182px;background:linear-gradient(90deg,#c0c0ff 0%,#bebeff 7.8%,#a7a7ff 10.7%,#5f5fff 17.6%,#5353ff 20.5%,#5b5bff 22.5%,#66f 23.4%,#acacff 26.4%,#d0d0ff 29.3%,#dadaff 34.2%,#e2e2ff 35.2%,#f3f3ff 36.2%,#fff8f8 37.1%,#ffc3c3 40.1%,#ff8282 43%,#ff7373 44%,#ff7171 44.9%,#ff7e7e 45.9%,#ffcaca 48.9%,#ffd8d8 49.8%,#ffe0e0 51.8%,#ffe4e4 57.6%,#fff9f9 63.5%,#fefeff 76.2%,#e0e0ff 85%,#e2e2ff 100%)"></i><i style="top:184px;background:linear-gradient(90deg,#c0c0ff 0%,#bebeff 7.8%,#a7a7ff 10.7%,#7979ff 14.7%,#5f5fff 17.6%,#5151ff 20.5%,#6363ff 23.4%,#a7a7ff 26.4%,#cdcdff 29.3%,#d6d6ff 34.2%,#ddf 35.2%,#f1f1ff 36.2%,#fff5f5 37.1%,#ffc3c3 39.1%,#ff5f5f 42%,#ff4a4a 43%,#ff4646 44%,#ff5757 44.9%,#ffc6c6 47.9%,#ffe1e1 48.9%,#fff1f1 49.8%,#fff7f7 50.8%,#ffe3e3 54.7%,#ffe0e0 56.7%,#fffbfb 63.5%,#fff 75.2%,#e0e0ff 85%,#e5e5ff 100%)"></i><i style="top:186px;background:linear-gradient(90deg,#bfbfff 0%,#bebeff 7.8%,#a6a6ff 10.7%,#7979ff 14.7%,#5f5fff 17.6%,#5151ff 20.5%,#6565ff 23.4%,#a7a7ff 26.4%,#c2c2ff 28.3%,#ccf 29.3%,#d6d6ff 34.2%,#ddf 35.2%,#f4f4ff 36.2%,#fee 37.1%,#ffd0d0 38.1%,#faa 39.1%,#ff4d4d 41%,#ff2525 42%,#ff1212 43%,#ff1b1b 44%,#ff3d3d 44.9%,#ffa5a5 46.9%,#ffd4d4 47.9%,#fffafa 48.9%,#ececff 49.8%,#e4e4ff 50.8%,#fbfbff 52.8%,#ffe8e8 54.7%,#ffe1e1 56.7%,#fffbfb 63.5%,#fff 72.3%,#fbfbff 77.2%,#e0e0ff 85%,#e0e0ff 92.8%,#ebebff 100%)"></i><i style="top:188px;background:linear-gradient(90deg,#bfbfff 0%,#bdbdff 7.8%,#a5a5ff 10.7%,#7878ff 14.7%,#5e5eff 17.6%,#5353ff 20.5%,#5e5eff 22.5%,#6c6cff 23.4%,#aaf 26.4%,#c2c2ff 28.3%,#d9d9ff 35.2%,#f3f3ff 36.2%,#ffeaea 37.1%,#ffc5c5 38.1%,#ff9797 39.1%,#ff2929 41%,#f00 42%,#ff0202 44%,#ff2d2d 44.9%,#ffdcdc 47.9%,#f4f4ff 48.9%,#d5d5ff 49.8%,#cbcbff 50.8%,#d6d6ff 51.8%,#fffdfd 53.7%,#ffeded 54.7%,#ffe6e6 55.7%,#ffe3e3 57.6%,#fffafa 63.5%,#fff 68.4%,#fafaff 77.2%,#e0e0ff 85%,#e2e2ff 94.8%,#f5f5ff 98.7%,#f3f3ff 100%)"></i><i style="top:190px;background:linear-gradient(90deg,#bebeff 0%,#bbf 7.8%,#a4a4ff 10.7%,#77f 14.7%,#5d5dff 17.6%,#55f 20.5%,#6464ff 22.5%,#a2a2ff 25.4%,#c2c2ff 28.3%,#d4d4ff 35.2%,#eef 36.2%,#ffebeb 37.1%,#ff9292 39.1%,#ff2323 41%,#f00 42%,#ff0404 44%,#ff2e2e 44.9%,#ffd4d4 47.9%,#fdfdff 48.9%,#dfdfff 49.8%,#d5d5ff 50.8%,#ddf 51.8%,#f1f1ff 52.8%,#fffafa 53.7%,#ffe6e6 55.7%,#ffe4e4 57.6%,#fff 66.4%,#f7f7ff 73.3%,#fafaff 77.2%,#e0e0ff 85%,#e1e1ff 93.8%,#e7e7ff 95.7%,#fcfcff 98.7%,#fafaff 100%)"></i><i style="top:192px;background:linear-gradient(90deg,#bdbdff 0%,#babaff 7.8%,#a2a2ff 10.7%,#7575ff 14.7%,#5d5dff 17.6%,#5454ff 19.5%,#6161ff 21.5%,#8a8aff 23.4%,#a8a8ff 25.4%,#bebeff 28.3%,#ceceff 35.2%,#e5e5ff 36.2%,#fff0f0 37.1%,#ff9a9a 39.1%,#ff3535 41%,#ff1515 42%,#ff0b0b 43%,#ff1a1a 44%,#ff3c3c 44.9%,#ffc1c1 47.9%,#ffe4e4 48.9%,#fffcfc 49.8%,#f8f8ff 50.8%,#fbfbff 51.8%,#ffe9e9 54.7%,#ffe5e5 56.7%,#fff 66.4%,#f2f2ff 72.3%,#f8f8ff 78.2%,#e0e0ff 85%,#e1e1ff 93.8%,#e8e8ff 95.7%,#fefeff 98.7%,#fbfbff 100%)"></i><i style="top:194px;background:linear-gradient(90deg,#bcbcff 0%,#b3b3ff 8.8%,#6b6bff 15.6%,#5454ff 19.5%,#66f 21.5%,#a0a0ff 23.4%,#adadff 24.4%,#c9c9ff 35.2%,#dbdbff 36.2%,#fffafa 37.1%,#ff5353 41%,#ff3636 42%,#ff2c2c 43%,#ff3434 44%,#ff4c4c 44.9%,#ffb0b0 47.9%,#ffcaca 48.9%,#ffe6e6 50.8%,#ffe7e7 57.6%,#fffefe 66.4%,#eef 71.3%,#f8f8ff 78.2%,#e0e0ff 85%,#e1e1ff 93.8%,#f9f9ff 98.7%,#f7f7ff 100%)"></i><i style="top:196px;background:linear-gradient(90deg,#bbf 0%,#b8b8ff 7.8%,#a0a0ff 10.7%,#6262ff 16.6%,#55f 19.5%,#6a6aff 21.5%,#b8b8ff 23.4%,#c3c3ff 24.4%,#b2b2ff 26.4%,#c5c5ff 35.2%,#d3d3ff 36.2%,#fbfbff 37.1%,#fbb 39.1%,#ff7171 41%,#ff5454 42%,#ff4747 43%,#ff4949 44%,#ff5959 44.9%,#ffa7a7 47.9%,#ffcdcd 49.8%,#ffd8d8 50.8%,#ffe0e0 52.8%,#fefeff 67.4%,#ebebff 71.3%,#f9f9ff 77.2%,#e0e0ff 85%,#e1e1ff 93.8%,#efefff 100%)"></i><i style="top:198px;background:linear-gradient(90deg,#bbf 0%,#b8b8ff 7.8%,#a0a0ff 10.7%,#6a6aff 15.6%,#55f 19.5%,#5b5bff 20.5%,#6a6aff 21.5%,#ccf 23.4%,#dcdcff 24.4%,#b6b6ff 26.4%,#c2c2ff 34.2%,#c5c5ff 35.2%,#d6d6ff 36.2%,#fafaff 37.1%,#fcc 39.1%,#ff7171 42%,#ff6161 43%,#ff5c5c 44%,#ff6464 44.9%,#fbb 48.9%,#ffcaca 49.8%,#ffdbdb 51.8%,#ffe1e1 53.7%,#fefeff 67.4%,#ebebff 71.3%,#f8f8ff 78.2%,#e0e0ff 85%,#e1e1ff 94.8%,#e8e8ff 100%)"></i><i style="top:200px;background:linear-gradient(90deg,#bbf 0%,#b8b8ff 7.8%,#9f9fff 10.7%,#6969ff 15.6%,#55f 19.5%,#6868ff 21.5%,#9898ff 22.5%,#d8d8ff 23.4%,#f3f3ff 24.4%,#bfbfff 26.4%,#bdbdff 27.4%,#cfcfff 35.2%,#ededff 36.2%,#fff4f4 37.1%,#ffd8d8 39.1%,#ff8080 43%,#ff7474 44%,#ff7373 44.9%,#ff7d7d 45.9%,#ffcaca 49.8%,#ffd5d5 50.8%,#ffe2e2 53.7%,#ffe7e7 58.6%,#fffdfd 67.4%,#eef 71.3%,#f8f8ff 78.2%,#e0e0ff 85%,#e3e3ff 100%)"></i><i style="top:202px;background:linear-gradient(90deg,#bbf 0%,#b8b8ff 7.8%,#5f5fff 16.6%,#55f 19.5%,#6565ff 21.5%,#9292ff 22.5%,#d5d5ff 23.4%,#fefeff 24.4%,#cacaff 26.4%,#c6c6ff 27.4%,#d4d4ff 33.2%,#dadaff 34.2%,#f4f4ff 35.2%,#fff3f3 36.2%,#ffdfdf 39.1%,#ffc7c7 41%,#ff9494 44%,#ff8a8a 44.9%,#ff8989 45.9%,#ff9191 46.9%,#ffd0d0 50.8%,#ffdfdf 52.8%,#ffe6e6 59.6%,#fffefe 68.4%,#f1f1ff 72.3%,#f5f5ff 79.1%,#e0e0ff 85%,#e1e1ff 100%)"></i><i style="top:204px;background:linear-gradient(90deg,#bbf 0%,#b7b7ff 7.8%,#77f 13.7%,#5454ff 18.6%,#6262ff 21.5%,#8a8aff 22.5%,#c7c7ff 23.4%,#f7f7ff 24.4%,#eef 25.4%,#d6d6ff 26.4%,#cfcfff 27.4%,#e5e5ff 32.2%,#fff9f9 34.2%,#ffeded 35.2%,#ffe3e3 40.1%,#ffd4d4 42%,#ffa8a8 44.9%,#ff9797 46.9%,#ffa7a7 48.9%,#ffd1d1 51.8%,#ffdfdf 53.7%,#ffe2e2 59.6%,#fffefe 69.4%,#f4f4ff 72.3%,#f2f2ff 80.1%,#e0e0ff 86%,#e1e1ff 100%)"></i><i style="top:206px;background:linear-gradient(90deg,#bbf 0%,#b5b5ff 7.8%,#6363ff 15.6%,#5353ff 18.6%,#6161ff 21.5%,#8484ff 22.5%,#e4e4ff 24.4%,#ececff 25.4%,#dadaff 27.4%,#dedeff 28.3%,#fcfcff 31.3%,#fff1f1 32.2%,#ffe1e1 33.2%,#fee 38.1%,#ffe8e8 42%,#ffe1e1 43%,#ffb6b6 45.9%,#ffa3a3 47.9%,#ffacac 49.8%,#ffd1d1 52.8%,#fdd 54.7%,#ffdede 59.6%,#fffdfd 70.3%,#f1f1ff 80.1%,#e0e0ff 86%,#e0e0ff 100%)"></i><i style="top:208px;background:linear-gradient(90deg,#bbf 0%,#b3b3ff 7.8%,#6161ff 15.6%,#5252ff 18.6%,#6262ff 21.5%,#8181ff 22.5%,#d1d1ff 24.4%,#e3e3ff 25.4%,#e4e4ff 27.4%,#fbfbff 29.3%,#fff1f1 30.3%,#ffc9c9 32.2%,#fee 36.2%,#fff4f4 42%,#fdd 44.9%,#ffb7b7 47.9%,#ffafaf 49.8%,#ffd7d7 54.7%,#fdd 60.6%,#fff 72.3%,#e0e0ff 86%,#e0e0ff 100%)"></i><i style="top:210px;background:linear-gradient(90deg,#bbf 0%,#b8b8ff 6.8%,#a0a0ff 9.8%,#6060ff 15.6%,#5151ff 18.6%,#6363ff 21.5%,#c2c2ff 24.4%,#d9d9ff 25.4%,#fafaff 28.3%,#fff1f1 29.3%,#ffc4c4 31.3%,#ffc4c4 32.2%,#fff2f2 36.2%,#fffcfc 40.1%,#fff0f0 44%,#ffc4c4 48.9%,#ffbcbc 50.8%,#ffd6d6 55.7%,#ffd8d8 59.6%,#fff 73.3%,#e1e1ff 86%,#e0e0ff 100%)"></i><i style="top:212px;background:linear-gradient(90deg,#bbf 0%,#b8b8ff 6.8%,#a9a9ff 8.8%,#5f5fff 15.6%,#5151ff 18.6%,#5959ff 20.5%,#6464ff 21.5%,#9f9fff 23.4%,#d1d1ff 25.4%,#fffdfd 28.3%,#ffc9c9 31.3%,#fff5f5 36.2%,#fffefe 40.1%,#fff0f0 44.9%,#ffcbcb 50.8%,#ffc9c9 52.8%,#ffd5d5 56.7%,#ffd6d6 59.6%,#fefeff 74.3%,#e1e1ff 86%,#e0e0ff 100%)"></i></div></div><svg width="685" height="244" style="position:absolute;left:0;top:0"><line x1="26.25" x2="123.4" y1="33.5" y2="33.5" stroke="#3a3a3a" stroke-width="1.05" stroke-dasharray="4.65 4.67"/><line x1="26.25" x2="123.4" y1="113.5" y2="113.5" stroke="#3a3a3a" stroke-width="1.05" stroke-dasharray="4.65 4.67"/><line x1="26.25" x2="123.4" y1="139" y2="139" stroke="#555" stroke-width="1.05" stroke-dasharray="4.65 4.67"/><line x1="26.25" x2="123.4" y1="166" y2="166" stroke="#555" stroke-width="1.05" stroke-dasharray="4.65 4.67"/><line x1="26.25" x2="123.4" y1="192.5" y2="192.5" stroke="#3a3a3a" stroke-width="1.05" stroke-dasharray="4.65 4.67"/><path d="M20.85 1.5H125.4V216.1H20.85Z" fill="none" stroke="#3d3d3d" stroke-width="1.1"/><line x1="17.25" x2="20.85" y1="33.5" y2="33.5" stroke="#3d3d3d" stroke-width="1"/><line x1="17.25" x2="20.85" y1="113.5" y2="113.5" stroke="#3d3d3d" stroke-width="1"/><line x1="17.25" x2="20.85" y1="192.5" y2="192.5" stroke="#3d3d3d" stroke-width="1"/><line x1="18.65" x2="20.85" y1="73.25" y2="73.25" stroke="#3d3d3d" stroke-width="1"/><line x1="18.65" x2="20.85" y1="152.75" y2="152.75" stroke="#3d3d3d" stroke-width="1"/><line x1="26.75" x2="26.75" y1="216.1" y2="218.7" stroke="#3d3d3d" stroke-width="1"/><line x1="44.1584" x2="44.1584" y1="216.1" y2="220.3" stroke="#3d3d3d" stroke-width="1"/><line x1="61.5667" x2="61.5667" y1="216.1" y2="218.7" stroke="#3d3d3d" stroke-width="1"/><line x1="78.9751" x2="78.9751" y1="216.1" y2="220.3" stroke="#3d3d3d" stroke-width="1"/><line x1="96.3835" x2="96.3835" y1="216.1" y2="218.7" stroke="#3d3d3d" stroke-width="1"/><line x1="113.792" x2="113.792" y1="216.1" y2="220.3" stroke="#3d3d3d" stroke-width="1"/><line x1="157.95" x2="255" y1="33.5" y2="33.5" stroke="#3a3a3a" stroke-width="1.05" stroke-dasharray="4.65 4.67"/><line x1="157.95" x2="255" y1="113.5" y2="113.5" stroke="#3a3a3a" stroke-width="1.05" stroke-dasharray="4.65 4.67"/><line x1="157.95" x2="255" y1="139" y2="139" stroke="#555" stroke-width="1.05" stroke-dasharray="4.65 4.67"/><line x1="157.95" x2="255" y1="166" y2="166" stroke="#555" stroke-width="1.05" stroke-dasharray="4.65 4.67"/><line x1="157.95" x2="255" y1="192.5" y2="192.5" stroke="#3a3a3a" stroke-width="1.05" stroke-dasharray="4.65 4.67"/><path d="M152.55 1.5H257V216.1H152.55Z" fill="none" stroke="#3d3d3d" stroke-width="1.1"/><line x1="148.95" x2="152.55" y1="33.5" y2="33.5" stroke="#3d3d3d" stroke-width="1"/><line x1="148.95" x2="152.55" y1="113.5" y2="113.5" stroke="#3d3d3d" stroke-width="1"/><line x1="148.95" x2="152.55" y1="192.5" y2="192.5" stroke="#3d3d3d" stroke-width="1"/><line x1="150.35" x2="152.55" y1="73.25" y2="73.25" stroke="#3d3d3d" stroke-width="1"/><line x1="150.35" x2="152.55" y1="152.75" y2="152.75" stroke="#3d3d3d" stroke-width="1"/><line x1="158.45" x2="158.45" y1="216.1" y2="218.7" stroke="#3d3d3d" stroke-width="1"/><line x1="175.842" x2="175.842" y1="216.1" y2="220.3" stroke="#3d3d3d" stroke-width="1"/><line x1="193.233" x2="193.233" y1="216.1" y2="218.7" stroke="#3d3d3d" stroke-width="1"/><line x1="210.625" x2="210.625" y1="216.1" y2="220.3" stroke="#3d3d3d" stroke-width="1"/><line x1="228.017" x2="228.017" y1="216.1" y2="218.7" stroke="#3d3d3d" stroke-width="1"/><line x1="245.409" x2="245.409" y1="216.1" y2="220.3" stroke="#3d3d3d" stroke-width="1"/><line x1="290" x2="387" y1="33.5" y2="33.5" stroke="#3a3a3a" stroke-width="1.05" stroke-dasharray="4.65 4.67"/><line x1="290" x2="387" y1="113.5" y2="113.5" stroke="#3a3a3a" stroke-width="1.05" stroke-dasharray="4.65 4.67"/><line x1="290" x2="387" y1="139" y2="139" stroke="#555" stroke-width="1.05" stroke-dasharray="4.65 4.67"/><line x1="290" x2="387" y1="166" y2="166" stroke="#555" stroke-width="1.05" stroke-dasharray="4.65 4.67"/><line x1="290" x2="387" y1="192.5" y2="192.5" stroke="#3a3a3a" stroke-width="1.05" stroke-dasharray="4.65 4.67"/><path d="M284.6 1.5H389V216.1H284.6Z" fill="none" stroke="#3d3d3d" stroke-width="1.1"/><line x1="281" x2="284.6" y1="33.5" y2="33.5" stroke="#3d3d3d" stroke-width="1"/><line x1="281" x2="284.6" y1="113.5" y2="113.5" stroke="#3d3d3d" stroke-width="1"/><line x1="281" x2="284.6" y1="192.5" y2="192.5" stroke="#3d3d3d" stroke-width="1"/><line x1="282.4" x2="284.6" y1="73.25" y2="73.25" stroke="#3d3d3d" stroke-width="1"/><line x1="282.4" x2="284.6" y1="152.75" y2="152.75" stroke="#3d3d3d" stroke-width="1"/><line x1="290.5" x2="290.5" y1="216.1" y2="218.7" stroke="#3d3d3d" stroke-width="1"/><line x1="307.883" x2="307.883" y1="216.1" y2="220.3" stroke="#3d3d3d" stroke-width="1"/><line x1="325.267" x2="325.267" y1="216.1" y2="218.7" stroke="#3d3d3d" stroke-width="1"/><line x1="342.65" x2="342.65" y1="216.1" y2="220.3" stroke="#3d3d3d" stroke-width="1"/><line x1="360.034" x2="360.034" y1="216.1" y2="218.7" stroke="#3d3d3d" stroke-width="1"/><line x1="377.417" x2="377.417" y1="216.1" y2="220.3" stroke="#3d3d3d" stroke-width="1"/><line x1="422.8" x2="519.3" y1="33.5" y2="33.5" stroke="#3a3a3a" stroke-width="1.05" stroke-dasharray="4.65 4.67"/><line x1="422.8" x2="519.3" y1="113.5" y2="113.5" stroke="#3a3a3a" stroke-width="1.05" stroke-dasharray="4.65 4.67"/><line x1="422.8" x2="519.3" y1="139" y2="139" stroke="#555" stroke-width="1.05" stroke-dasharray="4.65 4.67"/><line x1="422.8" x2="519.3" y1="166" y2="166" stroke="#555" stroke-width="1.05" stroke-dasharray="4.65 4.67"/><line x1="422.8" x2="519.3" y1="192.5" y2="192.5" stroke="#3a3a3a" stroke-width="1.05" stroke-dasharray="4.65 4.67"/><path d="M417.4 1.5H521.3V216.1H417.4Z" fill="none" stroke="#3d3d3d" stroke-width="1.1"/><line x1="413.8" x2="417.4" y1="33.5" y2="33.5" stroke="#3d3d3d" stroke-width="1"/><line x1="413.8" x2="417.4" y1="113.5" y2="113.5" stroke="#3d3d3d" stroke-width="1"/><line x1="413.8" x2="417.4" y1="192.5" y2="192.5" stroke="#3d3d3d" stroke-width="1"/><line x1="415.2" x2="417.4" y1="73.25" y2="73.25" stroke="#3d3d3d" stroke-width="1"/><line x1="415.2" x2="417.4" y1="152.75" y2="152.75" stroke="#3d3d3d" stroke-width="1"/><line x1="423.3" x2="423.3" y1="216.1" y2="218.7" stroke="#3d3d3d" stroke-width="1"/><line x1="440.6" x2="440.6" y1="216.1" y2="220.3" stroke="#3d3d3d" stroke-width="1"/><line x1="457.9" x2="457.9" y1="216.1" y2="218.7" stroke="#3d3d3d" stroke-width="1"/><line x1="475.2" x2="475.2" y1="216.1" y2="220.3" stroke="#3d3d3d" stroke-width="1"/><line x1="492.501" x2="492.501" y1="216.1" y2="218.7" stroke="#3d3d3d" stroke-width="1"/><line x1="509.801" x2="509.801" y1="216.1" y2="220.3" stroke="#3d3d3d" stroke-width="1"/><line x1="554.85" x2="651.3" y1="33.5" y2="33.5" stroke="#3a3a3a" stroke-width="1.05" stroke-dasharray="4.65 4.67"/><line x1="554.85" x2="651.3" y1="113.5" y2="113.5" stroke="#3a3a3a" stroke-width="1.05" stroke-dasharray="4.65 4.67"/><line x1="554.85" x2="651.3" y1="139" y2="139" stroke="#555" stroke-width="1.05" stroke-dasharray="4.65 4.67"/><line x1="554.85" x2="651.3" y1="166" y2="166" stroke="#555" stroke-width="1.05" stroke-dasharray="4.65 4.67"/><line x1="554.85" x2="651.3" y1="192.5" y2="192.5" stroke="#3a3a3a" stroke-width="1.05" stroke-dasharray="4.65 4.67"/><path d="M549.45 1.5H653.3V216.1H549.45Z" fill="none" stroke="#3d3d3d" stroke-width="1.1"/><line x1="545.85" x2="549.45" y1="33.5" y2="33.5" stroke="#3d3d3d" stroke-width="1"/><line x1="545.85" x2="549.45" y1="113.5" y2="113.5" stroke="#3d3d3d" stroke-width="1"/><line x1="545.85" x2="549.45" y1="192.5" y2="192.5" stroke="#3d3d3d" stroke-width="1"/><line x1="547.25" x2="549.45" y1="73.25" y2="73.25" stroke="#3d3d3d" stroke-width="1"/><line x1="547.25" x2="549.45" y1="152.75" y2="152.75" stroke="#3d3d3d" stroke-width="1"/><line x1="555.35" x2="555.35" y1="216.1" y2="218.7" stroke="#3d3d3d" stroke-width="1"/><line x1="572.642" x2="572.642" y1="216.1" y2="220.3" stroke="#3d3d3d" stroke-width="1"/><line x1="589.934" x2="589.934" y1="216.1" y2="218.7" stroke="#3d3d3d" stroke-width="1"/><line x1="607.225" x2="607.225" y1="216.1" y2="220.3" stroke="#3d3d3d" stroke-width="1"/><line x1="624.517" x2="624.517" y1="216.1" y2="218.7" stroke="#3d3d3d" stroke-width="1"/><line x1="641.809" x2="641.809" y1="216.1" y2="220.3" stroke="#3d3d3d" stroke-width="1"/><defs><linearGradient id="cb" x1="0" y1="0" x2="0" y2="1"><stop offset="0" stop-color="#f00"/><stop offset="0.5" stop-color="#fff"/><stop offset="1" stop-color="#00f"/></linearGradient></defs><rect x="656.7" y="24.2" width="11.6" height="121.8" fill="url(#cb)" stroke="#3d3d3d" stroke-width="1"/><line x1="668.3" x2="672" y1="24.9" y2="24.9" stroke="#3d3d3d" stroke-width="1"/><line x1="668.3" x2="672" y1="36.95" y2="36.95" stroke="#3d3d3d" stroke-width="1"/><line x1="668.3" x2="672" y1="49" y2="49" stroke="#3d3d3d" stroke-width="1"/><line x1="668.3" x2="672" y1="61.05" y2="61.05" stroke="#3d3d3d" stroke-width="1"/><line x1="668.3" x2="672" y1="73.1" y2="73.1" stroke="#3d3d3d" stroke-width="1"/><line x1="668.3" x2="672" y1="85.15" y2="85.15" stroke="#3d3d3d" stroke-width="1"/><line x1="668.3" x2="672" y1="97.2" y2="97.2" stroke="#3d3d3d" stroke-width="1"/><line x1="668.3" x2="672" y1="109.25" y2="109.25" stroke="#3d3d3d" stroke-width="1"/><line x1="668.3" x2="672" y1="121.3" y2="121.3" stroke="#3d3d3d" stroke-width="1"/><line x1="668.3" x2="672" y1="133.35" y2="133.35" stroke="#3d3d3d" stroke-width="1"/><line x1="668.3" x2="672" y1="145.4" y2="145.4" stroke="#3d3d3d" stroke-width="1"/></svg><div class="t b" style="transform:translate(6.34px,-0.79px)">a</div><div class="t b" style="transform:translate(132.68px,-0.48px)">b</div><div class="t b" style="transform:translate(265.45px,-0.6px)">c</div><div class="t b" style="transform:translate(396.15px,-0.65px)">d</div><div class="t b" style="transform:translate(529.52px,-0.61px)">e</div><div class="t " style="transform:translate(23.92px,5.42px) scaleX(0.895)">-0.02 V/nm</div><div class="t " style="transform:translate(154.8px,4.72px) scaleX(0.895)">0.02 V/nm</div><div class="t " style="transform:translate(286.48px,4.3px) scaleX(0.895)">0.06 V/nm</div><div class="t " style="transform:translate(419.43px,4.37px) scaleX(0.895)">0.12 V/nm</div><div class="t " style="transform:translate(551.18px,5.34px) scaleX(0.895)">0.2 V/nm</div><div class="t " style="transform:translate(9.5px,28.83px) scaleX(0.895)">4</div><div class="t " style="transform:translate(9.3px,108.63px) scaleX(0.895)">3</div><div class="t " style="transform:translate(9.37px,187.75px) scaleX(0.895)">2</div><div class="t " style="transform:translate(37.44px,222.81px) scaleX(0.895)">1.80</div><div class="t " style="transform:translate(72.06px,222.78px) scaleX(0.895)">1.83</div><div class="t " style="transform:translate(106.96px,222.76px) scaleX(0.895)">1.86</div><div class="t " style="transform:translate(40.48px,236.61px) scaleX(0.895)">Photon energy (eV)</div><div class="t r" style="transform:translate(-3.18px,131.75px) rotate(-90deg) scaleX(0.91)">Filling factor <span class="s">&nu;</span></div><div class="t " style="transform:translate(141.12px,28.78px) scaleX(0.895)">4</div><div class="t " style="transform:translate(141.09px,108.63px) scaleX(0.895)">3</div><div class="t " style="transform:translate(141.22px,187.75px) scaleX(0.895)">2</div><div class="t " style="transform:translate(169.09px,222.81px) scaleX(0.895)">1.80</div><div class="t " style="transform:translate(203.99px,222.75px) scaleX(0.895)">1.83</div><div class="t " style="transform:translate(238.47px,222.8px) scaleX(0.895)">1.86</div><div class="t " style="transform:translate(172.38px,236.43px) scaleX(0.895)">Photon energy (eV)</div><div class="t r" style="transform:translate(129.55px,131.74px) rotate(-90deg) scaleX(0.91)">Filling factor <span class="s">&nu;</span></div><div class="t " style="transform:translate(273.31px,28.75px) scaleX(0.895)">4</div><div class="t " style="transform:translate(273.26px,108.7px) scaleX(0.895)">3</div><div class="t " style="transform:translate(273.24px,187.74px) scaleX(0.895)">2</div><div class="t " style="transform:translate(301.18px,222.82px) scaleX(0.895)">1.80</div><div class="t " style="transform:translate(336.08px,222.75px) scaleX(0.895)">1.83</div><div class="t " style="transform:translate(370.51px,222.79px) scaleX(0.895)">1.86</div><div class="t " style="transform:translate(304.36px,236.38px) scaleX(0.895)">Photon energy (eV)</div><div class="t r" style="transform:translate(261.62px,131.74px) rotate(-90deg) scaleX(0.91)">Filling factor <span class="s">&nu;</span></div><div class="t " style="transform:translate(406.25px,28.76px) scaleX(0.895)">4</div><div class="t " style="transform:translate(406.26px,108.63px) scaleX(0.895)">3</div><div class="t " style="transform:translate(406.29px,187.69px) scaleX(0.895)">2</div><div class="t " style="transform:translate(434.1px,222.77px) scaleX(0.895)">1.80</div><div class="t " style="transform:translate(468.52px,222.82px) scaleX(0.895)">1.83</div><div class="t " style="transform:translate(503.28px,222.83px) scaleX(0.895)">1.86</div><div class="t " style="transform:translate(437.28px,236.33px) scaleX(0.895)">Photon energy (eV)</div><div class="t r" style="transform:translate(394.72px,131.74px) rotate(-90deg) scaleX(0.91)">Filling factor <span class="s">&nu;</span></div><div class="t " style="transform:translate(538.3px,28.76px) scaleX(0.895)">4</div><div class="t " style="transform:translate(538.19px,108.66px) scaleX(0.895)">3</div><div class="t " style="transform:translate(538.2px,187.73px) scaleX(0.895)">2</div><div class="t " style="transform:translate(566.06px,222.74px) scaleX(0.895)">1.80</div><div class="t " style="transform:translate(600.71px,222.76px) scaleX(0.895)">1.83</div><div class="t " style="transform:translate(635.33px,222.82px) scaleX(0.895)">1.86</div><div class="t " style="transform:translate(569.36px,236.26px) scaleX(0.895)">Photon energy (eV)</div><div class="t r" style="transform:translate(526.75px,131.73px) rotate(-90deg) scaleX(0.91)">Filling factor <span class="s">&nu;</span></div><div class="t " style="transform:translate(102.33px,22.53px) scaleX(0.895)"><span class="s">&nu;</span> = 4</div><div class="t " style="transform:translate(114.52px,103.38px) scaleX(0.895)">3</div><div class="t " style="transform:translate(108.52px,129.42px) scaleX(0.895)">8/3</div><div class="t " style="transform:translate(108.3px,157.42px) scaleX(0.895)">7/3</div><div class="t " style="transform:translate(114.81px,182.65px) scaleX(0.895)">2</div><div class="t cbt" style="transform:translate(657.71px,3.69px)"><i>dR</i>/<i>d&#1013;</i></div><div class="t cbu" style="transform:translate(658.09px,13.38px) scaleX(0.895)">(&times;10<sup>&minus;3</sup>)</div><div class="t cbl" style="transform:translate(674.42px,22.43px) scaleX(0.895)">2.5</div><div class="t cbl" style="transform:translate(674.41px,34.45px) scaleX(0.895)">2.0</div><div class="t cbl" style="transform:translate(673.99px,46.43px) scaleX(0.895)">1.5</div><div class="t cbl" style="transform:translate(674.04px,58.51px) scaleX(0.895)">1.0</div><div class="t cbl" style="transform:translate(674.65px,70.5px) scaleX(0.895)">0.5</div><div class="t cbl" style="transform:translate(674.75px,82.55px) scaleX(0.895)">0.0</div><div class="t cbl" style="transform:translate(673.53px,94.47px) scaleX(0.895)">-0.5</div><div class="t cbl" style="transform:translate(672.62px,106.63px) scaleX(0.895)">-1.0</div><div class="t cbl" style="transform:translate(673.26px,118.59px) scaleX(0.895)">-1.5</div><div class="t cbl" style="transform:translate(674.21px,130.71px) scaleX(0.895)">-2.0</div><div class="t cbl" style="transform:translate(673.85px,142.68px) scaleX(0.895)">-2.5</div></body></html>
